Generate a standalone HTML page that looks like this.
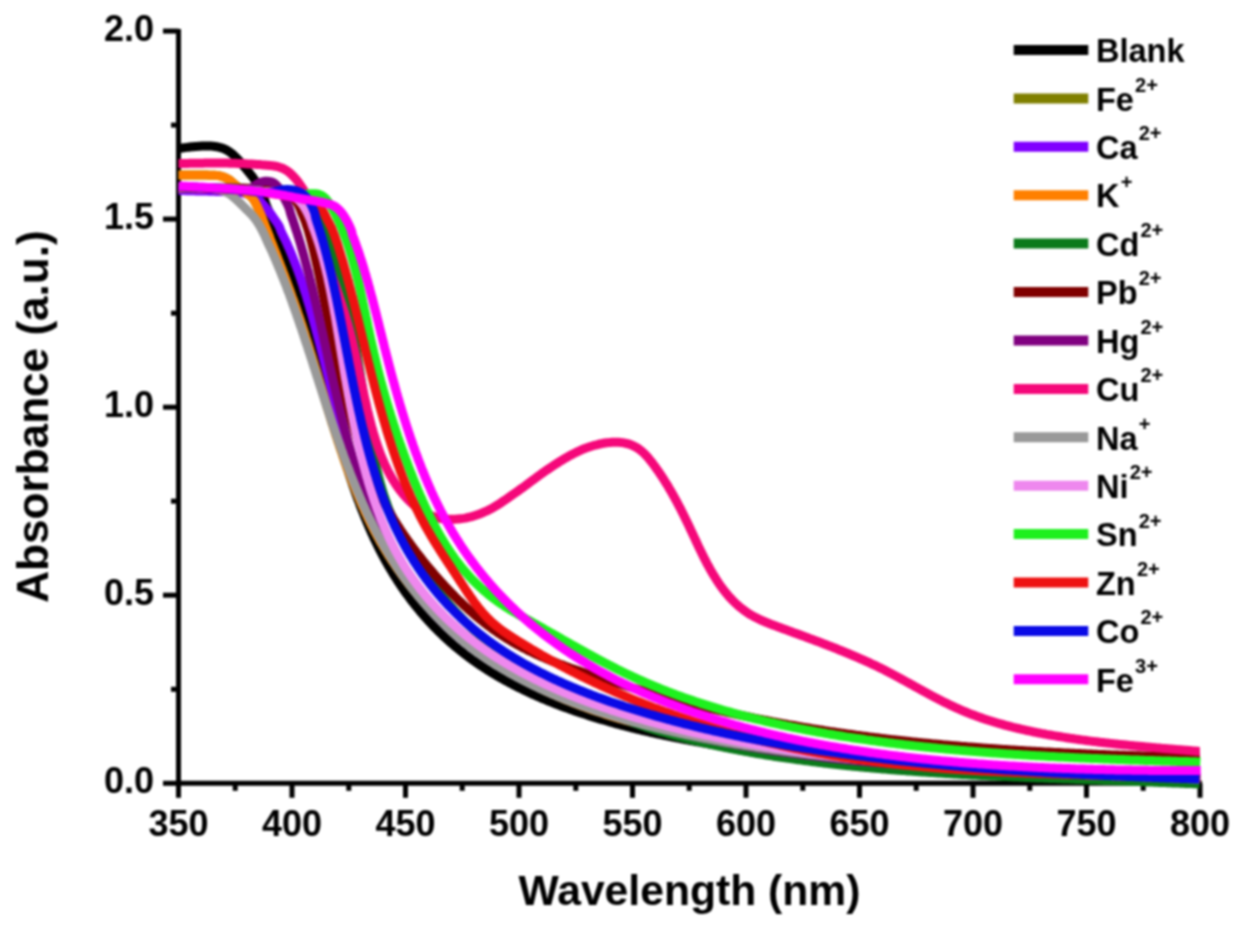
<!DOCTYPE html>
<html><head><meta charset="utf-8"><style>
html,body{margin:0;padding:0;background:#fff;}
svg{display:block;}
#w{filter:blur(1px);width:1243px;height:931px;}
text{font-family:"Liberation Sans",sans-serif;font-weight:bold;fill:#000;}
</style></head><body>
<div id="w"><svg width="1243" height="931" viewBox="0 0 1243 931">
<rect width="1243" height="931" fill="#fff"/>
<g stroke="#000" stroke-width="5" stroke-linecap="butt">
<line x1="178.5" y1="29.09999999999991" x2="178.5" y2="785.3" />
<line x1="176.5" y1="783.3" x2="1202.0" y2="783.3" />
<line x1="163.0" y1="783.3" x2="178.5" y2="783.3" />
<line x1="171.0" y1="689.3" x2="178.5" y2="689.3" />
<line x1="163.0" y1="595.2" x2="178.5" y2="595.2" />
<line x1="171.0" y1="501.2" x2="178.5" y2="501.2" />
<line x1="163.0" y1="407.2" x2="178.5" y2="407.2" />
<line x1="171.0" y1="313.2" x2="178.5" y2="313.2" />
<line x1="163.0" y1="219.1" x2="178.5" y2="219.1" />
<line x1="171.0" y1="125.1" x2="178.5" y2="125.1" />
<line x1="163.0" y1="31.1" x2="178.5" y2="31.1" />
<line x1="178.5" y1="783.3" x2="178.5" y2="797.8" />
<line x1="235.2" y1="783.3" x2="235.2" y2="790.8" />
<line x1="292.0" y1="783.3" x2="292.0" y2="797.8" />
<line x1="348.8" y1="783.3" x2="348.8" y2="790.8" />
<line x1="405.5" y1="783.3" x2="405.5" y2="797.8" />
<line x1="462.2" y1="783.3" x2="462.2" y2="790.8" />
<line x1="519.0" y1="783.3" x2="519.0" y2="797.8" />
<line x1="575.8" y1="783.3" x2="575.8" y2="790.8" />
<line x1="632.5" y1="783.3" x2="632.5" y2="797.8" />
<line x1="689.2" y1="783.3" x2="689.2" y2="790.8" />
<line x1="746.0" y1="783.3" x2="746.0" y2="797.8" />
<line x1="802.8" y1="783.3" x2="802.8" y2="790.8" />
<line x1="859.5" y1="783.3" x2="859.5" y2="797.8" />
<line x1="916.2" y1="783.3" x2="916.2" y2="790.8" />
<line x1="973.0" y1="783.3" x2="973.0" y2="797.8" />
<line x1="1029.8" y1="783.3" x2="1029.8" y2="790.8" />
<line x1="1086.5" y1="783.3" x2="1086.5" y2="797.8" />
<line x1="1143.2" y1="783.3" x2="1143.2" y2="790.8" />
<line x1="1200.0" y1="783.3" x2="1200.0" y2="797.8" />
</g>
<g fill="none" stroke-width="9.0" stroke-linejoin="round" stroke-linecap="butt">
<path d="M178.5 148.5 L180.1 148.3 L181.8 148.1 L183.5 147.8 L185.1 147.6 L186.8 147.4 L188.4 147.2 L190.0 147.0 L191.7 146.8 L193.4 146.7 L195.0 146.5 L196.7 146.4 L198.3 146.3 L200.0 146.2 L201.7 146.1 L203.4 146.0 L205.1 146.0 L206.8 145.9 L208.4 145.9 L210.0 146.0 L211.7 146.1 L213.3 146.3 L214.9 146.5 L216.5 146.7 L218.0 147.0 L219.6 147.4 L221.1 147.8 L222.6 148.3 L224.0 148.8 L225.7 149.6 L227.4 150.5 L229.0 151.5 L230.3 152.4 L231.5 153.4 L232.8 154.4 L234.0 155.5 L235.3 156.7 L236.5 157.9 L237.8 159.2 L239.0 160.5 L240.0 161.7 L241.0 162.8 L242.0 164.1 L243.0 165.3 L244.0 166.5 L245.0 167.7 L246.0 168.9 L247.0 170.1 L248.0 171.3 L249.0 172.5 L250.0 173.8 L251.0 175.0 L252.0 176.3 L253.0 177.6 L254.0 179.0 L254.9 180.3 L255.7 181.6 L256.6 182.9 L257.4 184.2 L258.2 185.6 L259.0 187.0 L259.7 188.4 L260.4 189.9 L261.1 191.4 L261.7 192.9 L262.4 194.4 L263.0 196.0 L263.6 197.5 L264.2 199.2 L264.8 200.8 L265.4 202.5 L265.9 204.1 L266.5 205.6 L267.0 207.0 L267.7 208.6 L268.3 210.1 L268.9 211.5 L269.5 213.0 L270.1 214.5 L270.7 216.0 L271.3 217.5 L271.9 219.1 L272.5 220.6 L273.1 222.1 L273.6 223.7 L274.2 225.2 L274.8 226.8 L275.4 228.3 L276.0 229.9 L276.5 231.4 L277.1 233.0 L277.7 234.5 L278.2 236.1 L278.8 237.6 L279.3 239.2 L279.9 240.8 L280.5 242.3 L281.0 243.9 L281.6 245.5 L282.1 247.0 L282.7 248.6 L283.2 250.2 L283.8 251.8 L284.3 253.3 L284.8 254.9 L285.4 256.5 L285.9 258.1 L286.5 259.7 L287.0 261.3 L287.5 262.8 L288.1 264.4 L288.6 266.0 L289.1 267.6 L289.6 269.2 L290.2 270.8 L290.7 272.4 L291.2 274.0 L291.7 275.6 L292.2 277.2 L292.8 278.8 L293.3 280.4 L293.8 282.0 L294.3 283.6 L294.8 285.3 L295.3 286.9 L295.8 288.5 L296.3 290.1 L296.8 291.7 L297.3 293.3 L297.8 295.0 L298.3 296.6 L298.8 298.2 L299.3 299.8 L299.8 301.5 L300.3 303.1 L300.8 304.7 L301.3 306.3 L301.8 308.0 L302.3 309.6 L302.8 311.2 L303.3 312.9 L303.7 314.5 L304.2 316.2 L304.7 317.8 L305.2 319.4 L305.7 321.1 L306.1 322.7 L306.6 324.4 L307.1 326.0 L307.6 327.7 L308.0 329.3 L308.5 330.9 L309.0 332.6 L309.5 334.2 L309.9 335.9 L310.4 337.6 L310.9 339.2 L311.3 340.9 L311.8 342.5 L312.3 344.2 L312.7 345.8 L313.2 347.5 L313.6 349.2 L314.1 350.8 L314.6 352.5 L315.0 354.1 L315.5 355.8 L315.9 357.5 L316.4 359.1 L316.8 360.8 L317.3 362.5 L317.8 364.1 L318.2 365.8 L318.7 367.5 L319.1 369.1 L319.6 370.8 L320.0 372.5 L320.5 374.1 L320.9 375.8 L321.4 377.5 L321.8 379.2 L322.3 380.8 L322.7 382.5 L323.2 384.2 L323.6 385.8 L324.1 387.5 L324.5 389.2 L325.0 390.9 L325.4 392.5 L325.9 394.2 L326.3 395.9 L326.8 397.5 L327.2 399.2 L327.7 400.9 L328.1 402.5 L328.6 404.2 L329.1 405.9 L329.5 407.5 L330.0 409.2 L330.4 410.9 L330.9 412.5 L331.3 414.2 L331.8 415.9 L332.3 417.5 L332.7 419.2 L333.2 420.8 L333.6 422.5 L334.1 424.1 L334.6 425.8 L335.0 427.5 L335.5 429.1 L336.0 430.8 L336.4 432.4 L336.9 434.1 L337.4 435.7 L337.9 437.4 L338.3 439.0 L338.8 440.6 L339.3 442.3 L339.8 443.9 L340.3 445.6 L340.8 447.2 L341.2 448.8 L341.7 450.5 L342.2 452.1 L342.7 453.7 L343.2 455.4 L343.7 457.0 L344.2 458.6 L344.7 460.2 L345.2 461.8 L345.7 463.4 L346.2 465.1 L346.7 466.7 L347.3 468.3 L347.8 469.9 L348.3 471.5 L348.8 473.1 L349.3 474.7 L349.9 476.3 L350.4 477.9 L350.9 479.5 L351.5 481.1 L352.0 482.6 L352.5 484.2 L353.1 485.8 L353.6 487.4 L354.2 488.9 L354.7 490.5 L355.3 492.1 L355.8 493.6 L356.4 495.2 L357.0 496.8 L357.5 498.3 L358.1 499.9 L358.7 501.4 L359.3 502.9 L359.8 504.5 L360.4 506.0 L361.0 507.5 L361.6 509.1 L362.2 510.6 L362.8 512.1 L363.4 513.6 L364.0 515.1 L364.6 516.7 L365.2 518.2 L365.9 519.7 L366.5 521.2 L367.1 522.7 L367.8 524.1 L368.4 525.6 L369.0 527.1 L369.7 528.6 L370.3 530.1 L371.0 531.5 L371.6 533.0 L372.3 534.4 L373.0 535.9 L373.6 537.3 L374.3 538.8 L375.0 540.2 L375.7 541.7 L376.4 543.1 L377.1 544.5 L377.8 545.9 L378.5 547.3 L379.2 548.8 L379.9 550.2 L380.6 551.6 L381.4 553.0 L382.1 554.3 L382.8 555.7 L383.6 557.1 L384.3 558.5 L385.1 559.9 L385.8 561.2 L386.6 562.6 L387.4 563.9 L388.1 565.3 L388.9 566.6 L389.7 568.0 L390.5 569.3 L391.3 570.6 L392.1 572.0 L392.9 573.3 L393.7 574.6 L394.5 575.9 L395.3 577.2 L396.1 578.5 L397.0 579.8 L397.8 581.1 L398.6 582.4 L399.5 583.6 L400.3 584.9 L401.2 586.2 L402.0 587.4 L402.9 588.7 L403.8 590.0 L404.6 591.2 L405.5 592.4 L406.4 593.7 L407.3 594.9 L408.2 596.1 L409.1 597.3 L410.0 598.6 L410.9 599.8 L411.8 601.0 L412.8 602.2 L413.7 603.4 L414.6 604.6 L415.6 605.7 L416.5 606.9 L417.5 608.1 L418.4 609.2 L419.4 610.4 L420.3 611.6 L421.3 612.7 L422.3 613.9 L423.3 615.0 L424.3 616.1 L425.3 617.3 L426.3 618.4 L427.3 619.5 L428.3 620.6 L429.3 621.7 L430.3 622.8 L431.3 623.9 L432.4 625.0 L433.4 626.1 L434.4 627.2 L435.5 628.2 L436.6 629.3 L437.6 630.4 L438.7 631.4 L439.7 632.5 L440.8 633.5 L441.9 634.5 L443.0 635.6 L444.1 636.6 L445.2 637.6 L446.3 638.6 L447.4 639.7 L448.5 640.7 L449.6 641.7 L450.8 642.7 L451.9 643.6 L453.0 644.6 L454.2 645.6 L455.3 646.6 L456.5 647.5 L457.7 648.5 L458.8 649.5 L460.0 650.4 L461.2 651.3 L462.4 652.3 L463.5 653.2 L464.7 654.1 L465.9 655.1 L467.2 656.0 L468.4 656.9 L469.6 657.8 L470.8 658.7 L472.0 659.6 L473.3 660.5 L474.5 661.3 L475.8 662.2 L477.0 663.1 L478.3 663.9 L479.5 664.8 L480.8 665.7 L482.1 666.5 L483.4 667.3 L484.6 668.2 L485.9 669.0 L487.2 669.8 L488.5 670.7 L489.8 671.5 L491.1 672.3 L492.5 673.1 L493.8 673.9 L495.1 674.7 L496.4 675.5 L497.8 676.3 L499.1 677.0 L500.5 677.8 L501.8 678.6 L503.2 679.3 L504.5 680.1 L505.9 680.9 L507.3 681.6 L508.7 682.3 L510.0 683.1 L511.4 683.8 L512.8 684.5 L514.2 685.3 L515.6 686.0 L517.0 686.7 L518.4 687.4 L519.9 688.1 L521.3 688.8 L522.7 689.5 L524.1 690.2 L525.6 690.9 L527.0 691.6 L528.4 692.3 L529.9 692.9 L531.3 693.6 L532.8 694.3 L534.3 694.9 L535.7 695.6 L537.2 696.2 L538.7 696.9 L540.2 697.5 L541.6 698.2 L543.1 698.8 L544.6 699.4 L546.1 700.0 L547.6 700.7 L549.1 701.3 L550.6 701.9 L552.2 702.5 L553.7 703.1 L555.2 703.7 L556.7 704.3 L558.2 704.9 L559.8 705.5 L561.3 706.1 L562.9 706.6 L564.4 707.2 L566.0 707.8 L567.5 708.3 L569.1 708.9 L570.6 709.5 L572.2 710.0 L573.8 710.6 L575.4 711.1 L576.9 711.7 L578.5 712.2 L580.1 712.7 L581.7 713.3 L583.3 713.8 L584.9 714.3 L586.5 714.8 L588.1 715.4 L589.7 715.9 L591.3 716.4 L592.9 716.9 L594.5 717.4 L596.2 717.9 L597.8 718.4 L599.4 718.9 L601.0 719.4 L602.7 719.8 L604.3 720.3 L606.0 720.8 L607.6 721.3 L609.3 721.8 L610.9 722.2 L612.6 722.7 L614.2 723.1 L615.9 723.6 L617.6 724.1 L619.2 724.5 L620.9 725.0 L622.6 725.4 L624.3 725.8 L625.9 726.3 L627.6 726.7 L629.3 727.2 L631.0 727.6 L632.7 728.0 L634.4 728.4 L636.1 728.9 L637.8 729.3 L639.5 729.7 L641.2 730.1 L642.9 730.5 L644.7 730.9 L646.4 731.3 L648.1 731.7 L649.8 732.1 L651.5 732.5 L653.3 732.9 L655.0 733.3 L656.7 733.7 L658.5 734.0 L660.2 734.4 L662.0 734.8 L663.7 735.2 L665.5 735.5 L667.2 735.9 L669.0 736.3 L670.7 736.6 L672.5 737.0 L674.3 737.4 L676.0 737.7 L677.8 738.1 L679.6 738.4 L681.3 738.8 L683.1 739.1 L684.9 739.5 L686.7 739.8 L688.5 740.1 L690.2 740.5 L692.0 740.8 L693.8 741.1 L695.6 741.5 L697.4 741.8 L699.2 742.1 L701.0 742.4 L702.8 742.8 L704.6 743.1 L706.4 743.4 L708.2 743.7 L710.0 744.0 L711.9 744.3 L713.7 744.6 L715.5 744.9 L717.3 745.2 L719.1 745.5 L721.0 745.8 L722.8 746.1 L724.6 746.4 L726.4 746.7 L728.3 747.0 L730.1 747.3 L731.9 747.6 L733.8 747.8 L735.6 748.1 L737.5 748.4 L739.3 748.7 L741.1 749.0 L743.0 749.2 L744.8 749.5 L746.7 749.8 L748.6 750.0 L750.4 750.3 L751.9 750.5 L753.4 750.7 L754.9 750.9 L756.4 751.2 L757.8 751.4 L759.3 751.6 L760.8 751.8 L762.3 752.0 L763.8 752.2 L765.3 752.4 L766.8 752.6 L768.3 752.8 L769.8 753.0 L771.3 753.2 L772.8 753.4 L774.3 753.6 L775.8 753.8 L777.3 754.0 L778.8 754.2 L780.3 754.4 L781.8 754.6 L783.3 754.7 L784.8 754.9 L786.3 755.1 L787.8 755.3 L789.3 755.5 L790.9 755.7 L792.4 755.9 L793.9 756.1 L795.4 756.2 L796.9 756.4 L798.4 756.6 L799.9 756.8 L801.5 757.0 L803.0 757.1 L804.5 757.3 L806.0 757.5 L807.5 757.7 L809.0 757.9 L810.6 758.0 L812.1 758.2 L813.6 758.4 L815.1 758.6 L816.7 758.7 L818.2 758.9 L819.7 759.1 L821.2 759.3 L822.8 759.4 L824.3 759.6 L825.8 759.8 L827.3 759.9 L828.9 760.1 L830.4 760.3 L831.9 760.4 L833.4 760.6 L835.0 760.8 L836.5 760.9 L838.0 761.1 L839.6 761.3 L841.1 761.4 L842.6 761.6 L844.2 761.8 L845.7 761.9 L847.3 762.1 L848.8 762.2 L850.3 762.4 L851.9 762.6 L853.4 762.7 L854.9 762.9 L856.5 763.0 L858.0 763.2 L859.6 763.3 L861.1 763.5 L862.6 763.7 L864.2 763.8 L865.7 764.0 L867.3 764.1 L868.8 764.3 L870.4 764.4 L871.9 764.6 L873.5 764.7 L875.0 764.9 L876.6 765.0 L878.1 765.2 L879.7 765.3 L881.2 765.5 L882.8 765.6 L884.3 765.7 L885.9 765.9 L887.4 766.0 L889.0 766.2 L890.5 766.3 L892.1 766.5 L893.6 766.6 L895.2 766.7 L896.7 766.9 L898.3 767.0 L899.9 767.2 L901.4 767.3 L903.0 767.4 L904.5 767.6 L906.1 767.7 L907.7 767.9 L909.2 768.0 L910.8 768.1 L912.4 768.3 L913.9 768.4 L915.5 768.5 L917.0 768.6 L918.6 768.8 L920.2 768.9 L921.8 769.0 L923.3 769.2 L924.9 769.3 L926.5 769.4 L928.0 769.6 L929.6 769.7 L931.2 769.8 L932.7 769.9 L934.3 770.1 L935.9 770.2 L937.5 770.3 L939.0 770.4 L940.6 770.5 L942.2 770.7 L943.8 770.8 L945.3 770.9 L946.9 771.0 L948.5 771.1 L950.1 771.3 L951.7 771.4 L953.2 771.5 L954.8 771.6 L956.4 771.7 L958.0 771.8 L959.6 771.9 L961.2 772.1 L962.7 772.2 L964.3 772.3 L965.9 772.4 L967.5 772.5 L969.1 772.6 L970.7 772.7 L972.3 772.8 L973.9 772.9 L975.4 773.0 L977.0 773.1 L978.6 773.3 L980.2 773.4 L981.8 773.5 L983.4 773.6 L985.0 773.7 L986.6 773.8 L988.2 773.9 L989.8 774.0 L991.4 774.1 L993.0 774.2 L994.6 774.3 L996.2 774.4 L997.8 774.5 L999.4 774.6 L1001.0 774.7 L1002.6 774.8 L1004.2 774.8 L1005.8 774.9 L1007.4 775.0 L1009.0 775.1 L1010.6 775.2 L1012.2 775.3 L1013.8 775.4 L1015.4 775.5 L1017.0 775.6 L1018.6 775.7 L1020.3 775.8 L1021.9 775.8 L1023.5 775.9 L1025.1 776.0 L1026.7 776.1 L1028.3 776.2 L1029.9 776.3 L1031.5 776.3 L1033.2 776.4 L1034.8 776.5 L1036.4 776.6 L1038.0 776.7 L1039.6 776.7 L1041.2 776.8 L1042.9 776.9 L1044.5 777.0 L1046.1 777.1 L1047.7 777.1 L1049.3 777.2 L1051.0 777.3 L1052.6 777.4 L1054.2 777.4 L1055.8 777.5 L1057.5 777.6 L1059.1 777.6 L1060.7 777.7 L1062.3 777.8 L1064.0 777.9 L1065.6 777.9 L1067.2 778.0 L1068.9 778.1 L1070.5 778.1 L1072.1 778.2 L1073.8 778.2 L1075.4 778.3 L1077.0 778.4 L1078.7 778.4 L1080.3 778.5 L1081.9 778.6 L1083.6 778.6 L1085.2 778.7 L1086.8 778.7 L1088.5 778.8 L1090.1 778.9 L1091.8 778.9 L1093.4 779.0 L1095.0 779.0 L1096.7 779.1 L1098.3 779.1 L1100.0 779.2 L1101.6 779.2 L1103.3 779.3 L1104.9 779.3 L1106.6 779.4 L1108.2 779.4 L1109.9 779.5 L1111.5 779.5 L1113.2 779.6 L1114.8 779.6 L1116.5 779.7 L1118.1 779.7 L1119.8 779.8 L1121.4 779.8 L1123.1 779.9 L1124.7 779.9 L1126.4 779.9 L1128.0 780.0 L1129.7 780.0 L1131.3 780.1 L1133.0 780.1 L1134.7 780.1 L1136.3 780.2 L1138.0 780.2 L1139.6 780.2 L1141.3 780.3 L1143.0 780.3 L1144.6 780.4 L1146.3 780.4 L1148.0 780.4 L1149.6 780.4 L1151.3 780.5 L1153.0 780.5 L1154.6 780.5 L1156.3 780.6 L1158.0 780.6 L1159.6 780.6 L1161.3 780.6 L1163.0 780.7 L1164.6 780.7 L1166.3 780.7 L1168.0 780.7 L1169.7 780.8 L1171.3 780.8 L1173.0 780.8 L1174.7 780.8 L1176.4 780.9 L1178.0 780.9 L1179.7 780.9 L1181.4 780.9 L1183.1 780.9 L1184.8 780.9 L1186.4 781.0 L1188.2 781.0 L1189.9 781.0 L1191.7 781.0 L1193.3 781.0 L1194.9 781.0 L1196.7 781.0 L1198.3 781.1 L1199.9 781.1" stroke="#000000"/>
<path d="M178.5 175.0 L180.0 175.0 L181.5 175.0 L183.0 175.0 L184.5 175.0 L186.0 175.0 L187.6 175.0 L189.1 175.0 L190.6 175.0 L192.0 175.0 L193.5 175.0 L195.0 175.0 L196.6 175.0 L198.1 175.0 L199.7 175.0 L201.3 175.0 L202.8 175.1 L204.4 175.1 L205.9 175.1 L207.3 175.1 L208.7 175.2 L210.0 175.2 L211.8 175.2 L213.5 175.3 L215.1 175.3 L216.6 175.4 L218.0 175.6 L219.8 175.9 L221.4 176.3 L223.0 176.8 L224.7 177.4 L226.4 178.2 L228.0 179.0 L229.4 179.9 L230.7 180.9 L232.0 182.0 L233.3 183.1 L234.6 184.3 L236.0 185.5 L237.2 186.5 L238.4 187.5 L239.7 188.5 L241.0 189.5 L242.5 190.5 L244.0 191.5 L245.5 192.5 L247.0 193.5 L248.3 194.5 L249.7 195.4 L250.9 196.4 L252.0 197.5 L253.1 198.9 L254.1 200.4 L255.0 202.0 L255.8 203.4 L256.5 204.9 L257.3 206.4 L258.0 208.0 L258.6 209.4 L259.2 210.7 L259.8 212.1 L260.4 213.6 L261.0 215.0 L261.6 216.6 L262.2 218.2 L262.8 219.8 L263.4 221.5 L264.0 223.0 L264.6 224.6 L265.2 226.1 L265.8 227.6 L266.4 229.1 L267.0 230.7 L267.6 232.2 L268.2 233.7 L268.8 235.2 L269.4 236.7 L269.9 238.3 L270.5 239.8 L271.1 241.3 L271.7 242.8 L272.3 244.4 L272.9 245.9 L273.5 247.4 L274.1 249.0 L274.7 250.5 L275.3 252.0 L275.9 253.5 L276.5 255.1 L277.1 256.6 L277.7 258.1 L278.2 259.7 L278.8 261.2 L279.4 262.7 L280.0 264.3 L280.6 265.8 L281.2 267.3 L281.8 268.9 L282.3 270.4 L282.9 272.0 L283.5 273.5 L284.1 275.0 L284.7 276.6 L285.2 278.1 L285.8 279.7 L286.4 281.2 L287.0 282.8 L287.5 284.3 L288.1 285.9 L288.7 287.4 L289.2 289.0 L289.8 290.5 L290.4 292.1 L290.9 293.7 L291.5 295.2 L292.0 296.8 L292.6 298.3 L293.2 299.9 L293.7 301.5 L294.3 303.0 L294.8 304.6 L295.4 306.2 L295.9 307.7 L296.5 309.3 L297.0 310.9 L297.6 312.5 L298.1 314.1 L298.6 315.6 L299.2 317.2 L299.7 318.8 L300.3 320.4 L300.8 322.0 L301.3 323.6 L301.9 325.2 L302.4 326.7 L302.9 328.3 L303.4 329.9 L304.0 331.5 L304.5 333.1 L305.0 334.7 L305.5 336.4 L306.0 338.0 L306.5 339.6 L307.0 341.2 L307.6 342.8 L308.1 344.4 L308.6 346.0 L309.1 347.6 L309.6 349.2 L310.1 350.9 L310.6 352.5 L311.1 354.1 L311.6 355.7 L312.1 357.3 L312.6 359.0 L313.1 360.6 L313.6 362.2 L314.1 363.8 L314.6 365.5 L315.1 367.1 L315.6 368.7 L316.1 370.3 L316.6 372.0 L317.1 373.6 L317.5 375.2 L318.0 376.8 L318.5 378.5 L319.0 380.1 L319.5 381.7 L320.0 383.4 L320.5 385.0 L321.0 386.6 L321.5 388.3 L322.0 389.9 L322.5 391.5 L323.0 393.1 L323.5 394.8 L324.0 396.4 L324.4 398.0 L324.9 399.6 L325.4 401.3 L325.9 402.9 L326.4 404.5 L326.9 406.2 L327.4 407.8 L327.9 409.4 L328.4 411.0 L328.9 412.6 L329.4 414.3 L329.9 415.9 L330.4 417.5 L330.9 419.1 L331.4 420.7 L331.9 422.3 L332.4 424.0 L333.0 425.6 L333.5 427.2 L334.0 428.8 L334.5 430.4 L335.0 432.0 L335.5 433.6 L336.0 435.2 L336.6 436.8 L337.1 438.4 L337.6 440.0 L338.1 441.6 L338.7 443.2 L339.2 444.8 L339.7 446.4 L340.2 448.0 L340.8 449.6 L341.3 451.2 L341.9 452.7 L342.4 454.3 L342.9 455.9 L343.5 457.5 L344.0 459.0 L344.6 460.6 L345.1 462.2 L345.7 463.7 L346.3 465.3 L346.8 466.9 L347.4 468.4 L348.0 470.0 L348.5 471.5 L349.1 473.1 L349.7 474.6 L350.3 476.2 L350.8 477.7 L351.4 479.2 L352.0 480.8 L352.6 482.3 L353.2 483.8 L353.8 485.3 L354.4 486.9 L355.0 488.4 L355.6 489.9 L356.2 491.4 L356.8 492.9 L357.5 494.4 L358.1 495.9 L358.7 497.4 L359.3 498.9 L360.0 500.4 L360.6 501.8 L361.3 503.3 L361.9 504.8 L362.6 506.3 L363.2 507.7 L363.9 509.2 L364.5 510.7 L365.2 512.1 L365.9 513.6 L366.6 515.0 L367.3 516.4 L367.9 517.9 L368.6 519.3 L369.3 520.7 L370.0 522.1 L370.7 523.6 L371.4 525.0 L372.2 526.4 L372.9 527.8 L373.6 529.2 L374.3 530.6 L375.1 531.9 L375.8 533.3 L376.6 534.7 L377.3 536.1 L378.1 537.4 L378.8 538.8 L379.6 540.2 L380.3 541.5 L381.1 542.9 L381.9 544.2 L382.7 545.5 L383.5 546.9 L384.3 548.2 L385.1 549.5 L385.9 550.9 L386.7 552.2 L387.5 553.5 L388.3 554.8 L389.1 556.1 L390.0 557.4 L390.8 558.7 L391.6 560.0 L392.5 561.2 L393.3 562.5 L394.2 563.8 L395.0 565.0 L395.9 566.3 L396.7 567.6 L397.6 568.8 L398.5 570.1 L399.4 571.3 L400.2 572.5 L401.1 573.8 L402.0 575.0 L402.9 576.2 L403.8 577.4 L404.7 578.7 L405.6 579.9 L406.6 581.1 L407.5 582.3 L408.4 583.5 L409.3 584.7 L410.3 585.8 L411.2 587.0 L412.2 588.2 L413.1 589.4 L414.1 590.5 L415.0 591.7 L416.0 592.9 L417.0 594.0 L417.9 595.2 L418.9 596.3 L419.9 597.4 L420.9 598.6 L421.9 599.7 L422.9 600.8 L423.9 602.0 L424.9 603.1 L425.9 604.2 L426.9 605.3 L427.9 606.4 L428.9 607.5 L430.0 608.6 L431.0 609.7 L432.0 610.8 L433.1 611.8 L434.1 612.9 L435.2 614.0 L436.2 615.0 L437.3 616.1 L438.4 617.2 L439.4 618.2 L440.5 619.3 L441.6 620.3 L442.7 621.3 L443.7 622.4 L444.8 623.4 L445.9 624.4 L447.0 625.4 L448.1 626.5 L449.3 627.5 L450.4 628.5 L451.5 629.5 L452.6 630.5 L453.7 631.5 L454.9 632.5 L456.0 633.4 L457.2 634.4 L458.3 635.4 L459.5 636.4 L460.6 637.3 L461.8 638.3 L462.9 639.2 L464.1 640.2 L465.3 641.1 L466.5 642.1 L467.6 643.0 L468.8 644.0 L470.0 644.9 L471.2 645.8 L472.4 646.7 L473.6 647.6 L474.8 648.6 L476.1 649.5 L477.3 650.4 L478.5 651.3 L479.7 652.2 L481.0 653.0 L482.2 653.9 L483.4 654.8 L484.7 655.7 L485.9 656.6 L487.2 657.4 L488.4 658.3 L489.7 659.1 L491.0 660.0 L492.2 660.8 L493.5 661.7 L494.8 662.5 L496.1 663.4 L497.4 664.2 L498.7 665.0 L500.0 665.9 L501.3 666.7 L502.6 667.5 L503.9 668.3 L505.2 669.1 L506.5 669.9 L507.9 670.7 L509.2 671.5 L510.5 672.3 L511.9 673.1 L513.2 673.8 L514.5 674.6 L515.9 675.4 L517.2 676.2 L518.6 676.9 L520.0 677.7 L521.3 678.4 L522.7 679.2 L524.1 679.9 L525.5 680.7 L526.8 681.4 L528.2 682.1 L529.6 682.9 L531.0 683.6 L532.4 684.3 L533.8 685.0 L535.2 685.7 L536.7 686.4 L538.1 687.1 L539.5 687.8 L540.9 688.5 L542.4 689.2 L543.8 689.9 L545.2 690.6 L546.7 691.3 L548.1 691.9 L549.6 692.6 L551.0 693.3 L552.5 693.9 L554.0 694.6 L555.4 695.2 L556.9 695.9 L558.4 696.5 L559.9 697.2 L561.4 697.8 L562.9 698.4 L564.4 699.1 L565.9 699.7 L567.4 700.3 L568.9 700.9 L570.4 701.5 L571.9 702.1 L573.4 702.7 L574.9 703.3 L576.5 703.9 L578.0 704.5 L579.5 705.1 L581.1 705.7 L582.6 706.2 L584.2 706.8 L585.7 707.4 L587.3 707.9 L588.8 708.5 L590.4 709.1 L592.0 709.6 L593.6 710.2 L595.1 710.7 L596.7 711.2 L598.3 711.8 L599.9 712.3 L601.5 712.8 L603.1 713.3 L604.7 713.9 L606.3 714.4 L607.9 714.9 L609.5 715.4 L611.1 715.9 L612.8 716.4 L614.4 716.9 L616.0 717.4 L617.7 717.9 L619.3 718.4 L620.9 718.8 L622.6 719.3 L624.2 719.8 L625.9 720.2 L627.6 720.7 L629.2 721.2 L630.9 721.6 L632.5 722.1 L634.2 722.5 L635.9 723.0 L637.6 723.4 L639.3 723.9 L640.9 724.3 L642.6 724.7 L644.3 725.2 L646.0 725.6 L647.7 726.0 L649.4 726.4 L651.1 726.8 L652.8 727.2 L654.5 727.7 L656.3 728.1 L658.0 728.5 L659.7 728.9 L661.4 729.3 L663.2 729.6 L664.9 730.0 L666.6 730.4 L668.4 730.8 L670.1 731.2 L671.9 731.6 L673.6 731.9 L675.4 732.3 L677.1 732.7 L678.9 733.0 L680.6 733.4 L682.4 733.8 L684.1 734.1 L685.9 734.5 L687.7 734.8 L689.5 735.2 L691.2 735.5 L693.0 735.9 L694.8 736.2 L696.6 736.5 L698.4 736.9 L700.2 737.2 L701.9 737.5 L703.7 737.9 L705.5 738.2 L707.3 738.5 L709.1 738.8 L710.9 739.1 L712.7 739.5 L714.6 739.8 L716.4 740.1 L718.2 740.4 L720.0 740.7 L721.8 741.0 L723.6 741.3 L725.5 741.6 L727.3 741.9 L729.1 742.2 L730.9 742.5 L732.8 742.8 L734.6 743.0 L736.4 743.3 L738.3 743.6 L740.1 743.9 L742.0 744.2 L743.8 744.5 L745.7 744.7 L747.5 745.0 L749.4 745.3 L751.2 745.5 L752.7 745.8 L754.2 746.0 L755.7 746.2 L757.1 746.4 L758.6 746.6 L760.1 746.8 L761.6 747.0 L763.1 747.2 L764.6 747.4 L766.1 747.6 L767.6 747.8 L769.1 748.0 L770.6 748.2 L772.1 748.4 L773.6 748.6 L775.1 748.8 L776.6 749.0 L778.1 749.2 L779.6 749.4 L781.1 749.6 L782.6 749.8 L784.1 750.0 L785.6 750.2 L787.1 750.4 L788.6 750.6 L790.1 750.8 L791.6 750.9 L793.1 751.1 L794.6 751.3 L796.2 751.5 L797.7 751.7 L799.2 751.9 L800.7 752.1 L802.2 752.2 L803.7 752.4 L805.2 752.6 L806.8 752.8 L808.3 753.0 L809.8 753.1 L811.3 753.3 L812.8 753.5 L814.4 753.7 L815.9 753.8 L817.4 754.0 L818.9 754.2 L820.4 754.4 L822.0 754.5 L823.5 754.7 L825.0 754.9 L826.5 755.1 L828.1 755.2 L829.6 755.4 L831.1 755.6 L832.6 755.7 L834.2 755.9 L835.7 756.1 L837.2 756.2 L838.8 756.4 L840.3 756.6 L841.8 756.7 L843.4 756.9 L844.9 757.1 L846.4 757.2 L848.0 757.4 L849.5 757.6 L851.0 757.7 L852.6 757.9 L854.1 758.1 L855.6 758.2 L857.2 758.4 L858.7 758.5 L860.2 758.7 L861.8 758.8 L863.3 759.0 L864.9 759.2 L866.4 759.3 L867.9 759.5 L869.5 759.6 L871.0 759.8 L872.6 759.9 L874.1 760.1 L875.7 760.2 L877.2 760.4 L878.7 760.6 L880.3 760.7 L881.8 760.9 L883.4 761.0 L884.9 761.2 L886.5 761.3 L888.0 761.5 L889.6 761.6 L891.1 761.7 L892.7 761.9 L894.2 762.0 L895.8 762.2 L897.3 762.3 L898.9 762.5 L900.4 762.6 L902.0 762.8 L903.6 762.9 L905.1 763.0 L906.7 763.2 L908.2 763.3 L909.8 763.5 L911.3 763.6 L912.9 763.7 L914.5 763.9 L916.0 764.0 L917.6 764.2 L919.1 764.3 L920.7 764.4 L922.3 764.6 L923.8 764.7 L925.4 764.8 L926.9 765.0 L928.5 765.1 L930.1 765.2 L931.6 765.4 L933.2 765.5 L934.8 765.6 L936.3 765.7 L937.9 765.9 L939.5 766.0 L941.1 766.1 L942.6 766.3 L944.2 766.4 L945.8 766.5 L947.3 766.6 L948.9 766.8 L950.5 766.9 L952.1 767.0 L953.6 767.1 L955.2 767.3 L956.8 767.4 L958.4 767.5 L959.9 767.6 L961.5 767.7 L963.1 767.9 L964.7 768.0 L966.2 768.1 L967.8 768.2 L969.4 768.3 L971.0 768.4 L972.6 768.6 L974.2 768.7 L975.7 768.8 L977.3 768.9 L978.9 769.0 L980.5 769.1 L982.1 769.2 L983.7 769.3 L985.3 769.5 L986.8 769.6 L988.4 769.7 L990.0 769.8 L991.6 769.9 L993.2 770.0 L994.8 770.1 L996.4 770.2 L998.0 770.3 L999.6 770.4 L1001.2 770.5 L1002.7 770.6 L1004.3 770.7 L1005.9 770.8 L1007.5 770.9 L1009.1 771.0 L1010.7 771.1 L1012.3 771.2 L1013.9 771.3 L1015.5 771.4 L1017.1 771.5 L1018.7 771.6 L1020.3 771.7 L1021.9 771.8 L1023.5 771.9 L1025.1 772.0 L1026.7 772.1 L1028.3 772.2 L1029.9 772.3 L1031.5 772.4 L1033.2 772.5 L1034.8 772.5 L1036.4 772.6 L1038.0 772.7 L1039.6 772.8 L1041.2 772.9 L1042.8 773.0 L1044.4 773.1 L1046.0 773.2 L1047.6 773.2 L1049.3 773.3 L1050.9 773.4 L1052.5 773.5 L1054.1 773.6 L1055.7 773.7 L1057.3 773.7 L1058.9 773.8 L1060.6 773.9 L1062.2 774.0 L1063.8 774.1 L1065.4 774.1 L1067.0 774.2 L1068.7 774.3 L1070.3 774.4 L1071.9 774.4 L1073.5 774.5 L1075.1 774.6 L1076.8 774.7 L1078.4 774.7 L1080.0 774.8 L1081.6 774.9 L1083.3 775.0 L1084.9 775.0 L1086.5 775.1 L1088.2 775.2 L1089.8 775.2 L1091.4 775.3 L1093.0 775.4 L1094.7 775.4 L1096.3 775.5 L1097.9 775.6 L1099.6 775.6 L1101.2 775.7 L1102.8 775.8 L1104.5 775.8 L1106.1 775.9 L1107.7 775.9 L1109.4 776.0 L1111.0 776.1 L1112.7 776.1 L1114.3 776.2 L1115.9 776.2 L1117.6 776.3 L1119.2 776.3 L1120.9 776.4 L1122.5 776.5 L1124.1 776.5 L1125.8 776.6 L1127.4 776.6 L1129.1 776.7 L1130.7 776.7 L1132.4 776.8 L1134.0 776.8 L1135.7 776.9 L1137.3 776.9 L1139.0 777.0 L1140.6 777.0 L1142.3 777.1 L1143.9 777.1 L1145.6 777.1 L1147.2 777.2 L1148.9 777.2 L1150.5 777.3 L1152.2 777.3 L1153.8 777.4 L1155.5 777.4 L1157.1 777.4 L1158.8 777.5 L1160.5 777.5 L1162.1 777.6 L1163.8 777.6 L1165.4 777.6 L1167.1 777.7 L1168.8 777.7 L1170.4 777.7 L1172.1 777.8 L1173.8 777.8 L1175.4 777.8 L1177.1 777.9 L1178.7 777.9 L1180.4 777.9 L1182.1 778.0 L1183.8 778.0 L1185.4 778.0 L1187.1 778.0 L1188.8 778.1 L1190.5 778.1 L1192.2 778.1 L1193.8 778.2 L1195.4 778.2 L1197.1 778.2 L1198.7 778.2 L1200.3 778.2" stroke="#808000"/>
<path d="M178.5 190.5 L180.0 190.5 L181.6 190.6 L183.2 190.6 L184.8 190.6 L186.4 190.7 L188.0 190.7 L189.6 190.7 L191.3 190.8 L192.9 190.8 L194.5 190.8 L196.1 190.9 L197.8 190.9 L199.4 191.0 L201.0 191.0 L202.6 191.0 L204.2 191.1 L205.7 191.1 L207.3 191.1 L208.8 191.2 L210.3 191.2 L211.8 191.2 L213.2 191.3 L214.7 191.3 L216.0 191.4 L217.4 191.4 L218.7 191.5 L220.0 191.5 L221.8 191.6 L223.6 191.6 L225.3 191.7 L227.0 191.7 L228.6 191.8 L230.2 191.9 L231.8 191.9 L233.3 192.0 L234.8 192.1 L236.2 192.2 L237.5 192.3 L238.8 192.4 L240.0 192.5 L241.9 192.7 L243.5 193.0 L245.1 193.3 L246.5 193.6 L248.0 194.0 L249.6 194.5 L251.1 195.1 L252.6 195.8 L254.0 196.5 L255.3 197.3 L256.6 198.1 L257.8 199.0 L259.0 200.0 L260.3 201.2 L261.5 202.6 L262.8 204.1 L264.0 205.5 L265.0 206.7 L266.0 207.8 L267.0 209.0 L268.0 210.3 L269.0 211.5 L270.0 212.8 L271.0 214.2 L272.0 215.6 L273.0 217.1 L274.0 218.5 L274.9 219.7 L275.8 221.0 L276.7 222.3 L277.5 223.5 L278.3 224.8 L279.0 226.0 L279.7 227.5 L280.3 229.1 L280.8 230.6 L281.4 232.1 L282.1 233.5 L282.8 234.9 L283.5 236.3 L284.2 237.8 L284.9 239.2 L285.6 240.6 L286.3 242.1 L286.9 243.5 L287.6 245.0 L288.2 246.5 L288.9 247.9 L289.5 249.4 L290.1 250.9 L290.8 252.4 L291.4 253.9 L292.0 255.4 L292.6 256.9 L293.2 258.4 L293.8 260.0 L294.4 261.5 L295.0 263.0 L295.6 264.6 L296.2 266.1 L296.8 267.6 L297.3 269.2 L297.9 270.7 L298.5 272.3 L299.0 273.9 L299.6 275.4 L300.1 277.0 L300.7 278.6 L301.2 280.2 L301.7 281.8 L302.3 283.4 L302.8 285.0 L303.3 286.6 L303.8 288.2 L304.3 289.8 L304.8 291.4 L305.4 293.0 L305.9 294.6 L306.4 296.2 L306.9 297.9 L307.3 299.5 L307.8 301.1 L308.3 302.7 L308.8 304.4 L309.3 306.0 L309.8 307.7 L310.2 309.3 L310.7 311.0 L311.2 312.6 L311.7 314.3 L312.1 315.9 L312.6 317.6 L313.1 319.2 L313.5 320.9 L314.0 322.5 L314.4 324.2 L314.9 325.9 L315.3 327.5 L315.8 329.2 L316.2 330.9 L316.7 332.6 L317.1 334.2 L317.6 335.9 L318.0 337.6 L318.5 339.3 L318.9 340.9 L319.3 342.6 L319.8 344.3 L320.2 346.0 L320.7 347.7 L321.1 349.4 L321.5 351.0 L322.0 352.7 L322.4 354.4 L322.9 356.1 L323.3 357.8 L323.7 359.5 L324.2 361.1 L324.6 362.8 L325.0 364.5 L325.5 366.2 L325.9 367.9 L326.3 369.6 L326.8 371.3 L327.2 373.0 L327.6 374.6 L328.1 376.3 L328.5 378.0 L329.0 379.7 L329.4 381.4 L329.8 383.1 L330.3 384.7 L330.7 386.4 L331.1 388.1 L331.6 389.8 L332.0 391.5 L332.5 393.2 L332.9 394.8 L333.3 396.5 L333.8 398.2 L334.2 399.9 L334.7 401.5 L335.1 403.2 L335.6 404.9 L336.0 406.6 L336.5 408.2 L336.9 409.9 L337.4 411.6 L337.8 413.3 L338.3 414.9 L338.7 416.6 L339.2 418.3 L339.6 419.9 L340.1 421.6 L340.6 423.2 L341.0 424.9 L341.5 426.6 L342.0 428.2 L342.4 429.9 L342.9 431.5 L343.4 433.2 L343.8 434.8 L344.3 436.5 L344.8 438.1 L345.3 439.8 L345.7 441.4 L346.2 443.0 L346.7 444.7 L347.2 446.3 L347.7 447.9 L348.2 449.6 L348.7 451.2 L349.2 452.8 L349.7 454.4 L350.2 456.1 L350.7 457.7 L351.2 459.3 L351.7 460.9 L352.2 462.5 L352.7 464.1 L353.2 465.7 L353.8 467.3 L354.3 468.9 L354.8 470.5 L355.3 472.1 L355.9 473.7 L356.4 475.3 L356.9 476.9 L357.5 478.5 L358.0 480.0 L358.6 481.6 L359.1 483.2 L359.7 484.7 L360.2 486.3 L360.8 487.9 L361.4 489.4 L361.9 491.0 L362.5 492.5 L363.1 494.1 L363.6 495.6 L364.2 497.2 L364.8 498.7 L365.4 500.2 L366.0 501.7 L366.6 503.3 L367.2 504.8 L367.8 506.3 L368.4 507.8 L369.0 509.3 L369.6 510.8 L370.3 512.3 L370.9 513.8 L371.5 515.3 L372.2 516.8 L372.8 518.3 L373.4 519.8 L374.1 521.2 L374.7 522.7 L375.4 524.2 L376.1 525.6 L376.7 527.1 L377.4 528.5 L378.1 530.0 L378.7 531.4 L379.4 532.9 L380.1 534.3 L380.8 535.7 L381.5 537.1 L382.2 538.6 L382.9 540.0 L383.7 541.4 L384.4 542.8 L385.1 544.2 L385.8 545.6 L386.6 546.9 L387.3 548.3 L388.1 549.7 L388.8 551.1 L389.6 552.4 L390.3 553.8 L391.1 555.1 L391.9 556.5 L392.7 557.8 L393.4 559.2 L394.2 560.5 L395.0 561.8 L395.8 563.1 L396.6 564.5 L397.4 565.8 L398.3 567.1 L399.1 568.4 L399.9 569.7 L400.7 570.9 L401.6 572.2 L402.4 573.5 L403.3 574.8 L404.1 576.0 L405.0 577.3 L405.9 578.6 L406.7 579.8 L407.6 581.1 L408.5 582.3 L409.4 583.5 L410.3 584.8 L411.2 586.0 L412.1 587.2 L413.0 588.4 L413.9 589.6 L414.8 590.8 L415.7 592.0 L416.7 593.2 L417.6 594.4 L418.5 595.6 L419.5 596.7 L420.4 597.9 L421.4 599.1 L422.4 600.2 L423.3 601.4 L424.3 602.5 L425.3 603.7 L426.3 604.8 L427.3 605.9 L428.3 607.1 L429.3 608.2 L430.3 609.3 L431.3 610.4 L432.3 611.5 L433.3 612.6 L434.3 613.7 L435.4 614.8 L436.4 615.9 L437.4 617.0 L438.5 618.0 L439.6 619.1 L440.6 620.2 L441.7 621.2 L442.7 622.3 L443.8 623.3 L444.9 624.4 L446.0 625.4 L447.1 626.4 L448.2 627.5 L449.3 628.5 L450.4 629.5 L451.5 630.5 L452.6 631.5 L453.7 632.5 L454.9 633.5 L456.0 634.5 L457.1 635.5 L458.3 636.5 L459.4 637.4 L460.6 638.4 L461.7 639.4 L462.9 640.3 L464.1 641.3 L465.2 642.2 L466.4 643.1 L467.6 644.1 L468.8 645.0 L470.0 645.9 L471.2 646.9 L472.4 647.8 L473.6 648.7 L474.8 649.6 L476.1 650.5 L477.3 651.4 L478.5 652.3 L479.8 653.1 L481.0 654.0 L482.3 654.9 L483.5 655.8 L484.8 656.6 L486.0 657.5 L487.3 658.3 L488.6 659.2 L489.9 660.0 L491.2 660.8 L492.4 661.7 L493.7 662.5 L495.0 663.3 L496.4 664.1 L497.7 664.9 L499.0 665.7 L500.3 666.5 L501.6 667.3 L503.0 668.1 L504.3 668.9 L505.6 669.7 L507.0 670.5 L508.3 671.2 L509.7 672.0 L511.1 672.8 L512.4 673.5 L513.8 674.3 L515.2 675.0 L516.6 675.7 L518.0 676.5 L519.3 677.2 L520.7 677.9 L522.1 678.7 L523.5 679.4 L525.0 680.1 L526.4 680.8 L527.8 681.5 L529.2 682.2 L530.6 682.9 L532.1 683.6 L533.5 684.2 L535.0 684.9 L536.4 685.6 L537.9 686.3 L539.3 686.9 L540.8 687.6 L542.2 688.2 L543.7 688.9 L545.2 689.5 L546.7 690.2 L548.2 690.8 L549.6 691.5 L551.1 692.1 L552.6 692.7 L554.1 693.3 L555.6 693.9 L557.1 694.6 L558.7 695.2 L560.2 695.8 L561.7 696.4 L563.2 697.0 L564.8 697.6 L566.3 698.1 L567.8 698.7 L569.4 699.3 L570.9 699.9 L572.5 700.4 L574.0 701.0 L575.6 701.6 L577.1 702.1 L578.7 702.7 L580.3 703.2 L581.9 703.8 L583.4 704.3 L585.0 704.9 L586.6 705.4 L588.2 705.9 L589.8 706.5 L591.4 707.0 L593.0 707.5 L594.6 708.0 L596.2 708.5 L597.8 709.1 L599.4 709.6 L601.0 710.1 L602.7 710.6 L604.3 711.1 L605.9 711.6 L607.5 712.1 L609.2 712.5 L610.8 713.0 L612.4 713.5 L614.1 714.0 L615.7 714.5 L617.4 714.9 L619.0 715.4 L620.7 715.9 L622.3 716.3 L624.0 716.8 L625.7 717.3 L627.3 717.7 L629.0 718.2 L630.7 718.6 L632.3 719.1 L634.0 719.5 L635.7 720.0 L637.4 720.4 L639.1 720.8 L640.8 721.3 L642.4 721.7 L644.1 722.1 L645.8 722.6 L647.5 723.0 L649.2 723.4 L650.9 723.8 L652.6 724.2 L654.3 724.7 L656.0 725.1 L657.8 725.5 L659.5 725.9 L661.2 726.3 L662.9 726.7 L664.6 727.1 L666.3 727.5 L668.1 727.9 L669.8 728.3 L671.5 728.7 L673.3 729.1 L675.0 729.5 L676.7 729.8 L678.5 730.2 L680.2 730.6 L681.9 731.0 L683.7 731.4 L685.4 731.7 L687.2 732.1 L688.9 732.5 L690.7 732.8 L692.4 733.2 L694.2 733.6 L696.0 733.9 L697.7 734.3 L699.5 734.6 L701.3 735.0 L703.0 735.4 L704.8 735.7 L706.6 736.0 L708.4 736.4 L710.1 736.7 L711.9 737.1 L713.7 737.4 L715.5 737.8 L717.3 738.1 L719.1 738.4 L720.8 738.8 L722.6 739.1 L724.4 739.4 L726.2 739.7 L728.0 740.1 L729.8 740.4 L731.6 740.7 L733.4 741.0 L735.2 741.3 L737.0 741.6 L738.9 742.0 L740.7 742.3 L742.5 742.6 L744.3 742.9 L746.1 743.2 L747.9 743.5 L749.8 743.8 L751.6 744.1 L753.4 744.4 L755.2 744.7 L757.1 745.0 L758.9 745.2 L760.7 745.5 L762.6 745.8 L764.4 746.1 L766.2 746.4 L768.1 746.7 L769.9 746.9 L771.8 747.2 L773.6 747.5 L775.5 747.8 L777.3 748.0 L779.2 748.3 L781.0 748.6 L782.9 748.8 L784.4 749.1 L785.8 749.3 L787.3 749.5 L788.8 749.7 L790.3 749.9 L791.8 750.1 L793.3 750.3 L794.8 750.5 L796.3 750.7 L797.8 750.9 L799.3 751.1 L800.8 751.3 L802.3 751.5 L803.8 751.7 L805.3 751.9 L806.8 752.1 L808.3 752.3 L809.8 752.5 L811.3 752.7 L812.8 752.9 L814.3 753.1 L815.8 753.2 L817.3 753.4 L818.8 753.6 L820.3 753.8 L821.9 754.0 L823.4 754.2 L824.9 754.4 L826.4 754.5 L827.9 754.7 L829.4 754.9 L830.9 755.1 L832.5 755.3 L834.0 755.4 L835.5 755.6 L837.0 755.8 L838.6 756.0 L840.1 756.1 L841.6 756.3 L843.1 756.5 L844.7 756.6 L846.2 756.8 L847.7 757.0 L849.2 757.2 L850.8 757.3 L852.3 757.5 L853.8 757.6 L855.4 757.8 L856.9 758.0 L858.4 758.1 L860.0 758.3 L861.5 758.5 L863.0 758.6 L864.6 758.8 L866.1 758.9 L867.7 759.1 L869.2 759.2 L870.8 759.4 L872.3 759.6 L873.8 759.7 L875.4 759.9 L876.9 760.0 L878.5 760.2 L880.0 760.3 L881.6 760.5 L883.1 760.6 L884.7 760.7 L886.2 760.9 L887.8 761.0 L889.3 761.2 L890.9 761.3 L892.4 761.5 L894.0 761.6 L895.5 761.8 L897.1 761.9 L898.7 762.0 L900.2 762.2 L901.8 762.3 L903.3 762.4 L904.9 762.6 L906.5 762.7 L908.0 762.9 L909.6 763.0 L911.1 763.1 L912.7 763.3 L914.3 763.4 L915.8 763.5 L917.4 763.6 L919.0 763.8 L920.5 763.9 L922.1 764.0 L923.7 764.2 L925.3 764.3 L926.8 764.4 L928.4 764.5 L930.0 764.7 L931.5 764.8 L933.1 764.9 L934.7 765.0 L936.3 765.2 L937.8 765.3 L939.4 765.4 L941.0 765.5 L942.6 765.6 L944.2 765.8 L945.7 765.9 L947.3 766.0 L948.9 766.1 L950.5 766.2 L952.1 766.3 L953.6 766.5 L955.2 766.6 L956.8 766.7 L958.4 766.8 L960.0 766.9 L961.6 767.0 L963.1 767.1 L964.7 767.2 L966.3 767.3 L967.9 767.5 L969.5 767.6 L971.1 767.7 L972.7 767.8 L974.3 767.9 L975.9 768.0 L977.5 768.1 L979.0 768.2 L980.6 768.3 L982.2 768.4 L983.8 768.5 L985.4 768.6 L987.0 768.7 L988.6 768.8 L990.2 768.9 L991.8 769.0 L993.4 769.1 L995.0 769.2 L996.6 769.3 L998.2 769.4 L999.8 769.5 L1001.4 769.6 L1003.0 769.7 L1004.6 769.8 L1006.2 769.9 L1007.8 770.0 L1009.4 770.1 L1011.0 770.2 L1012.6 770.3 L1014.2 770.4 L1015.8 770.5 L1017.4 770.6 L1019.0 770.6 L1020.6 770.7 L1022.2 770.8 L1023.8 770.9 L1025.4 771.0 L1027.1 771.1 L1028.7 771.2 L1030.3 771.3 L1031.9 771.4 L1033.5 771.5 L1035.1 771.5 L1036.7 771.6 L1038.3 771.7 L1039.9 771.8 L1041.5 771.9 L1043.2 772.0 L1044.8 772.1 L1046.4 772.1 L1048.0 772.2 L1049.6 772.3 L1051.2 772.4 L1052.8 772.5 L1054.4 772.6 L1056.1 772.6 L1057.7 772.7 L1059.3 772.8 L1060.9 772.9 L1062.5 773.0 L1064.1 773.1 L1065.8 773.1 L1067.4 773.2 L1069.0 773.3 L1070.6 773.4 L1072.2 773.5 L1073.8 773.5 L1075.5 773.6 L1077.1 773.7 L1078.7 773.8 L1080.3 773.8 L1081.9 773.9 L1083.6 774.0 L1085.2 774.1 L1086.8 774.1 L1088.4 774.2 L1090.0 774.3 L1091.7 774.4 L1093.3 774.5 L1094.9 774.5 L1096.5 774.6 L1098.2 774.7 L1099.8 774.8 L1101.4 774.8 L1103.0 774.9 L1104.6 775.0 L1106.3 775.0 L1107.9 775.1 L1109.5 775.2 L1111.1 775.3 L1112.8 775.3 L1114.4 775.4 L1116.0 775.5 L1117.6 775.6 L1119.3 775.6 L1120.9 775.7 L1122.5 775.8 L1124.1 775.8 L1125.8 775.9 L1127.4 776.0 L1129.0 776.1 L1130.6 776.1 L1132.3 776.2 L1133.9 776.3 L1135.5 776.3 L1137.2 776.4 L1138.8 776.5 L1140.4 776.5 L1142.0 776.6 L1143.7 776.7 L1145.3 776.8 L1146.9 776.8 L1148.5 776.9 L1150.2 777.0 L1151.8 777.0 L1153.4 777.1 L1155.1 777.2 L1156.7 777.2 L1158.3 777.3 L1159.9 777.4 L1161.6 777.4 L1163.2 777.5 L1164.8 777.6 L1166.5 777.6 L1168.1 777.7 L1169.7 777.8 L1171.3 777.9 L1173.0 777.9 L1174.6 778.0 L1176.2 778.1 L1177.9 778.1 L1179.5 778.2 L1181.1 778.3 L1182.7 778.3 L1184.4 778.4 L1186.0 778.5 L1187.7 778.5 L1189.3 778.6 L1191.0 778.7 L1192.6 778.7 L1194.1 778.8 L1196.0 778.9 L1197.7 779.0 L1199.5 779.0" stroke="#8000FF"/>
<path d="M178.5 175.0 L180.0 175.0 L181.5 175.0 L183.0 175.0 L184.5 175.0 L186.0 175.0 L187.6 175.0 L189.1 175.0 L190.6 175.0 L192.0 175.0 L193.5 175.0 L195.0 175.0 L196.6 175.0 L198.1 175.0 L199.7 175.0 L201.3 175.0 L202.8 175.1 L204.4 175.1 L205.9 175.1 L207.3 175.1 L208.7 175.2 L210.0 175.2 L211.8 175.2 L213.5 175.3 L215.1 175.3 L216.6 175.4 L218.0 175.6 L219.8 175.9 L221.4 176.3 L223.0 176.8 L224.7 177.4 L226.4 178.2 L228.0 179.0 L229.4 179.9 L230.7 180.9 L232.0 182.0 L233.3 183.1 L234.6 184.3 L236.0 185.5 L237.2 186.5 L238.4 187.5 L239.7 188.5 L241.0 189.5 L242.5 190.5 L244.0 191.5 L245.5 192.5 L247.0 193.5 L248.3 194.5 L249.7 195.4 L250.9 196.4 L252.0 197.5 L253.1 198.9 L254.1 200.4 L255.0 202.0 L255.8 203.4 L256.5 204.9 L257.3 206.4 L258.0 208.0 L258.6 209.4 L259.2 210.7 L259.8 212.1 L260.4 213.6 L261.0 215.0 L261.6 216.6 L262.2 218.2 L262.8 219.8 L263.4 221.5 L264.0 223.0 L264.6 224.6 L265.2 226.1 L265.8 227.6 L266.4 229.1 L267.0 230.7 L267.6 232.2 L268.2 233.7 L268.8 235.2 L269.4 236.7 L269.9 238.3 L270.5 239.8 L271.1 241.3 L271.7 242.8 L272.3 244.4 L272.9 245.9 L273.5 247.4 L274.1 249.0 L274.7 250.5 L275.3 252.0 L275.9 253.5 L276.5 255.1 L277.1 256.6 L277.7 258.1 L278.2 259.7 L278.8 261.2 L279.4 262.7 L280.0 264.3 L280.6 265.8 L281.2 267.3 L281.8 268.9 L282.3 270.4 L282.9 272.0 L283.5 273.5 L284.1 275.0 L284.7 276.6 L285.2 278.1 L285.8 279.7 L286.4 281.2 L287.0 282.8 L287.5 284.3 L288.1 285.9 L288.7 287.4 L289.2 289.0 L289.8 290.5 L290.4 292.1 L290.9 293.7 L291.5 295.2 L292.0 296.8 L292.6 298.3 L293.2 299.9 L293.7 301.5 L294.3 303.0 L294.8 304.6 L295.4 306.2 L295.9 307.7 L296.5 309.3 L297.0 310.9 L297.6 312.5 L298.1 314.1 L298.6 315.6 L299.2 317.2 L299.7 318.8 L300.3 320.4 L300.8 322.0 L301.3 323.6 L301.9 325.2 L302.4 326.7 L302.9 328.3 L303.4 329.9 L304.0 331.5 L304.5 333.1 L305.0 334.7 L305.5 336.4 L306.0 338.0 L306.5 339.6 L307.0 341.2 L307.6 342.8 L308.1 344.4 L308.6 346.0 L309.1 347.6 L309.6 349.2 L310.1 350.9 L310.6 352.5 L311.1 354.1 L311.6 355.7 L312.1 357.3 L312.6 359.0 L313.1 360.6 L313.6 362.2 L314.1 363.8 L314.6 365.5 L315.1 367.1 L315.6 368.7 L316.1 370.3 L316.6 372.0 L317.1 373.6 L317.5 375.2 L318.0 376.8 L318.5 378.5 L319.0 380.1 L319.5 381.7 L320.0 383.4 L320.5 385.0 L321.0 386.6 L321.5 388.3 L322.0 389.9 L322.5 391.5 L323.0 393.1 L323.5 394.8 L324.0 396.4 L324.4 398.0 L324.9 399.6 L325.4 401.3 L325.9 402.9 L326.4 404.5 L326.9 406.2 L327.4 407.8 L327.9 409.4 L328.4 411.0 L328.9 412.6 L329.4 414.3 L329.9 415.9 L330.4 417.5 L330.9 419.1 L331.4 420.7 L331.9 422.3 L332.4 424.0 L333.0 425.6 L333.5 427.2 L334.0 428.8 L334.5 430.4 L335.0 432.0 L335.5 433.6 L336.0 435.2 L336.6 436.8 L337.1 438.4 L337.6 440.0 L338.1 441.6 L338.7 443.2 L339.2 444.8 L339.7 446.4 L340.2 448.0 L340.8 449.6 L341.3 451.2 L341.9 452.7 L342.4 454.3 L342.9 455.9 L343.5 457.5 L344.0 459.0 L344.6 460.6 L345.1 462.2 L345.7 463.7 L346.3 465.3 L346.8 466.9 L347.4 468.4 L348.0 470.0 L348.5 471.5 L349.1 473.1 L349.7 474.6 L350.3 476.2 L350.8 477.7 L351.4 479.2 L352.0 480.8 L352.6 482.3 L353.2 483.8 L353.8 485.3 L354.4 486.9 L355.0 488.4 L355.6 489.9 L356.2 491.4 L356.8 492.9 L357.5 494.4 L358.1 495.9 L358.7 497.4 L359.3 498.9 L360.0 500.4 L360.6 501.8 L361.3 503.3 L361.9 504.8 L362.6 506.3 L363.2 507.7 L363.9 509.2 L364.5 510.7 L365.2 512.1 L365.9 513.6 L366.6 515.0 L367.3 516.4 L367.9 517.9 L368.6 519.3 L369.3 520.7 L370.0 522.1 L370.7 523.6 L371.4 525.0 L372.2 526.4 L372.9 527.8 L373.6 529.2 L374.3 530.6 L375.1 531.9 L375.8 533.3 L376.6 534.7 L377.3 536.1 L378.1 537.4 L378.8 538.8 L379.6 540.2 L380.3 541.5 L381.1 542.9 L381.9 544.2 L382.7 545.5 L383.5 546.9 L384.3 548.2 L385.1 549.5 L385.9 550.9 L386.7 552.2 L387.5 553.5 L388.3 554.8 L389.1 556.1 L390.0 557.4 L390.8 558.7 L391.6 560.0 L392.5 561.2 L393.3 562.5 L394.2 563.8 L395.0 565.0 L395.9 566.3 L396.7 567.6 L397.6 568.8 L398.5 570.1 L399.4 571.3 L400.2 572.5 L401.1 573.8 L402.0 575.0 L402.9 576.2 L403.8 577.4 L404.7 578.7 L405.6 579.9 L406.6 581.1 L407.5 582.3 L408.4 583.5 L409.3 584.7 L410.3 585.8 L411.2 587.0 L412.2 588.2 L413.1 589.4 L414.1 590.5 L415.0 591.7 L416.0 592.9 L417.0 594.0 L417.9 595.2 L418.9 596.3 L419.9 597.4 L420.9 598.6 L421.9 599.7 L422.9 600.8 L423.9 602.0 L424.9 603.1 L425.9 604.2 L426.9 605.3 L427.9 606.4 L428.9 607.5 L430.0 608.6 L431.0 609.7 L432.0 610.8 L433.1 611.8 L434.1 612.9 L435.2 614.0 L436.2 615.0 L437.3 616.1 L438.4 617.2 L439.4 618.2 L440.5 619.3 L441.6 620.3 L442.7 621.3 L443.7 622.4 L444.8 623.4 L445.9 624.4 L447.0 625.4 L448.1 626.5 L449.3 627.5 L450.4 628.5 L451.5 629.5 L452.6 630.5 L453.7 631.5 L454.9 632.5 L456.0 633.4 L457.2 634.4 L458.3 635.4 L459.5 636.4 L460.6 637.3 L461.8 638.3 L462.9 639.2 L464.1 640.2 L465.3 641.1 L466.5 642.1 L467.6 643.0 L468.8 644.0 L470.0 644.9 L471.2 645.8 L472.4 646.7 L473.6 647.6 L474.8 648.6 L476.1 649.5 L477.3 650.4 L478.5 651.3 L479.7 652.2 L481.0 653.0 L482.2 653.9 L483.4 654.8 L484.7 655.7 L485.9 656.6 L487.2 657.4 L488.4 658.3 L489.7 659.1 L491.0 660.0 L492.2 660.8 L493.5 661.7 L494.8 662.5 L496.1 663.4 L497.4 664.2 L498.7 665.0 L500.0 665.9 L501.3 666.7 L502.6 667.5 L503.9 668.3 L505.2 669.1 L506.5 669.9 L507.9 670.7 L509.2 671.5 L510.5 672.3 L511.9 673.1 L513.2 673.8 L514.5 674.6 L515.9 675.4 L517.2 676.2 L518.6 676.9 L520.0 677.7 L521.3 678.4 L522.7 679.2 L524.1 679.9 L525.5 680.7 L526.8 681.4 L528.2 682.1 L529.6 682.9 L531.0 683.6 L532.4 684.3 L533.8 685.0 L535.2 685.7 L536.7 686.4 L538.1 687.1 L539.5 687.8 L540.9 688.5 L542.4 689.2 L543.8 689.9 L545.2 690.6 L546.7 691.3 L548.1 691.9 L549.6 692.6 L551.0 693.3 L552.5 693.9 L554.0 694.6 L555.4 695.2 L556.9 695.9 L558.4 696.5 L559.9 697.2 L561.4 697.8 L562.9 698.4 L564.4 699.1 L565.9 699.7 L567.4 700.3 L568.9 700.9 L570.4 701.5 L571.9 702.1 L573.4 702.7 L574.9 703.3 L576.5 703.9 L578.0 704.5 L579.5 705.1 L581.1 705.7 L582.6 706.2 L584.2 706.8 L585.7 707.4 L587.3 707.9 L588.8 708.5 L590.4 709.1 L592.0 709.6 L593.6 710.2 L595.1 710.7 L596.7 711.2 L598.3 711.8 L599.9 712.3 L601.5 712.8 L603.1 713.3 L604.7 713.9 L606.3 714.4 L607.9 714.9 L609.5 715.4 L611.1 715.9 L612.8 716.4 L614.4 716.9 L616.0 717.4 L617.7 717.9 L619.3 718.4 L620.9 718.8 L622.6 719.3 L624.2 719.8 L625.9 720.2 L627.6 720.7 L629.2 721.2 L630.9 721.6 L632.5 722.1 L634.2 722.5 L635.9 723.0 L637.6 723.4 L639.3 723.9 L640.9 724.3 L642.6 724.7 L644.3 725.2 L646.0 725.6 L647.7 726.0 L649.4 726.4 L651.1 726.8 L652.8 727.2 L654.5 727.7 L656.3 728.1 L658.0 728.5 L659.7 728.9 L661.4 729.3 L663.2 729.6 L664.9 730.0 L666.6 730.4 L668.4 730.8 L670.1 731.2 L671.9 731.6 L673.6 731.9 L675.4 732.3 L677.1 732.7 L678.9 733.0 L680.6 733.4 L682.4 733.8 L684.1 734.1 L685.9 734.5 L687.7 734.8 L689.5 735.2 L691.2 735.5 L693.0 735.9 L694.8 736.2 L696.6 736.5 L698.4 736.9 L700.2 737.2 L701.9 737.5 L703.7 737.9 L705.5 738.2 L707.3 738.5 L709.1 738.8 L710.9 739.1 L712.7 739.5 L714.6 739.8 L716.4 740.1 L718.2 740.4 L720.0 740.7 L721.8 741.0 L723.6 741.3 L725.5 741.6 L727.3 741.9 L729.1 742.2 L730.9 742.5 L732.8 742.8 L734.6 743.0 L736.4 743.3 L738.3 743.6 L740.1 743.9 L742.0 744.2 L743.8 744.5 L745.7 744.7 L747.5 745.0 L749.4 745.3 L751.2 745.5 L752.7 745.8 L754.2 746.0 L755.7 746.2 L757.1 746.4 L758.6 746.6 L760.1 746.8 L761.6 747.0 L763.1 747.2 L764.6 747.4 L766.1 747.6 L767.6 747.8 L769.1 748.0 L770.6 748.2 L772.1 748.4 L773.6 748.6 L775.1 748.8 L776.6 749.0 L778.1 749.2 L779.6 749.4 L781.1 749.6 L782.6 749.8 L784.1 750.0 L785.6 750.2 L787.1 750.4 L788.6 750.6 L790.1 750.8 L791.6 750.9 L793.1 751.1 L794.6 751.3 L796.2 751.5 L797.7 751.7 L799.2 751.9 L800.7 752.1 L802.2 752.2 L803.7 752.4 L805.2 752.6 L806.8 752.8 L808.3 753.0 L809.8 753.1 L811.3 753.3 L812.8 753.5 L814.4 753.7 L815.9 753.8 L817.4 754.0 L818.9 754.2 L820.4 754.4 L822.0 754.5 L823.5 754.7 L825.0 754.9 L826.5 755.1 L828.1 755.2 L829.6 755.4 L831.1 755.6 L832.6 755.7 L834.2 755.9 L835.7 756.1 L837.2 756.2 L838.8 756.4 L840.3 756.6 L841.8 756.7 L843.4 756.9 L844.9 757.1 L846.4 757.2 L848.0 757.4 L849.5 757.6 L851.0 757.7 L852.6 757.9 L854.1 758.1 L855.6 758.2 L857.2 758.4 L858.7 758.5 L860.2 758.7 L861.8 758.8 L863.3 759.0 L864.9 759.2 L866.4 759.3 L867.9 759.5 L869.5 759.6 L871.0 759.8 L872.6 759.9 L874.1 760.1 L875.7 760.2 L877.2 760.4 L878.7 760.6 L880.3 760.7 L881.8 760.9 L883.4 761.0 L884.9 761.2 L886.5 761.3 L888.0 761.5 L889.6 761.6 L891.1 761.7 L892.7 761.9 L894.2 762.0 L895.8 762.2 L897.3 762.3 L898.9 762.5 L900.4 762.6 L902.0 762.8 L903.6 762.9 L905.1 763.0 L906.7 763.2 L908.2 763.3 L909.8 763.5 L911.3 763.6 L912.9 763.7 L914.5 763.9 L916.0 764.0 L917.6 764.2 L919.1 764.3 L920.7 764.4 L922.3 764.6 L923.8 764.7 L925.4 764.8 L926.9 765.0 L928.5 765.1 L930.1 765.2 L931.6 765.4 L933.2 765.5 L934.8 765.6 L936.3 765.7 L937.9 765.9 L939.5 766.0 L941.1 766.1 L942.6 766.3 L944.2 766.4 L945.8 766.5 L947.3 766.6 L948.9 766.8 L950.5 766.9 L952.1 767.0 L953.6 767.1 L955.2 767.3 L956.8 767.4 L958.4 767.5 L959.9 767.6 L961.5 767.7 L963.1 767.9 L964.7 768.0 L966.2 768.1 L967.8 768.2 L969.4 768.3 L971.0 768.4 L972.6 768.6 L974.2 768.7 L975.7 768.8 L977.3 768.9 L978.9 769.0 L980.5 769.1 L982.1 769.2 L983.7 769.3 L985.3 769.5 L986.8 769.6 L988.4 769.7 L990.0 769.8 L991.6 769.9 L993.2 770.0 L994.8 770.1 L996.4 770.2 L998.0 770.3 L999.6 770.4 L1001.2 770.5 L1002.7 770.6 L1004.3 770.7 L1005.9 770.8 L1007.5 770.9 L1009.1 771.0 L1010.7 771.1 L1012.3 771.2 L1013.9 771.3 L1015.5 771.4 L1017.1 771.5 L1018.7 771.6 L1020.3 771.7 L1021.9 771.8 L1023.5 771.9 L1025.1 772.0 L1026.7 772.1 L1028.3 772.2 L1029.9 772.3 L1031.5 772.4 L1033.2 772.5 L1034.8 772.5 L1036.4 772.6 L1038.0 772.7 L1039.6 772.8 L1041.2 772.9 L1042.8 773.0 L1044.4 773.1 L1046.0 773.2 L1047.6 773.2 L1049.3 773.3 L1050.9 773.4 L1052.5 773.5 L1054.1 773.6 L1055.7 773.7 L1057.3 773.7 L1058.9 773.8 L1060.6 773.9 L1062.2 774.0 L1063.8 774.1 L1065.4 774.1 L1067.0 774.2 L1068.7 774.3 L1070.3 774.4 L1071.9 774.4 L1073.5 774.5 L1075.1 774.6 L1076.8 774.7 L1078.4 774.7 L1080.0 774.8 L1081.6 774.9 L1083.3 775.0 L1084.9 775.0 L1086.5 775.1 L1088.2 775.2 L1089.8 775.2 L1091.4 775.3 L1093.0 775.4 L1094.7 775.4 L1096.3 775.5 L1097.9 775.6 L1099.6 775.6 L1101.2 775.7 L1102.8 775.8 L1104.5 775.8 L1106.1 775.9 L1107.7 775.9 L1109.4 776.0 L1111.0 776.1 L1112.7 776.1 L1114.3 776.2 L1115.9 776.2 L1117.6 776.3 L1119.2 776.3 L1120.9 776.4 L1122.5 776.5 L1124.1 776.5 L1125.8 776.6 L1127.4 776.6 L1129.1 776.7 L1130.7 776.7 L1132.4 776.8 L1134.0 776.8 L1135.7 776.9 L1137.3 776.9 L1139.0 777.0 L1140.6 777.0 L1142.3 777.1 L1143.9 777.1 L1145.6 777.1 L1147.2 777.2 L1148.9 777.2 L1150.5 777.3 L1152.2 777.3 L1153.8 777.4 L1155.5 777.4 L1157.1 777.4 L1158.8 777.5 L1160.5 777.5 L1162.1 777.6 L1163.8 777.6 L1165.4 777.6 L1167.1 777.7 L1168.8 777.7 L1170.4 777.7 L1172.1 777.8 L1173.8 777.8 L1175.4 777.8 L1177.1 777.9 L1178.7 777.9 L1180.4 777.9 L1182.1 778.0 L1183.8 778.0 L1185.4 778.0 L1187.1 778.0 L1188.8 778.1 L1190.5 778.1 L1192.2 778.1 L1193.8 778.2 L1195.4 778.2 L1197.1 778.2 L1198.7 778.2 L1200.3 778.2" stroke="#FF8000"/>
<path d="M178.5 187.0 L180.0 187.0 L181.6 187.1 L183.1 187.1 L184.7 187.1 L186.3 187.2 L187.8 187.2 L189.4 187.2 L191.0 187.3 L192.6 187.3 L194.3 187.3 L195.9 187.3 L197.5 187.4 L199.1 187.4 L200.8 187.4 L202.4 187.5 L204.0 187.5 L205.6 187.5 L207.3 187.6 L208.9 187.6 L210.5 187.6 L212.1 187.7 L213.7 187.7 L215.4 187.7 L217.0 187.8 L218.6 187.8 L220.1 187.8 L221.7 187.9 L223.3 187.9 L224.8 187.9 L226.4 188.0 L227.9 188.0 L229.4 188.0 L230.9 188.0 L232.4 188.1 L233.9 188.1 L235.4 188.1 L236.8 188.2 L238.2 188.2 L239.6 188.2 L241.0 188.3 L242.4 188.3 L243.7 188.3 L245.0 188.4 L246.3 188.4 L247.6 188.4 L248.8 188.5 L250.0 188.5 L251.8 188.5 L253.6 188.6 L255.3 188.6 L257.0 188.7 L258.7 188.7 L260.4 188.7 L262.0 188.7 L263.6 188.8 L265.1 188.8 L266.7 188.8 L268.1 188.9 L269.6 188.9 L271.0 189.0 L272.4 189.0 L273.8 189.1 L275.1 189.1 L276.4 189.2 L277.6 189.3 L278.8 189.4 L280.0 189.5 L281.8 189.7 L283.5 189.9 L285.0 190.1 L286.5 190.3 L287.9 190.5 L289.3 190.8 L290.7 191.1 L292.0 191.5 L293.7 192.1 L295.4 192.7 L297.0 193.4 L298.5 194.1 L300.0 195.0 L301.3 195.8 L302.5 196.8 L303.7 197.7 L304.8 198.8 L305.9 199.9 L307.0 201.0 L308.1 202.2 L309.1 203.5 L310.1 204.8 L311.1 206.2 L312.1 207.6 L313.0 209.0 L313.9 210.4 L314.8 211.9 L315.6 213.4 L316.4 214.9 L317.2 216.5 L318.0 218.0 L318.7 219.4 L319.4 220.8 L320.2 222.2 L320.9 223.6 L321.6 225.1 L322.3 226.5 L323.0 228.0 L323.6 229.4 L324.3 230.8 L325.0 232.2 L325.6 233.7 L326.3 235.1 L326.9 236.5 L327.5 237.8 L328.0 239.0 L328.7 240.6 L329.3 242.1 L329.8 243.6 L330.4 245.1 L331.0 246.6 L331.6 248.2 L332.1 249.7 L332.7 251.3 L333.3 252.8 L333.8 254.4 L334.4 256.0 L334.9 257.6 L335.4 259.1 L336.0 260.7 L336.5 262.3 L337.0 263.9 L337.5 265.6 L338.0 267.2 L338.5 268.8 L339.0 270.4 L339.5 272.1 L339.9 273.7 L340.4 275.4 L340.9 277.0 L341.3 278.7 L341.8 280.4 L342.2 282.0 L342.7 283.7 L343.1 285.4 L343.6 287.1 L344.0 288.8 L344.4 290.5 L344.8 292.2 L345.2 293.9 L345.6 295.6 L346.0 297.3 L346.4 299.0 L346.8 300.8 L347.2 302.5 L347.6 304.2 L348.0 306.0 L348.4 307.7 L348.7 309.5 L349.1 311.2 L349.5 313.0 L349.8 314.7 L350.2 316.5 L350.6 318.3 L350.9 320.0 L351.3 321.8 L351.6 323.6 L351.9 325.4 L352.3 327.1 L352.6 328.9 L352.9 330.7 L353.3 332.5 L353.6 334.3 L353.9 336.1 L354.2 337.9 L354.6 339.7 L354.9 341.5 L355.2 343.3 L355.5 345.1 L355.8 346.9 L356.1 348.8 L356.4 350.6 L356.7 352.4 L357.0 354.2 L357.3 356.0 L357.6 357.9 L357.9 359.7 L358.2 361.5 L358.5 363.3 L358.8 365.2 L359.1 367.0 L359.4 368.8 L359.7 370.7 L360.0 372.5 L360.2 374.3 L360.5 376.2 L360.8 378.0 L361.1 379.9 L361.4 381.7 L361.7 383.5 L361.9 385.4 L362.2 387.2 L362.5 389.1 L362.8 390.9 L363.1 392.7 L363.3 394.6 L363.6 396.4 L363.9 398.2 L364.2 400.1 L364.5 401.9 L364.8 403.8 L365.0 405.6 L365.3 407.4 L365.6 409.3 L365.9 411.1 L366.2 412.9 L366.5 414.8 L366.8 416.6 L367.1 418.4 L367.4 420.3 L367.7 422.1 L368.0 423.9 L368.3 425.7 L368.6 427.5 L368.9 429.4 L369.2 431.2 L369.5 433.0 L369.8 434.8 L370.1 436.6 L370.4 438.4 L370.8 440.2 L371.1 442.0 L371.4 443.8 L371.8 445.6 L372.1 447.3 L372.4 449.1 L372.8 450.9 L373.1 452.7 L373.5 454.4 L373.9 456.2 L374.2 457.9 L374.6 459.7 L375.0 461.4 L375.4 463.2 L375.7 464.9 L376.1 466.6 L376.5 468.3 L376.9 470.1 L377.4 471.8 L377.8 473.5 L378.2 475.2 L378.6 476.9 L379.1 478.6 L379.5 480.2 L380.0 481.9 L380.4 483.6 L380.9 485.2 L381.4 486.9 L381.8 488.5 L382.3 490.1 L382.8 491.8 L383.3 493.4 L383.8 495.0 L384.3 496.6 L384.9 498.2 L385.4 499.8 L386.0 501.4 L386.5 502.9 L387.1 504.5 L387.6 506.0 L388.2 507.6 L388.8 509.1 L389.4 510.6 L390.0 512.2 L390.6 513.7 L391.2 515.2 L391.9 516.7 L392.5 518.2 L393.1 519.6 L393.8 521.1 L394.4 522.6 L395.1 524.0 L395.8 525.5 L396.5 526.9 L397.1 528.4 L397.8 529.8 L398.5 531.2 L399.3 532.6 L400.0 534.0 L400.7 535.4 L401.4 536.8 L402.2 538.2 L402.9 539.6 L403.6 540.9 L404.4 542.3 L405.2 543.7 L405.9 545.0 L406.7 546.4 L407.5 547.7 L408.3 549.1 L409.1 550.4 L409.9 551.7 L410.7 553.0 L411.5 554.3 L412.3 555.6 L413.1 556.9 L413.9 558.2 L414.8 559.5 L415.6 560.8 L416.5 562.1 L417.3 563.3 L418.2 564.6 L419.0 565.9 L419.9 567.1 L420.8 568.4 L421.6 569.6 L422.5 570.9 L423.4 572.1 L424.3 573.3 L425.2 574.6 L426.1 575.8 L427.0 577.0 L427.9 578.2 L428.8 579.4 L429.7 580.6 L430.6 581.8 L431.6 583.0 L432.5 584.2 L433.4 585.4 L434.4 586.6 L435.3 587.8 L436.2 589.0 L437.2 590.1 L438.1 591.3 L439.1 592.5 L440.1 593.6 L441.0 594.8 L442.0 595.9 L443.0 597.1 L443.9 598.2 L444.9 599.4 L445.9 600.5 L446.9 601.7 L447.8 602.8 L448.8 604.0 L449.8 605.1 L450.8 606.2 L451.8 607.3 L452.8 608.5 L453.8 609.6 L454.8 610.7 L455.8 611.8 L456.8 612.9 L457.9 614.0 L458.9 615.1 L459.9 616.2 L461.0 617.3 L462.0 618.4 L463.0 619.4 L464.1 620.5 L465.2 621.6 L466.2 622.6 L467.3 623.7 L468.4 624.7 L469.5 625.8 L470.5 626.8 L471.6 627.8 L472.7 628.8 L473.8 629.8 L475.0 630.8 L476.1 631.8 L477.2 632.8 L478.4 633.8 L479.5 634.8 L480.7 635.8 L481.8 636.7 L483.0 637.7 L484.2 638.6 L485.4 639.5 L486.6 640.5 L487.8 641.4 L489.0 642.3 L490.2 643.2 L491.5 644.1 L492.7 644.9 L494.0 645.8 L495.2 646.7 L496.5 647.5 L497.8 648.4 L499.0 649.2 L500.3 650.0 L501.6 650.9 L502.9 651.7 L504.2 652.5 L505.5 653.3 L506.8 654.1 L508.2 654.9 L509.5 655.7 L510.8 656.5 L512.1 657.3 L513.5 658.1 L514.8 658.9 L516.2 659.7 L517.5 660.4 L518.8 661.2 L520.2 662.0 L521.5 662.8 L522.9 663.5 L524.2 664.3 L525.6 665.1 L527.0 665.8 L528.3 666.6 L529.7 667.4 L531.0 668.1 L532.4 668.9 L533.8 669.6 L535.1 670.4 L536.5 671.2 L537.9 671.9 L539.2 672.7 L540.6 673.4 L542.0 674.2 L543.3 674.9 L544.7 675.7 L546.1 676.4 L547.4 677.2 L548.8 677.9 L550.2 678.7 L551.6 679.4 L552.9 680.2 L554.3 680.9 L555.7 681.7 L557.1 682.4 L558.4 683.2 L559.8 683.9 L561.2 684.6 L562.5 685.4 L563.9 686.1 L565.3 686.9 L566.7 687.6 L568.0 688.4 L569.4 689.1 L570.8 689.9 L572.1 690.6 L573.5 691.4 L574.9 692.1 L576.3 692.9 L577.6 693.7 L579.0 694.4 L580.3 695.2 L581.7 695.9 L583.1 696.7 L584.4 697.5 L585.8 698.2 L587.1 699.0 L588.5 699.7 L589.9 700.5 L591.2 701.3 L592.6 702.1 L593.9 702.8 L595.3 703.6 L596.6 704.4 L598.0 705.1 L599.3 705.9 L600.7 706.7 L602.0 707.4 L603.4 708.2 L604.8 708.9 L606.1 709.7 L607.5 710.4 L608.9 711.2 L610.3 711.9 L611.7 712.6 L613.1 713.4 L614.5 714.1 L615.9 714.8 L617.3 715.5 L618.7 716.2 L620.2 716.9 L621.6 717.6 L623.1 718.2 L624.5 718.9 L626.0 719.5 L627.5 720.2 L629.0 720.8 L630.5 721.4 L632.0 722.0 L633.5 722.6 L635.1 723.2 L636.6 723.8 L638.2 724.3 L639.7 724.9 L641.3 725.4 L642.9 726.0 L644.5 726.5 L646.0 727.1 L647.6 727.6 L649.3 728.1 L650.9 728.6 L652.5 729.1 L654.1 729.6 L655.7 730.1 L657.4 730.6 L659.0 731.1 L660.6 731.6 L662.3 732.1 L663.9 732.5 L665.6 733.0 L667.2 733.5 L668.9 733.9 L670.5 734.4 L672.2 734.9 L673.9 735.3 L675.5 735.8 L677.2 736.2 L678.9 736.7 L680.6 737.1 L682.2 737.5 L683.9 738.0 L685.6 738.4 L687.3 738.8 L689.0 739.3 L690.7 739.7 L692.4 740.1 L694.1 740.5 L695.8 740.9 L697.5 741.3 L699.2 741.7 L701.0 742.1 L702.7 742.5 L704.4 742.9 L706.1 743.3 L707.9 743.7 L709.6 744.1 L711.3 744.5 L713.1 744.9 L714.8 745.3 L716.6 745.6 L718.3 746.0 L720.1 746.4 L721.8 746.7 L723.6 747.1 L725.3 747.5 L727.1 747.8 L728.9 748.2 L730.6 748.5 L732.4 748.9 L734.2 749.2 L736.0 749.6 L737.7 749.9 L739.5 750.3 L741.3 750.6 L743.1 750.9 L744.9 751.3 L746.7 751.6 L748.5 751.9 L750.3 752.2 L752.1 752.5 L753.9 752.9 L755.7 753.2 L757.5 753.5 L759.3 753.8 L761.1 754.1 L762.9 754.4 L764.8 754.7 L766.6 755.0 L768.4 755.3 L770.2 755.6 L772.1 755.9 L773.9 756.2 L775.7 756.5 L777.6 756.7 L779.4 757.0 L781.3 757.3 L783.1 757.6 L785.0 757.8 L786.8 758.1 L788.7 758.4 L790.5 758.6 L792.4 758.9 L793.9 759.1 L795.4 759.3 L796.9 759.5 L798.3 759.7 L799.8 759.9 L801.3 760.1 L802.8 760.3 L804.3 760.5 L805.8 760.7 L807.3 760.9 L808.8 761.1 L810.3 761.3 L811.9 761.5 L813.4 761.7 L814.9 761.9 L816.4 762.1 L817.9 762.3 L819.4 762.4 L820.9 762.6 L822.4 762.8 L823.9 763.0 L825.5 763.2 L827.0 763.3 L828.5 763.5 L830.0 763.7 L831.6 763.9 L833.1 764.0 L834.6 764.2 L836.1 764.4 L837.7 764.5 L839.2 764.7 L840.7 764.9 L842.3 765.0 L843.8 765.2 L845.3 765.4 L846.9 765.5 L848.4 765.7 L849.9 765.8 L851.5 766.0 L853.0 766.2 L854.6 766.3 L856.1 766.5 L857.7 766.6 L859.2 766.8 L860.7 766.9 L862.3 767.1 L863.8 767.2 L865.4 767.4 L867.0 767.5 L868.5 767.6 L870.1 767.8 L871.6 767.9 L873.2 768.1 L874.7 768.2 L876.3 768.3 L877.8 768.5 L879.4 768.6 L881.0 768.8 L882.5 768.9 L884.1 769.0 L885.7 769.1 L887.2 769.3 L888.8 769.4 L890.4 769.5 L891.9 769.7 L893.5 769.8 L895.1 769.9 L896.7 770.0 L898.2 770.2 L899.8 770.3 L901.4 770.4 L903.0 770.5 L904.5 770.6 L906.1 770.8 L907.7 770.9 L909.3 771.0 L910.8 771.1 L912.4 771.2 L914.0 771.3 L915.6 771.5 L917.2 771.6 L918.8 771.7 L920.4 771.8 L921.9 771.9 L923.5 772.0 L925.1 772.1 L926.7 772.2 L928.3 772.3 L929.9 772.4 L931.5 772.5 L933.1 772.6 L934.7 772.7 L936.3 772.8 L937.9 772.9 L939.5 773.0 L941.1 773.1 L942.7 773.2 L944.3 773.3 L945.9 773.4 L947.5 773.5 L949.1 773.6 L950.7 773.7 L952.3 773.8 L953.9 773.9 L955.5 774.0 L957.1 774.1 L958.7 774.2 L960.3 774.3 L961.9 774.4 L963.5 774.5 L965.1 774.5 L966.7 774.6 L968.3 774.7 L970.0 774.8 L971.6 774.9 L973.2 775.0 L974.8 775.1 L976.4 775.1 L978.0 775.2 L979.6 775.3 L981.2 775.4 L982.9 775.5 L984.5 775.6 L986.1 775.6 L987.7 775.7 L989.3 775.8 L990.9 775.9 L992.6 775.9 L994.2 776.0 L995.8 776.1 L997.4 776.2 L999.1 776.3 L1000.7 776.3 L1002.3 776.4 L1003.9 776.5 L1005.5 776.6 L1007.2 776.6 L1008.8 776.7 L1010.4 776.8 L1012.0 776.8 L1013.7 776.9 L1015.3 777.0 L1016.9 777.1 L1018.5 777.1 L1020.2 777.2 L1021.8 777.3 L1023.4 777.3 L1025.1 777.4 L1026.7 777.5 L1028.3 777.5 L1029.9 777.6 L1031.6 777.7 L1033.2 777.7 L1034.8 777.8 L1036.5 777.9 L1038.1 777.9 L1039.7 778.0 L1041.4 778.1 L1043.0 778.1 L1044.6 778.2 L1046.3 778.3 L1047.9 778.3 L1049.5 778.4 L1051.2 778.4 L1052.8 778.5 L1054.4 778.6 L1056.1 778.6 L1057.7 778.7 L1059.3 778.8 L1061.0 778.8 L1062.6 778.9 L1064.2 778.9 L1065.9 779.0 L1067.5 779.1 L1069.2 779.1 L1070.8 779.2 L1072.4 779.2 L1074.1 779.3 L1075.7 779.4 L1077.3 779.4 L1079.0 779.5 L1080.6 779.5 L1082.3 779.6 L1083.9 779.7 L1085.5 779.7 L1087.2 779.8 L1088.8 779.8 L1090.5 779.9 L1092.1 779.9 L1093.7 780.0 L1095.4 780.1 L1097.0 780.1 L1098.6 780.2 L1100.3 780.2 L1101.9 780.3 L1103.6 780.4 L1105.2 780.4 L1106.8 780.5 L1108.5 780.5 L1110.1 780.6 L1111.8 780.6 L1113.4 780.7 L1115.0 780.8 L1116.7 780.8 L1118.3 780.9 L1120.0 780.9 L1121.6 781.0 L1123.2 781.0 L1124.9 781.1 L1126.5 781.2 L1128.1 781.2 L1129.8 781.3 L1131.4 781.3 L1133.1 781.4 L1134.7 781.5 L1136.3 781.5 L1138.0 781.6 L1139.6 781.6 L1141.3 781.7 L1142.9 781.8 L1144.5 781.8 L1146.2 781.9 L1147.8 781.9 L1149.4 782.0 L1151.1 782.0 L1152.7 782.1 L1154.4 782.2 L1156.0 782.2 L1157.6 782.3 L1159.3 782.4 L1160.9 782.4 L1162.5 782.5 L1164.2 782.5 L1165.8 782.6 L1167.4 782.7 L1169.1 782.7 L1170.7 782.8 L1172.3 782.9 L1174.0 782.9 L1175.6 783.0 L1177.2 783.0 L1178.9 783.1 L1180.5 783.2 L1182.1 783.2 L1183.8 783.3 L1185.4 783.4 L1187.0 783.4 L1188.7 783.5 L1190.3 783.6 L1191.9 783.6 L1193.5 783.7 L1195.0 783.8 L1196.5 783.8 L1198.0 783.9 L1199.5 784.0" stroke="#0B7A1B"/>
<path d="M178.5 188.0 L180.0 188.0 L181.6 188.0 L183.1 188.0 L184.7 188.0 L186.3 188.0 L188.0 188.0 L189.6 188.1 L191.3 188.1 L192.9 188.1 L194.6 188.1 L196.3 188.1 L198.0 188.1 L199.7 188.1 L201.4 188.1 L203.2 188.1 L204.9 188.1 L206.6 188.1 L208.4 188.1 L210.1 188.1 L211.8 188.1 L213.5 188.1 L215.3 188.1 L217.0 188.2 L218.7 188.2 L220.4 188.2 L222.1 188.2 L223.8 188.2 L225.5 188.2 L227.1 188.2 L228.8 188.2 L230.4 188.2 L232.0 188.2 L233.6 188.2 L235.1 188.2 L236.7 188.2 L238.2 188.2 L239.7 188.3 L241.2 188.3 L242.6 188.3 L244.0 188.3 L245.4 188.3 L246.8 188.3 L248.1 188.3 L249.4 188.3 L250.6 188.3 L251.8 188.4 L253.0 188.4 L254.1 188.4 L255.2 188.4 L256.3 188.4 L257.3 188.4 L258.2 188.5 L259.1 188.5 L260.0 188.5 L262.0 188.5 L263.8 188.6 L265.4 188.6 L266.8 188.7 L268.1 188.7 L269.4 188.8 L270.7 188.9 L272.0 189.0 L273.6 189.2 L275.2 189.4 L276.7 189.6 L278.2 189.8 L279.6 190.1 L281.0 190.5 L282.5 191.0 L283.9 191.5 L285.3 192.1 L286.7 192.8 L288.0 193.5 L289.3 194.3 L290.5 195.3 L291.7 196.3 L292.9 197.3 L294.0 198.5 L294.9 199.6 L295.9 200.8 L296.7 202.1 L297.6 203.4 L298.3 204.7 L299.0 206.0 L299.7 207.6 L300.3 209.1 L300.8 210.6 L301.4 212.1 L302.0 213.6 L302.7 215.1 L303.3 216.6 L303.9 218.1 L304.5 219.6 L305.1 221.1 L305.7 222.7 L306.2 224.3 L306.7 225.8 L307.3 227.4 L307.8 229.1 L308.3 230.7 L308.8 232.3 L309.2 234.0 L309.7 235.6 L310.2 237.3 L310.6 239.0 L311.0 240.6 L311.5 242.3 L311.9 244.0 L312.3 245.7 L312.8 247.4 L313.2 249.1 L313.6 250.8 L314.0 252.5 L314.4 254.2 L314.8 256.0 L315.2 257.7 L315.6 259.4 L316.0 261.1 L316.4 262.9 L316.8 264.6 L317.2 266.3 L317.6 268.1 L317.9 269.8 L318.3 271.5 L318.7 273.3 L319.1 275.0 L319.5 276.8 L319.8 278.5 L320.2 280.3 L320.6 282.0 L320.9 283.8 L321.3 285.5 L321.7 287.3 L322.0 289.0 L322.4 290.8 L322.8 292.5 L323.1 294.3 L323.5 296.1 L323.9 297.8 L324.2 299.6 L324.6 301.3 L324.9 303.1 L325.3 304.9 L325.6 306.6 L326.0 308.4 L326.4 310.2 L326.7 311.9 L327.1 313.7 L327.4 315.5 L327.8 317.2 L328.1 319.0 L328.5 320.8 L328.8 322.5 L329.2 324.3 L329.5 326.1 L329.9 327.8 L330.3 329.6 L330.6 331.4 L331.0 333.1 L331.3 334.9 L331.7 336.7 L332.0 338.4 L332.4 340.2 L332.8 341.9 L333.1 343.7 L333.5 345.5 L333.9 347.2 L334.2 349.0 L334.6 350.7 L335.0 352.5 L335.3 354.2 L335.7 356.0 L336.1 357.7 L336.5 359.5 L336.8 361.2 L337.2 363.0 L337.6 364.7 L338.0 366.4 L338.4 368.2 L338.7 369.9 L339.1 371.6 L339.5 373.4 L339.9 375.1 L340.3 376.8 L340.7 378.5 L341.1 380.2 L341.5 382.0 L341.9 383.7 L342.3 385.4 L342.8 387.1 L343.2 388.8 L343.6 390.5 L344.0 392.2 L344.4 393.9 L344.9 395.6 L345.3 397.3 L345.7 399.0 L346.1 400.7 L346.6 402.4 L347.0 404.0 L347.5 405.7 L347.9 407.4 L348.4 409.1 L348.8 410.7 L349.3 412.4 L349.7 414.1 L350.2 415.7 L350.7 417.4 L351.1 419.0 L351.6 420.7 L352.1 422.3 L352.6 423.9 L353.1 425.6 L353.6 427.2 L354.1 428.8 L354.6 430.5 L355.1 432.1 L355.6 433.7 L356.1 435.3 L356.6 436.9 L357.1 438.5 L357.6 440.1 L358.2 441.7 L358.7 443.3 L359.2 444.9 L359.8 446.4 L360.3 448.0 L360.9 449.6 L361.4 451.1 L362.0 452.7 L362.6 454.3 L363.1 455.8 L363.7 457.4 L364.3 458.9 L364.9 460.4 L365.5 462.0 L366.1 463.5 L366.7 465.0 L367.3 466.5 L367.9 468.0 L368.5 469.5 L369.1 471.0 L369.8 472.5 L370.4 474.0 L371.0 475.5 L371.7 477.0 L372.3 478.4 L373.0 479.9 L373.7 481.4 L374.3 482.8 L375.0 484.3 L375.7 485.7 L376.4 487.1 L377.0 488.6 L377.7 490.0 L378.4 491.4 L379.1 492.8 L379.9 494.2 L380.6 495.7 L381.3 497.1 L382.0 498.4 L382.8 499.8 L383.5 501.2 L384.2 502.6 L385.0 504.0 L385.7 505.3 L386.5 506.7 L387.3 508.1 L388.0 509.4 L388.8 510.8 L389.6 512.1 L390.4 513.5 L391.1 514.8 L391.9 516.1 L392.7 517.4 L393.5 518.8 L394.3 520.1 L395.1 521.4 L396.0 522.7 L396.8 524.0 L397.6 525.3 L398.4 526.6 L399.3 527.9 L400.1 529.2 L400.9 530.4 L401.8 531.7 L402.6 533.0 L403.5 534.3 L404.3 535.5 L405.2 536.8 L406.1 538.0 L407.0 539.3 L407.8 540.5 L408.7 541.8 L409.6 543.0 L410.5 544.2 L411.4 545.5 L412.3 546.7 L413.2 547.9 L414.1 549.1 L415.0 550.3 L415.9 551.6 L416.8 552.8 L417.7 554.0 L418.7 555.2 L419.6 556.3 L420.5 557.5 L421.5 558.7 L422.4 559.9 L423.3 561.1 L424.3 562.3 L425.2 563.4 L426.2 564.6 L427.1 565.8 L428.1 566.9 L429.1 568.1 L430.0 569.2 L431.0 570.4 L432.0 571.5 L433.0 572.7 L433.9 573.8 L434.9 575.0 L435.9 576.1 L436.9 577.2 L437.9 578.4 L438.9 579.5 L439.9 580.6 L440.9 581.7 L441.9 582.8 L442.9 583.9 L443.9 585.0 L444.9 586.1 L446.0 587.2 L447.0 588.3 L448.0 589.4 L449.1 590.5 L450.1 591.6 L451.1 592.7 L452.2 593.8 L453.2 594.8 L454.3 595.9 L455.3 597.0 L456.4 598.0 L457.5 599.1 L458.5 600.1 L459.6 601.2 L460.7 602.2 L461.8 603.2 L462.9 604.3 L464.0 605.3 L465.1 606.3 L466.2 607.3 L467.3 608.4 L468.4 609.4 L469.5 610.4 L470.6 611.4 L471.8 612.4 L472.9 613.3 L474.0 614.3 L475.2 615.3 L476.3 616.3 L477.5 617.2 L478.7 618.2 L479.8 619.2 L481.0 620.1 L482.2 621.0 L483.4 622.0 L484.5 622.9 L485.7 623.8 L486.9 624.8 L488.1 625.7 L489.4 626.6 L490.6 627.5 L491.8 628.4 L493.0 629.3 L494.3 630.2 L495.5 631.0 L496.8 631.9 L498.0 632.8 L499.3 633.6 L500.6 634.5 L501.8 635.3 L503.1 636.2 L504.4 637.0 L505.7 637.8 L507.0 638.6 L508.3 639.4 L509.6 640.2 L511.0 641.0 L512.3 641.8 L513.6 642.6 L515.0 643.4 L516.3 644.2 L517.7 644.9 L519.1 645.7 L520.4 646.4 L521.8 647.2 L523.2 647.9 L524.6 648.6 L526.0 649.3 L527.4 650.0 L528.8 650.8 L530.3 651.4 L531.7 652.1 L533.1 652.8 L534.6 653.5 L536.0 654.2 L537.5 654.8 L538.9 655.5 L540.4 656.2 L541.9 656.8 L543.4 657.4 L544.8 658.1 L546.3 658.7 L547.8 659.3 L549.3 660.0 L550.8 660.6 L552.3 661.2 L553.9 661.8 L555.4 662.4 L556.9 663.0 L558.4 663.6 L560.0 664.2 L561.5 664.7 L563.0 665.3 L564.6 665.9 L566.1 666.5 L567.7 667.0 L569.3 667.6 L570.8 668.2 L572.4 668.7 L574.0 669.3 L575.5 669.8 L577.1 670.4 L578.7 670.9 L580.3 671.4 L581.8 672.0 L583.4 672.5 L585.0 673.0 L586.6 673.6 L588.2 674.1 L589.8 674.6 L591.4 675.1 L593.0 675.7 L594.6 676.2 L596.2 676.7 L597.8 677.2 L599.4 677.7 L601.0 678.2 L602.7 678.8 L604.3 679.3 L605.9 679.8 L607.5 680.3 L609.1 680.8 L610.7 681.3 L612.3 681.8 L614.0 682.3 L615.6 682.8 L617.2 683.3 L618.8 683.8 L620.5 684.3 L622.1 684.8 L623.7 685.2 L625.4 685.7 L627.0 686.2 L628.6 686.7 L630.3 687.2 L631.9 687.7 L633.5 688.2 L635.2 688.6 L636.8 689.1 L638.5 689.6 L640.1 690.1 L641.8 690.5 L643.4 691.0 L645.1 691.5 L646.7 692.0 L648.4 692.4 L650.0 692.9 L651.7 693.4 L653.4 693.8 L655.0 694.3 L656.7 694.7 L658.3 695.2 L660.0 695.6 L661.7 696.1 L663.3 696.6 L665.0 697.0 L666.7 697.5 L668.4 697.9 L670.0 698.3 L671.7 698.8 L673.4 699.2 L675.1 699.7 L676.8 700.1 L678.4 700.6 L680.1 701.0 L681.8 701.4 L683.5 701.9 L685.2 702.3 L686.9 702.7 L688.6 703.1 L690.3 703.6 L692.0 704.0 L693.7 704.4 L695.4 704.8 L697.1 705.3 L698.8 705.7 L700.5 706.1 L702.2 706.5 L703.9 706.9 L705.6 707.3 L707.3 707.7 L709.0 708.1 L710.7 708.5 L712.5 708.9 L714.2 709.3 L715.9 709.7 L717.6 710.1 L719.4 710.5 L721.1 710.9 L722.8 711.3 L724.5 711.7 L726.3 712.1 L728.0 712.5 L729.7 712.9 L731.5 713.3 L733.2 713.6 L735.0 714.0 L736.7 714.4 L738.5 714.8 L740.2 715.2 L741.9 715.5 L743.7 715.9 L745.5 716.3 L747.2 716.6 L749.0 717.0 L750.7 717.4 L752.5 717.7 L754.2 718.1 L756.0 718.4 L757.8 718.8 L759.5 719.2 L761.3 719.5 L763.1 719.9 L764.9 720.2 L766.6 720.5 L768.4 720.9 L770.2 721.2 L772.0 721.6 L773.7 721.9 L775.5 722.3 L777.3 722.6 L779.1 722.9 L780.9 723.3 L782.7 723.6 L784.5 723.9 L786.3 724.2 L788.1 724.6 L789.9 724.9 L791.7 725.2 L793.5 725.5 L795.3 725.8 L797.1 726.1 L798.9 726.5 L800.7 726.8 L802.5 727.1 L804.3 727.4 L806.2 727.7 L808.0 728.0 L809.8 728.3 L811.6 728.6 L813.4 728.9 L815.3 729.2 L817.1 729.5 L818.9 729.8 L820.8 730.0 L822.6 730.3 L824.4 730.6 L826.3 730.9 L828.1 731.2 L830.0 731.5 L831.8 731.7 L833.6 732.0 L835.5 732.3 L837.4 732.6 L839.2 732.8 L841.1 733.1 L842.5 733.3 L844.0 733.5 L845.5 733.7 L847.0 733.9 L848.5 734.1 L850.0 734.3 L851.5 734.5 L853.0 734.7 L854.5 734.9 L856.0 735.2 L857.5 735.4 L859.0 735.5 L860.5 735.7 L862.0 735.9 L863.5 736.1 L865.0 736.3 L866.5 736.5 L868.0 736.7 L869.5 736.9 L871.0 737.1 L872.5 737.3 L874.0 737.5 L875.5 737.7 L877.0 737.8 L878.6 738.0 L880.1 738.2 L881.6 738.4 L883.1 738.6 L884.6 738.7 L886.1 738.9 L887.7 739.1 L889.2 739.3 L890.7 739.4 L892.2 739.6 L893.7 739.8 L895.3 740.0 L896.8 740.1 L898.3 740.3 L899.9 740.5 L901.4 740.6 L902.9 740.8 L904.5 741.0 L906.0 741.1 L907.5 741.3 L909.1 741.5 L910.6 741.6 L912.1 741.8 L913.7 741.9 L915.2 742.1 L916.7 742.2 L918.3 742.4 L919.8 742.6 L921.4 742.7 L922.9 742.9 L924.5 743.0 L926.0 743.2 L927.6 743.3 L929.1 743.5 L930.7 743.6 L932.2 743.8 L933.8 743.9 L935.3 744.0 L936.9 744.2 L938.4 744.3 L940.0 744.5 L941.5 744.6 L943.1 744.8 L944.7 744.9 L946.2 745.0 L947.8 745.2 L949.3 745.3 L950.9 745.4 L952.5 745.6 L954.0 745.7 L955.6 745.8 L957.2 746.0 L958.7 746.1 L960.3 746.2 L961.9 746.4 L963.4 746.5 L965.0 746.6 L966.6 746.7 L968.1 746.9 L969.7 747.0 L971.3 747.1 L972.9 747.2 L974.4 747.3 L976.0 747.5 L977.6 747.6 L979.2 747.7 L980.8 747.8 L982.3 747.9 L983.9 748.1 L985.5 748.2 L987.1 748.3 L988.7 748.4 L990.3 748.5 L991.8 748.6 L993.4 748.7 L995.0 748.8 L996.6 749.0 L998.2 749.1 L999.8 749.2 L1001.4 749.3 L1003.0 749.4 L1004.5 749.5 L1006.1 749.6 L1007.7 749.7 L1009.3 749.8 L1010.9 749.9 L1012.5 750.0 L1014.1 750.1 L1015.7 750.2 L1017.3 750.3 L1018.9 750.4 L1020.5 750.5 L1022.1 750.6 L1023.7 750.7 L1025.3 750.8 L1026.9 750.9 L1028.5 751.0 L1030.1 751.1 L1031.7 751.2 L1033.3 751.2 L1034.9 751.3 L1036.5 751.4 L1038.2 751.5 L1039.8 751.6 L1041.4 751.7 L1043.0 751.8 L1044.6 751.9 L1046.2 752.0 L1047.8 752.0 L1049.4 752.1 L1051.0 752.2 L1052.7 752.3 L1054.3 752.4 L1055.9 752.5 L1057.5 752.5 L1059.1 752.6 L1060.7 752.7 L1062.4 752.8 L1064.0 752.9 L1065.6 752.9 L1067.2 753.0 L1068.8 753.1 L1070.5 753.2 L1072.1 753.2 L1073.7 753.3 L1075.3 753.4 L1076.9 753.5 L1078.6 753.5 L1080.2 753.6 L1081.8 753.7 L1083.4 753.7 L1085.1 753.8 L1086.7 753.9 L1088.3 754.0 L1090.0 754.0 L1091.6 754.1 L1093.2 754.2 L1094.8 754.2 L1096.5 754.3 L1098.1 754.4 L1099.7 754.4 L1101.4 754.5 L1103.0 754.6 L1104.6 754.6 L1106.3 754.7 L1107.9 754.7 L1109.5 754.8 L1111.2 754.9 L1112.8 754.9 L1114.4 755.0 L1116.1 755.0 L1117.7 755.1 L1119.4 755.2 L1121.0 755.2 L1122.6 755.3 L1124.3 755.3 L1125.9 755.4 L1127.6 755.4 L1129.2 755.5 L1130.8 755.6 L1132.5 755.6 L1134.1 755.7 L1135.8 755.7 L1137.4 755.8 L1139.1 755.8 L1140.7 755.9 L1142.3 755.9 L1144.0 756.0 L1145.6 756.0 L1147.3 756.1 L1148.9 756.1 L1150.6 756.2 L1152.2 756.2 L1153.9 756.3 L1155.5 756.3 L1157.2 756.4 L1158.8 756.4 L1160.5 756.5 L1162.1 756.5 L1163.8 756.6 L1165.4 756.6 L1167.1 756.7 L1168.7 756.7 L1170.4 756.8 L1172.0 756.8 L1173.7 756.8 L1175.3 756.9 L1177.0 756.9 L1178.6 757.0 L1180.3 757.0 L1181.9 757.1 L1183.6 757.1 L1185.3 757.1 L1186.9 757.2 L1188.6 757.2 L1190.2 757.3 L1192.0 757.3 L1193.9 757.4 L1195.7 757.4 L1197.3 757.4 L1198.5 757.5 L1199.3 757.5 L1200.0 757.5" stroke="#800000"/>
<path d="M178.5 188.0 L180.0 188.0 L181.6 188.1 L183.2 188.1 L184.7 188.1 L186.4 188.1 L188.0 188.2 L189.6 188.2 L191.3 188.2 L192.9 188.2 L194.6 188.3 L196.3 188.3 L197.9 188.3 L199.6 188.3 L201.2 188.4 L202.9 188.4 L204.5 188.4 L206.2 188.4 L207.8 188.5 L209.4 188.5 L211.0 188.5 L212.6 188.5 L214.1 188.6 L215.6 188.6 L217.1 188.6 L218.6 188.7 L220.0 188.7 L221.4 188.7 L222.8 188.8 L224.1 188.8 L225.4 188.8 L226.6 188.9 L227.8 188.9 L228.9 189.0 L230.0 189.0 L231.9 189.1 L233.7 189.2 L235.4 189.4 L237.0 189.6 L238.5 189.7 L239.9 189.9 L241.3 190.0 L242.6 190.1 L243.8 190.1 L245.0 190.0 L246.7 189.8 L248.3 189.5 L249.7 189.1 L251.0 188.5 L252.4 187.6 L253.7 186.5 L255.0 185.5 L256.3 184.6 L257.6 183.7 L259.0 183.0 L261.0 182.2 L263.0 181.6 L265.0 181.3 L267.0 181.2 L269.0 181.4 L271.0 181.8 L272.8 182.5 L274.5 183.5 L275.7 184.5 L276.9 185.7 L278.0 187.0 L278.9 188.2 L279.8 189.6 L280.7 191.0 L281.5 192.5 L282.2 193.8 L282.9 195.2 L283.6 196.6 L284.3 198.0 L285.0 199.5 L285.7 200.9 L286.4 202.3 L287.1 203.7 L287.8 205.2 L288.4 206.6 L289.0 208.0 L289.6 209.7 L290.0 211.4 L290.4 213.0 L290.9 214.6 L291.4 216.2 L292.0 217.8 L292.5 219.3 L293.1 220.9 L293.6 222.5 L294.1 224.1 L294.7 225.7 L295.2 227.3 L295.7 228.9 L296.2 230.5 L296.8 232.1 L297.3 233.7 L297.8 235.3 L298.3 236.9 L298.8 238.5 L299.3 240.1 L299.8 241.8 L300.3 243.4 L300.8 245.0 L301.2 246.7 L301.7 248.3 L302.2 250.0 L302.7 251.6 L303.1 253.3 L303.6 254.9 L304.1 256.6 L304.5 258.2 L305.0 259.9 L305.4 261.6 L305.9 263.2 L306.3 264.9 L306.8 266.6 L307.2 268.3 L307.7 269.9 L308.1 271.6 L308.6 273.3 L309.0 275.0 L309.4 276.7 L309.8 278.4 L310.3 280.1 L310.7 281.8 L311.1 283.5 L311.5 285.2 L312.0 286.9 L312.4 288.6 L312.8 290.3 L313.2 292.0 L313.6 293.7 L314.0 295.4 L314.4 297.1 L314.8 298.8 L315.2 300.5 L315.7 302.3 L316.1 304.0 L316.5 305.7 L316.9 307.4 L317.2 309.2 L317.6 310.9 L318.0 312.6 L318.4 314.3 L318.8 316.1 L319.2 317.8 L319.6 319.5 L320.0 321.3 L320.4 323.0 L320.8 324.7 L321.2 326.5 L321.5 328.2 L321.9 329.9 L322.3 331.7 L322.7 333.4 L323.1 335.1 L323.5 336.9 L323.8 338.6 L324.2 340.4 L324.6 342.1 L325.0 343.8 L325.4 345.6 L325.8 347.3 L326.1 349.1 L326.5 350.8 L326.9 352.5 L327.3 354.3 L327.7 356.0 L328.0 357.8 L328.4 359.5 L328.8 361.2 L329.2 363.0 L329.6 364.7 L329.9 366.5 L330.3 368.2 L330.7 369.9 L331.1 371.7 L331.5 373.4 L331.9 375.1 L332.3 376.9 L332.6 378.6 L333.0 380.3 L333.4 382.1 L333.8 383.8 L334.2 385.5 L334.6 387.3 L335.0 389.0 L335.4 390.7 L335.8 392.4 L336.2 394.2 L336.6 395.9 L337.0 397.6 L337.4 399.3 L337.8 401.1 L338.2 402.8 L338.6 404.5 L339.0 406.2 L339.4 407.9 L339.8 409.6 L340.2 411.3 L340.6 413.0 L341.1 414.7 L341.5 416.5 L341.9 418.2 L342.3 419.9 L342.7 421.5 L343.2 423.2 L343.6 424.9 L344.0 426.6 L344.5 428.3 L344.9 430.0 L345.3 431.7 L345.8 433.4 L346.2 435.0 L346.7 436.7 L347.1 438.4 L347.6 440.1 L348.0 441.7 L348.5 443.4 L348.9 445.0 L349.4 446.7 L349.9 448.4 L350.3 450.0 L350.8 451.7 L351.3 453.3 L351.8 454.9 L352.2 456.6 L352.7 458.2 L353.2 459.9 L353.7 461.5 L354.2 463.1 L354.7 464.7 L355.2 466.3 L355.7 468.0 L356.2 469.6 L356.7 471.2 L357.3 472.8 L357.8 474.4 L358.3 476.0 L358.8 477.6 L359.4 479.2 L359.9 480.7 L360.5 482.3 L361.0 483.9 L361.5 485.5 L362.1 487.0 L362.7 488.6 L363.2 490.2 L363.8 491.7 L364.4 493.3 L364.9 494.8 L365.5 496.3 L366.1 497.9 L366.7 499.4 L367.3 500.9 L367.9 502.5 L368.5 504.0 L369.1 505.5 L369.7 507.0 L370.4 508.5 L371.0 510.0 L371.6 511.5 L372.2 513.0 L372.9 514.4 L373.5 515.9 L374.2 517.4 L374.8 518.8 L375.5 520.3 L376.2 521.8 L376.8 523.2 L377.5 524.6 L378.2 526.1 L378.9 527.5 L379.6 528.9 L380.3 530.3 L381.0 531.8 L381.7 533.2 L382.4 534.6 L383.2 536.0 L383.9 537.4 L384.6 538.7 L385.4 540.1 L386.1 541.5 L386.9 542.9 L387.6 544.2 L388.4 545.6 L389.2 546.9 L390.0 548.3 L390.7 549.6 L391.5 551.0 L392.3 552.3 L393.1 553.6 L393.9 554.9 L394.7 556.2 L395.5 557.5 L396.4 558.9 L397.2 560.1 L398.0 561.4 L398.8 562.7 L399.7 564.0 L400.5 565.3 L401.4 566.5 L402.2 567.8 L403.1 569.1 L404.0 570.3 L404.8 571.6 L405.7 572.8 L406.6 574.1 L407.5 575.3 L408.4 576.5 L409.3 577.7 L410.2 579.0 L411.1 580.2 L412.0 581.4 L412.9 582.6 L413.9 583.8 L414.8 585.0 L415.7 586.1 L416.7 587.3 L417.6 588.5 L418.6 589.7 L419.5 590.8 L420.5 592.0 L421.5 593.1 L422.4 594.3 L423.4 595.4 L424.4 596.6 L425.4 597.7 L426.4 598.8 L427.4 600.0 L428.4 601.1 L429.4 602.2 L430.4 603.3 L431.4 604.4 L432.4 605.5 L433.5 606.6 L434.5 607.7 L435.5 608.8 L436.6 609.9 L437.6 610.9 L438.7 612.0 L439.7 613.1 L440.8 614.1 L441.9 615.2 L442.9 616.2 L444.0 617.3 L445.1 618.3 L446.2 619.3 L447.3 620.4 L448.4 621.4 L449.5 622.4 L450.6 623.4 L451.7 624.5 L452.8 625.5 L453.9 626.5 L455.0 627.5 L456.2 628.5 L457.3 629.4 L458.4 630.4 L459.6 631.4 L460.7 632.4 L461.9 633.3 L463.0 634.3 L464.2 635.3 L465.4 636.2 L466.5 637.2 L467.7 638.1 L468.9 639.1 L470.1 640.0 L471.3 640.9 L472.4 641.9 L473.6 642.8 L474.8 643.7 L476.1 644.6 L477.3 645.5 L478.5 646.4 L479.7 647.3 L480.9 648.2 L482.2 649.1 L483.4 650.0 L484.6 650.9 L485.9 651.8 L487.1 652.6 L488.4 653.5 L489.6 654.4 L490.9 655.2 L492.1 656.1 L493.4 657.0 L494.7 657.8 L496.0 658.6 L497.2 659.5 L498.5 660.3 L499.8 661.2 L501.1 662.0 L502.4 662.8 L503.7 663.6 L505.0 664.4 L506.3 665.2 L507.7 666.0 L509.0 666.8 L510.3 667.6 L511.6 668.4 L513.0 669.2 L514.3 670.0 L515.6 670.8 L517.0 671.6 L518.3 672.3 L519.7 673.1 L521.0 673.9 L522.4 674.6 L523.8 675.4 L525.1 676.1 L526.5 676.9 L527.9 677.6 L529.3 678.4 L530.7 679.1 L532.0 679.8 L533.4 680.6 L534.8 681.3 L536.2 682.0 L537.6 682.7 L539.1 683.4 L540.5 684.2 L541.9 684.9 L543.3 685.6 L544.7 686.3 L546.2 686.9 L547.6 687.6 L549.0 688.3 L550.5 689.0 L551.9 689.7 L553.4 690.4 L554.8 691.0 L556.3 691.7 L557.7 692.3 L559.2 693.0 L560.7 693.7 L562.1 694.3 L563.6 695.0 L565.1 695.6 L566.6 696.2 L568.0 696.9 L569.5 697.5 L571.0 698.1 L572.5 698.8 L574.0 699.4 L575.5 700.0 L577.0 700.6 L578.5 701.2 L580.1 701.8 L581.6 702.4 L583.1 703.0 L584.6 703.6 L586.1 704.2 L587.7 704.8 L589.2 705.4 L590.8 706.0 L592.3 706.6 L593.8 707.1 L595.4 707.7 L596.9 708.3 L598.5 708.8 L600.1 709.4 L601.6 710.0 L603.2 710.5 L604.8 711.1 L606.3 711.6 L607.9 712.2 L609.5 712.7 L611.1 713.2 L612.7 713.8 L614.3 714.3 L615.9 714.8 L617.4 715.4 L619.0 715.9 L620.7 716.4 L622.3 716.9 L623.9 717.4 L625.5 717.9 L627.1 718.4 L628.7 718.9 L630.3 719.4 L632.0 719.9 L633.6 720.4 L635.2 720.9 L636.9 721.4 L638.5 721.9 L640.1 722.4 L641.8 722.8 L643.4 723.3 L645.1 723.8 L646.7 724.2 L648.4 724.7 L650.1 725.2 L651.7 725.6 L653.4 726.1 L655.1 726.5 L656.7 727.0 L658.4 727.4 L660.1 727.9 L661.8 728.3 L663.5 728.7 L665.2 729.2 L666.8 729.6 L668.5 730.0 L670.2 730.5 L671.9 730.9 L673.6 731.3 L675.3 731.7 L677.0 732.1 L678.8 732.5 L680.5 732.9 L682.2 733.3 L683.9 733.7 L685.6 734.1 L687.4 734.5 L689.1 734.9 L690.8 735.3 L692.5 735.7 L694.3 736.1 L696.0 736.5 L697.8 736.9 L699.5 737.2 L701.3 737.6 L703.0 738.0 L704.8 738.3 L706.5 738.7 L708.3 739.1 L710.0 739.4 L711.8 739.8 L713.6 740.2 L715.3 740.5 L717.1 740.9 L718.9 741.2 L720.7 741.5 L722.4 741.9 L724.2 742.2 L726.0 742.6 L727.8 742.9 L729.6 743.2 L731.4 743.6 L733.2 743.9 L735.0 744.2 L736.8 744.5 L738.6 744.9 L740.4 745.2 L742.2 745.5 L744.0 745.8 L745.8 746.1 L747.6 746.4 L749.4 746.7 L751.2 747.0 L753.1 747.3 L754.9 747.6 L756.7 747.9 L758.5 748.2 L760.4 748.5 L762.2 748.8 L764.0 749.1 L765.9 749.4 L767.7 749.7 L769.5 749.9 L771.4 750.2 L773.2 750.5 L775.1 750.8 L776.9 751.0 L778.8 751.3 L780.6 751.6 L782.1 751.8 L783.6 752.0 L785.1 752.2 L786.6 752.4 L788.1 752.6 L789.6 752.8 L791.1 753.0 L792.6 753.2 L794.1 753.4 L795.6 753.6 L797.1 753.8 L798.6 754.0 L800.1 754.2 L801.6 754.4 L803.1 754.6 L804.6 754.8 L806.1 755.0 L807.6 755.2 L809.1 755.4 L810.6 755.5 L812.1 755.7 L813.6 755.9 L815.1 756.1 L816.7 756.3 L818.2 756.5 L819.7 756.6 L821.2 756.8 L822.7 757.0 L824.3 757.2 L825.8 757.3 L827.3 757.5 L828.8 757.7 L830.4 757.9 L831.9 758.0 L833.4 758.2 L834.9 758.4 L836.5 758.5 L838.0 758.7 L839.5 758.9 L841.1 759.0 L842.6 759.2 L844.1 759.3 L845.7 759.5 L847.2 759.7 L848.8 759.8 L850.3 760.0 L851.8 760.1 L853.4 760.3 L854.9 760.4 L856.5 760.6 L858.0 760.7 L859.6 760.9 L861.1 761.0 L862.7 761.2 L864.2 761.3 L865.8 761.5 L867.3 761.6 L868.9 761.8 L870.4 761.9 L872.0 762.0 L873.6 762.2 L875.1 762.3 L876.7 762.4 L878.2 762.6 L879.8 762.7 L881.4 762.9 L882.9 763.0 L884.5 763.1 L886.0 763.3 L887.6 763.4 L889.2 763.5 L890.8 763.6 L892.3 763.8 L893.9 763.9 L895.5 764.0 L897.0 764.1 L898.6 764.3 L900.2 764.4 L901.8 764.5 L903.3 764.6 L904.9 764.8 L906.5 764.9 L908.1 765.0 L909.6 765.1 L911.2 765.2 L912.8 765.3 L914.4 765.5 L916.0 765.6 L917.6 765.7 L919.1 765.8 L920.7 765.9 L922.3 766.0 L923.9 766.1 L925.5 766.2 L927.1 766.4 L928.7 766.5 L930.2 766.6 L931.8 766.7 L933.4 766.8 L935.0 766.9 L936.6 767.0 L938.2 767.1 L939.8 767.2 L941.4 767.3 L943.0 767.4 L944.6 767.5 L946.2 767.6 L947.8 767.7 L949.4 767.8 L951.0 767.9 L952.6 768.0 L954.2 768.1 L955.8 768.2 L957.4 768.3 L959.0 768.4 L960.6 768.5 L962.2 768.6 L963.8 768.6 L965.4 768.7 L967.0 768.8 L968.6 768.9 L970.2 769.0 L971.9 769.1 L973.5 769.2 L975.1 769.3 L976.7 769.4 L978.3 769.4 L979.9 769.5 L981.5 769.6 L983.1 769.7 L984.7 769.8 L986.4 769.9 L988.0 769.9 L989.6 770.0 L991.2 770.1 L992.8 770.2 L994.4 770.3 L996.1 770.3 L997.7 770.4 L999.3 770.5 L1000.9 770.6 L1002.5 770.7 L1004.2 770.7 L1005.8 770.8 L1007.4 770.9 L1009.0 771.0 L1010.6 771.0 L1012.3 771.1 L1013.9 771.2 L1015.5 771.3 L1017.1 771.3 L1018.8 771.4 L1020.4 771.5 L1022.0 771.5 L1023.6 771.6 L1025.3 771.7 L1026.9 771.8 L1028.5 771.8 L1030.1 771.9 L1031.8 772.0 L1033.4 772.0 L1035.0 772.1 L1036.7 772.2 L1038.3 772.2 L1039.9 772.3 L1041.5 772.4 L1043.2 772.4 L1044.8 772.5 L1046.4 772.6 L1048.1 772.6 L1049.7 772.7 L1051.3 772.8 L1053.0 772.8 L1054.6 772.9 L1056.2 773.0 L1057.9 773.0 L1059.5 773.1 L1061.1 773.1 L1062.8 773.2 L1064.4 773.3 L1066.0 773.3 L1067.7 773.4 L1069.3 773.4 L1071.0 773.5 L1072.6 773.6 L1074.2 773.6 L1075.9 773.7 L1077.5 773.7 L1079.1 773.8 L1080.8 773.9 L1082.4 773.9 L1084.1 774.0 L1085.7 774.0 L1087.3 774.1 L1089.0 774.2 L1090.6 774.2 L1092.2 774.3 L1093.9 774.3 L1095.5 774.4 L1097.2 774.4 L1098.8 774.5 L1100.4 774.6 L1102.1 774.6 L1103.7 774.7 L1105.4 774.7 L1107.0 774.8 L1108.6 774.8 L1110.3 774.9 L1111.9 775.0 L1113.6 775.0 L1115.2 775.1 L1116.9 775.1 L1118.5 775.2 L1120.1 775.2 L1121.8 775.3 L1123.4 775.3 L1125.1 775.4 L1126.7 775.5 L1128.3 775.5 L1130.0 775.6 L1131.6 775.6 L1133.3 775.7 L1134.9 775.7 L1136.6 775.8 L1138.2 775.8 L1139.8 775.9 L1141.5 776.0 L1143.1 776.0 L1144.8 776.1 L1146.4 776.1 L1148.0 776.2 L1149.7 776.2 L1151.3 776.3 L1153.0 776.3 L1154.6 776.4 L1156.3 776.5 L1157.9 776.5 L1159.5 776.6 L1161.2 776.6 L1162.8 776.7 L1164.5 776.7 L1166.1 776.8 L1167.7 776.8 L1169.4 776.9 L1171.0 777.0 L1172.7 777.0 L1174.3 777.1 L1175.9 777.1 L1177.6 777.2 L1179.2 777.2 L1180.9 777.3 L1182.5 777.4 L1184.1 777.4 L1185.8 777.5 L1187.4 777.5 L1189.1 777.6 L1190.8 777.6 L1192.5 777.7 L1194.1 777.8 L1195.6 777.8 L1197.3 777.9 L1198.9 777.9 L1200.5 778.0" stroke="#800080"/>
<path d="M178.5 163.5 L180.0 163.5 L181.6 163.5 L183.1 163.4 L184.7 163.4 L186.2 163.4 L187.8 163.4 L189.3 163.3 L190.8 163.3 L192.4 163.3 L193.9 163.3 L195.4 163.3 L197.0 163.2 L198.5 163.2 L200.0 163.2 L201.6 163.2 L203.1 163.2 L204.7 163.1 L206.2 163.1 L207.7 163.1 L209.3 163.1 L210.8 163.0 L212.3 163.0 L213.9 163.0 L215.4 163.0 L216.9 163.0 L218.5 163.0 L220.0 163.0 L221.5 163.0 L223.1 163.0 L224.7 163.1 L226.2 163.1 L227.8 163.1 L229.4 163.2 L231.0 163.2 L232.5 163.2 L234.1 163.3 L235.6 163.3 L237.1 163.4 L238.6 163.4 L240.0 163.5 L241.6 163.6 L243.2 163.6 L244.7 163.7 L246.2 163.8 L247.7 163.9 L249.2 163.9 L250.6 164.0 L252.1 164.1 L253.6 164.2 L255.0 164.3 L256.7 164.4 L258.4 164.5 L260.1 164.6 L261.7 164.8 L263.3 164.9 L264.9 165.0 L266.5 165.2 L268.0 165.3 L269.6 165.5 L271.2 165.6 L272.7 165.8 L274.2 166.0 L275.6 166.2 L277.0 166.5 L278.6 166.9 L280.1 167.4 L281.6 167.9 L283.0 168.5 L284.7 169.4 L286.4 170.4 L288.0 171.5 L289.2 172.4 L290.3 173.4 L291.4 174.4 L292.5 175.5 L293.7 176.7 L294.8 177.9 L295.9 179.2 L297.0 180.5 L298.0 181.8 L299.0 183.2 L300.0 184.6 L301.0 186.0 L301.8 187.2 L302.6 188.5 L303.5 189.8 L304.2 191.2 L305.0 192.5 L305.7 193.9 L306.5 195.3 L307.2 196.7 L307.9 198.1 L308.5 199.5 L309.2 201.0 L309.8 202.5 L310.4 204.0 L311.0 205.5 L311.5 207.1 L312.0 208.7 L312.5 210.3 L313.0 211.9 L313.5 213.6 L314.0 215.2 L314.5 216.9 L314.9 218.5 L315.4 220.2 L315.8 221.9 L316.3 223.6 L316.7 225.2 L317.1 226.9 L317.6 228.6 L318.0 230.3 L318.4 232.0 L318.9 233.7 L319.3 235.4 L319.7 237.1 L320.2 238.7 L320.6 240.4 L321.1 242.0 L321.6 243.7 L322.0 245.4 L322.5 247.0 L323.0 248.6 L323.5 250.3 L324.0 251.9 L324.5 253.5 L325.0 255.1 L325.5 256.7 L326.0 258.3 L326.6 259.9 L327.1 261.5 L327.6 263.1 L328.2 264.7 L328.7 266.3 L329.2 267.9 L329.8 269.4 L330.3 271.0 L330.9 272.6 L331.4 274.2 L331.9 275.8 L332.5 277.3 L333.0 278.9 L333.6 280.5 L334.2 282.0 L334.7 283.6 L335.3 285.2 L335.8 286.7 L336.4 288.3 L336.9 289.9 L337.5 291.5 L338.0 293.0 L338.5 294.6 L339.1 296.2 L339.6 297.8 L340.2 299.3 L340.7 300.9 L341.2 302.5 L341.8 304.1 L342.3 305.7 L342.8 307.3 L343.3 308.9 L343.9 310.5 L344.4 312.1 L344.9 313.7 L345.4 315.4 L345.9 317.0 L346.4 318.6 L346.9 320.2 L347.3 321.9 L347.8 323.5 L348.3 325.2 L348.7 326.9 L349.2 328.5 L349.6 330.2 L350.1 331.9 L350.5 333.6 L350.9 335.2 L351.4 336.9 L351.8 338.6 L352.2 340.3 L352.6 342.1 L353.0 343.8 L353.4 345.5 L353.8 347.2 L354.2 348.9 L354.6 350.7 L355.0 352.4 L355.4 354.1 L355.8 355.9 L356.2 357.6 L356.5 359.3 L356.9 361.1 L357.3 362.8 L357.7 364.6 L358.0 366.3 L358.4 368.1 L358.8 369.8 L359.1 371.6 L359.5 373.3 L359.9 375.1 L360.2 376.9 L360.6 378.6 L361.0 380.4 L361.3 382.1 L361.7 383.9 L362.1 385.6 L362.5 387.4 L362.8 389.1 L363.2 390.9 L363.6 392.6 L363.9 394.4 L364.3 396.1 L364.7 397.9 L365.1 399.6 L365.5 401.3 L365.9 403.1 L366.3 404.8 L366.6 406.5 L367.0 408.2 L367.4 410.0 L367.9 411.7 L368.3 413.4 L368.7 415.1 L369.1 416.8 L369.5 418.5 L370.0 420.2 L370.4 421.9 L370.8 423.5 L371.3 425.2 L371.7 426.9 L372.2 428.6 L372.7 430.2 L373.1 431.9 L373.6 433.5 L374.1 435.1 L374.6 436.8 L375.1 438.4 L375.6 440.0 L376.1 441.6 L376.6 443.2 L377.2 444.8 L377.7 446.4 L378.2 447.9 L378.8 449.5 L379.4 451.1 L379.9 452.6 L380.5 454.1 L381.1 455.7 L381.7 457.2 L382.3 458.7 L383.0 460.2 L383.6 461.7 L384.3 463.2 L384.9 464.6 L385.6 466.1 L386.3 467.5 L387.0 468.9 L387.7 470.4 L388.4 471.8 L389.1 473.1 L389.9 474.5 L390.6 475.9 L391.4 477.2 L392.2 478.6 L392.9 479.9 L393.8 481.2 L394.6 482.5 L395.4 483.8 L396.3 485.1 L397.1 486.3 L398.0 487.6 L398.9 488.8 L399.8 490.0 L400.7 491.2 L401.7 492.4 L402.6 493.6 L403.6 494.7 L404.6 495.9 L405.6 497.0 L406.6 498.1 L407.7 499.2 L408.7 500.2 L409.8 501.3 L410.9 502.3 L412.0 503.3 L413.1 504.3 L414.2 505.3 L415.4 506.3 L416.6 507.2 L417.8 508.1 L419.0 509.0 L420.3 509.9 L421.5 510.7 L422.8 511.6 L424.2 512.4 L425.5 513.1 L426.9 513.8 L428.4 514.5 L429.8 515.2 L431.3 515.8 L432.9 516.4 L434.5 516.9 L436.1 517.4 L437.8 517.8 L439.5 518.2 L441.0 518.5 L442.5 518.7 L444.0 518.9 L445.5 519.1 L447.0 519.2 L448.7 519.3 L450.3 519.3 L452.0 519.3 L453.7 519.3 L455.5 519.2 L457.0 519.1 L458.6 519.0 L460.2 518.8 L461.8 518.6 L463.4 518.4 L465.1 518.1 L466.5 517.8 L467.9 517.5 L469.3 517.1 L470.8 516.8 L472.2 516.4 L473.7 515.9 L475.2 515.4 L476.7 514.9 L478.2 514.4 L479.6 513.9 L481.0 513.4 L482.5 512.8 L483.9 512.2 L485.4 511.5 L487.0 510.8 L488.5 510.1 L490.1 509.3 L491.7 508.4 L492.9 507.8 L494.0 507.1 L495.2 506.4 L496.4 505.7 L497.6 505.0 L498.8 504.2 L500.0 503.4 L501.3 502.6 L502.5 501.7 L503.8 500.9 L505.1 500.0 L506.4 499.1 L507.7 498.2 L509.0 497.3 L510.3 496.4 L511.6 495.4 L512.9 494.5 L514.2 493.6 L515.5 492.7 L516.9 491.8 L518.0 491.0 L519.2 490.1 L520.4 489.2 L521.7 488.4 L522.9 487.5 L524.2 486.6 L525.4 485.6 L526.7 484.7 L527.9 483.8 L529.2 482.8 L530.5 481.9 L531.7 480.9 L533.0 480.0 L534.3 479.1 L535.5 478.1 L536.8 477.2 L538.0 476.3 L539.3 475.4 L540.5 474.5 L541.7 473.6 L542.9 472.7 L544.1 471.9 L545.3 471.0 L546.5 470.2 L547.7 469.5 L549.1 468.5 L550.5 467.6 L551.8 466.7 L553.2 465.8 L554.6 464.9 L555.9 464.0 L557.3 463.1 L558.6 462.3 L559.9 461.4 L561.3 460.6 L562.6 459.8 L563.9 459.1 L565.1 458.3 L566.4 457.6 L567.7 456.8 L568.9 456.1 L570.1 455.5 L571.7 454.6 L573.2 453.9 L574.7 453.1 L576.1 452.4 L577.6 451.7 L579.0 451.0 L580.5 450.3 L581.9 449.7 L583.3 449.1 L584.7 448.6 L586.0 448.0 L587.6 447.5 L589.2 446.9 L590.7 446.4 L592.2 446.0 L593.7 445.5 L595.2 445.1 L596.7 444.8 L598.2 444.4 L599.9 444.0 L601.7 443.6 L603.4 443.3 L605.1 443.0 L606.8 442.8 L608.5 442.6 L610.3 442.4 L612.1 442.3 L613.9 442.2 L615.6 442.2 L617.3 442.2 L618.9 442.3 L620.5 442.4 L622.0 442.6 L623.5 442.8 L624.9 443.1 L626.6 443.5 L628.3 443.9 L629.9 444.4 L631.5 445.0 L632.9 445.7 L634.4 446.4 L635.8 447.1 L637.1 447.9 L638.4 448.7 L639.6 449.6 L640.8 450.5 L642.0 451.5 L643.1 452.5 L644.2 453.5 L645.3 454.6 L646.3 455.7 L647.3 456.8 L648.3 457.9 L649.2 459.1 L650.2 460.3 L651.1 461.4 L652.1 462.6 L653.0 463.9 L653.9 465.1 L654.8 466.3 L655.7 467.5 L656.5 468.8 L657.4 470.0 L658.3 471.3 L659.2 472.5 L660.0 473.8 L660.9 475.0 L661.7 476.3 L662.6 477.6 L663.4 478.9 L664.2 480.2 L665.0 481.5 L665.8 482.8 L666.7 484.1 L667.5 485.4 L668.3 486.7 L669.0 488.1 L669.8 489.4 L670.6 490.7 L671.4 492.1 L672.2 493.4 L672.9 494.8 L673.7 496.2 L674.5 497.5 L675.2 498.9 L676.0 500.3 L676.7 501.6 L677.4 503.0 L678.2 504.4 L678.9 505.8 L679.6 507.2 L680.4 508.6 L681.1 510.0 L681.8 511.4 L682.5 512.8 L683.2 514.2 L683.9 515.6 L684.6 517.1 L685.3 518.5 L686.0 519.9 L686.7 521.3 L687.4 522.8 L688.1 524.2 L688.8 525.6 L689.4 527.1 L690.1 528.5 L690.8 530.0 L691.5 531.4 L692.2 532.9 L692.8 534.3 L693.5 535.7 L694.2 537.2 L694.9 538.6 L695.5 540.1 L696.2 541.5 L696.9 543.0 L697.6 544.4 L698.2 545.9 L698.9 547.3 L699.6 548.7 L700.3 550.2 L701.0 551.6 L701.7 553.0 L702.4 554.4 L703.1 555.8 L703.8 557.3 L704.5 558.7 L705.2 560.1 L706.0 561.5 L706.7 562.9 L707.4 564.3 L708.2 565.6 L708.9 567.0 L709.7 568.4 L710.4 569.7 L711.2 571.1 L712.0 572.4 L712.8 573.8 L713.6 575.1 L714.4 576.4 L715.2 577.7 L716.0 579.0 L716.8 580.3 L717.7 581.6 L718.5 582.9 L719.4 584.1 L720.2 585.4 L721.1 586.6 L722.0 587.8 L722.9 589.0 L723.8 590.3 L724.8 591.4 L725.7 592.6 L726.7 593.8 L727.7 594.9 L728.6 596.1 L729.6 597.2 L730.7 598.3 L731.7 599.4 L732.7 600.5 L733.8 601.5 L734.9 602.6 L735.9 603.6 L737.1 604.6 L738.2 605.6 L739.3 606.6 L740.5 607.6 L741.7 608.5 L742.9 609.4 L744.1 610.3 L745.3 611.2 L746.6 612.1 L747.8 613.0 L749.1 613.8 L750.4 614.6 L751.8 615.4 L753.1 616.1 L754.5 616.9 L755.9 617.6 L757.3 618.3 L758.7 619.0 L760.2 619.7 L761.6 620.4 L763.1 621.0 L764.6 621.6 L766.1 622.3 L767.6 622.9 L769.1 623.5 L770.6 624.1 L772.2 624.7 L773.7 625.3 L775.2 625.8 L776.8 626.4 L778.3 627.0 L779.9 627.5 L781.4 628.1 L783.0 628.7 L784.6 629.3 L786.1 629.8 L787.7 630.4 L789.2 631.0 L790.8 631.5 L792.3 632.1 L793.9 632.7 L795.4 633.2 L797.0 633.8 L798.5 634.4 L800.1 634.9 L801.6 635.5 L803.2 636.1 L804.7 636.6 L806.3 637.2 L807.8 637.8 L809.4 638.4 L810.9 638.9 L812.5 639.5 L814.0 640.1 L815.6 640.7 L817.1 641.3 L818.6 641.8 L820.2 642.4 L821.7 643.0 L823.2 643.6 L824.8 644.2 L826.3 644.8 L827.8 645.4 L829.4 646.0 L830.9 646.5 L832.4 647.1 L833.9 647.7 L835.5 648.3 L837.0 648.9 L838.5 649.6 L840.0 650.2 L841.5 650.8 L843.0 651.4 L844.5 652.0 L846.0 652.6 L847.5 653.2 L849.0 653.9 L850.5 654.5 L852.0 655.1 L853.5 655.8 L855.0 656.4 L856.5 657.0 L858.0 657.7 L859.4 658.3 L860.9 659.0 L862.4 659.6 L863.8 660.3 L865.3 660.9 L866.8 661.6 L868.2 662.2 L869.7 662.9 L871.1 663.6 L872.6 664.3 L874.0 664.9 L875.5 665.6 L876.9 666.3 L878.3 667.0 L879.7 667.7 L881.2 668.4 L882.6 669.1 L884.0 669.8 L885.4 670.5 L886.8 671.3 L888.2 672.0 L889.6 672.7 L891.0 673.4 L892.4 674.2 L893.8 674.9 L895.1 675.6 L896.5 676.4 L897.9 677.1 L899.3 677.9 L900.7 678.6 L902.0 679.4 L903.4 680.1 L904.8 680.9 L906.1 681.6 L907.5 682.4 L908.9 683.1 L910.2 683.9 L911.6 684.6 L913.0 685.4 L914.3 686.2 L915.7 686.9 L917.1 687.7 L918.4 688.4 L919.8 689.2 L921.2 689.9 L922.5 690.7 L923.9 691.4 L925.3 692.2 L926.6 692.9 L928.0 693.7 L929.4 694.4 L930.8 695.2 L932.1 695.9 L933.5 696.6 L934.9 697.4 L936.3 698.1 L937.7 698.8 L939.1 699.6 L940.5 700.3 L941.9 701.0 L943.3 701.7 L944.7 702.4 L946.2 703.1 L947.6 703.8 L949.0 704.5 L950.4 705.2 L951.9 705.9 L953.3 706.5 L954.8 707.2 L956.2 707.9 L957.7 708.5 L959.2 709.2 L960.6 709.8 L962.1 710.5 L963.6 711.1 L965.1 711.7 L966.6 712.3 L968.1 713.0 L969.7 713.6 L971.2 714.2 L972.7 714.7 L974.3 715.3 L975.8 715.9 L977.4 716.5 L978.9 717.0 L980.5 717.6 L982.1 718.1 L983.7 718.7 L985.2 719.2 L986.8 719.7 L988.4 720.2 L990.1 720.7 L991.7 721.2 L993.3 721.7 L994.9 722.2 L996.6 722.7 L998.2 723.2 L999.8 723.7 L1001.5 724.1 L1003.2 724.6 L1004.8 725.1 L1006.5 725.5 L1008.2 726.0 L1009.9 726.4 L1011.5 726.8 L1013.2 727.3 L1014.9 727.7 L1016.6 728.1 L1018.4 728.5 L1020.1 728.9 L1021.8 729.3 L1023.5 729.7 L1025.3 730.1 L1027.0 730.5 L1028.7 730.8 L1030.5 731.2 L1032.2 731.6 L1034.0 732.0 L1035.8 732.3 L1037.5 732.7 L1039.3 733.0 L1041.1 733.4 L1042.9 733.7 L1044.6 734.0 L1046.4 734.4 L1048.2 734.7 L1050.0 735.0 L1051.8 735.3 L1053.6 735.6 L1055.5 735.9 L1057.3 736.2 L1059.1 736.5 L1060.9 736.8 L1062.8 737.1 L1064.6 737.4 L1066.4 737.7 L1068.3 738.0 L1070.1 738.3 L1072.0 738.5 L1073.8 738.8 L1075.7 739.1 L1077.2 739.3 L1078.6 739.5 L1080.1 739.7 L1081.6 739.9 L1083.1 740.1 L1084.6 740.3 L1086.1 740.5 L1087.6 740.7 L1089.1 740.9 L1090.6 741.1 L1092.1 741.3 L1093.7 741.4 L1095.2 741.6 L1096.7 741.8 L1098.2 742.0 L1099.7 742.2 L1101.2 742.4 L1102.8 742.5 L1104.3 742.7 L1105.8 742.9 L1107.3 743.0 L1108.9 743.2 L1110.4 743.4 L1111.9 743.6 L1113.4 743.7 L1115.0 743.9 L1116.5 744.0 L1118.0 744.2 L1119.6 744.4 L1121.1 744.5 L1122.7 744.7 L1124.2 744.8 L1125.8 745.0 L1127.3 745.1 L1128.8 745.3 L1130.4 745.4 L1131.9 745.6 L1133.5 745.7 L1135.0 745.9 L1136.6 746.0 L1138.1 746.2 L1139.7 746.3 L1141.2 746.5 L1142.8 746.6 L1144.4 746.7 L1145.9 746.9 L1147.5 747.0 L1149.0 747.2 L1150.6 747.3 L1152.1 747.4 L1153.7 747.6 L1155.3 747.7 L1156.8 747.9 L1158.4 748.0 L1160.0 748.1 L1161.5 748.3 L1163.1 748.4 L1164.6 748.5 L1166.2 748.7 L1167.8 748.8 L1169.3 748.9 L1170.9 749.0 L1172.5 749.2 L1174.0 749.3 L1175.6 749.4 L1177.2 749.6 L1178.7 749.7 L1180.3 749.8 L1181.9 750.0 L1183.4 750.1 L1185.0 750.2 L1186.6 750.3 L1188.1 750.5 L1189.7 750.6 L1191.3 750.7 L1193.0 750.9 L1194.8 751.0 L1196.6 751.2 L1198.1 751.3 L1199.1 751.4 L1199.5 751.4 L1199.9 751.4" stroke="#F5087A"/>
<path d="M178.5 188.0 L180.0 188.0 L181.6 188.0 L183.2 188.0 L184.8 188.0 L186.3 188.0 L187.9 188.0 L189.5 188.0 L191.1 188.1 L192.6 188.1 L194.1 188.1 L195.6 188.1 L197.1 188.1 L198.6 188.2 L200.0 188.2 L201.6 188.2 L203.3 188.3 L204.9 188.3 L206.5 188.4 L208.0 188.5 L209.5 188.5 L211.0 188.6 L212.4 188.7 L213.7 188.9 L215.0 189.0 L217.0 189.3 L218.7 189.6 L220.4 190.0 L222.0 190.5 L223.6 191.0 L225.1 191.6 L226.5 192.2 L228.0 193.0 L229.2 193.8 L230.4 194.6 L231.6 195.6 L232.8 196.5 L234.0 197.5 L235.2 198.5 L236.4 199.6 L237.6 200.7 L238.8 201.9 L240.0 203.0 L241.2 204.2 L242.4 205.4 L243.6 206.6 L244.8 207.8 L246.0 209.0 L247.2 210.2 L248.4 211.3 L249.6 212.5 L250.8 213.7 L252.0 215.0 L253.0 216.2 L254.1 217.5 L255.1 218.8 L256.1 220.2 L257.1 221.6 L258.0 223.0 L258.9 224.4 L259.8 225.9 L260.6 227.4 L261.4 228.9 L262.2 230.4 L263.0 232.0 L263.7 233.3 L264.3 234.7 L265.0 236.2 L265.6 237.6 L266.2 239.1 L266.9 240.5 L267.4 241.8 L268.0 243.0 L268.7 244.6 L269.4 246.0 L270.1 247.4 L270.7 248.8 L271.4 250.2 L272.1 251.7 L272.7 253.1 L273.3 254.6 L274.0 256.1 L274.6 257.6 L275.3 259.1 L275.9 260.5 L276.5 262.0 L277.2 263.5 L277.8 265.0 L278.4 266.5 L279.0 268.0 L279.7 269.5 L280.3 271.0 L280.9 272.5 L281.5 274.0 L282.1 275.6 L282.7 277.1 L283.3 278.6 L283.9 280.1 L284.5 281.6 L285.1 283.2 L285.7 284.7 L286.3 286.2 L286.9 287.8 L287.4 289.3 L288.0 290.9 L288.6 292.4 L289.2 293.9 L289.8 295.5 L290.3 297.0 L290.9 298.6 L291.5 300.2 L292.0 301.7 L292.6 303.3 L293.1 304.8 L293.7 306.4 L294.3 308.0 L294.8 309.5 L295.4 311.1 L295.9 312.7 L296.5 314.2 L297.0 315.8 L297.6 317.4 L298.1 319.0 L298.7 320.5 L299.2 322.1 L299.7 323.7 L300.3 325.3 L300.8 326.9 L301.4 328.4 L301.9 330.0 L302.4 331.6 L303.0 333.2 L303.5 334.8 L304.0 336.4 L304.5 338.0 L305.1 339.6 L305.6 341.2 L306.1 342.8 L306.7 344.4 L307.2 345.9 L307.7 347.5 L308.2 349.1 L308.7 350.7 L309.3 352.3 L309.8 353.9 L310.3 355.5 L310.8 357.1 L311.4 358.7 L311.9 360.4 L312.4 362.0 L312.9 363.6 L313.4 365.2 L313.9 366.8 L314.5 368.4 L315.0 370.0 L315.5 371.6 L316.0 373.2 L316.5 374.8 L317.0 376.4 L317.6 378.0 L318.1 379.6 L318.6 381.2 L319.1 382.8 L319.6 384.4 L320.1 386.0 L320.7 387.6 L321.2 389.2 L321.7 390.8 L322.2 392.4 L322.7 394.0 L323.2 395.6 L323.8 397.2 L324.3 398.8 L324.8 400.4 L325.3 402.0 L325.8 403.6 L326.4 405.2 L326.9 406.8 L327.4 408.4 L327.9 410.0 L328.5 411.6 L329.0 413.2 L329.5 414.8 L330.0 416.4 L330.6 418.0 L331.1 419.6 L331.6 421.2 L332.2 422.8 L332.7 424.4 L333.2 426.0 L333.8 427.5 L334.3 429.1 L334.8 430.7 L335.4 432.3 L335.9 433.9 L336.5 435.4 L337.0 437.0 L337.6 438.6 L338.1 440.2 L338.7 441.7 L339.2 443.3 L339.8 444.9 L340.3 446.5 L340.9 448.0 L341.4 449.6 L342.0 451.1 L342.6 452.7 L343.1 454.3 L343.7 455.8 L344.2 457.4 L344.8 458.9 L345.4 460.5 L346.0 462.0 L346.5 463.6 L347.1 465.1 L347.7 466.7 L348.3 468.2 L348.9 469.7 L349.5 471.3 L350.0 472.8 L350.6 474.3 L351.2 475.8 L351.8 477.4 L352.4 478.9 L353.0 480.4 L353.6 481.9 L354.2 483.4 L354.9 484.9 L355.5 486.5 L356.1 488.0 L356.7 489.5 L357.3 491.0 L358.0 492.5 L358.6 493.9 L359.2 495.4 L359.8 496.9 L360.5 498.4 L361.1 499.9 L361.8 501.4 L362.4 502.8 L363.1 504.3 L363.7 505.8 L364.4 507.2 L365.0 508.7 L365.7 510.2 L366.4 511.6 L367.0 513.1 L367.7 514.5 L368.4 516.0 L369.1 517.4 L369.8 518.8 L370.5 520.3 L371.2 521.7 L371.9 523.1 L372.6 524.5 L373.3 525.9 L374.0 527.4 L374.7 528.8 L375.4 530.2 L376.1 531.6 L376.8 533.0 L377.6 534.4 L378.3 535.7 L379.0 537.1 L379.8 538.5 L380.5 539.9 L381.3 541.2 L382.0 542.6 L382.8 544.0 L383.6 545.3 L384.3 546.7 L385.1 548.0 L385.9 549.4 L386.7 550.7 L387.5 552.0 L388.3 553.4 L389.1 554.7 L389.9 556.0 L390.7 557.3 L391.5 558.6 L392.3 559.9 L393.1 561.2 L393.9 562.5 L394.8 563.8 L395.6 565.1 L396.4 566.4 L397.3 567.7 L398.1 569.0 L399.0 570.2 L399.8 571.5 L400.7 572.7 L401.6 574.0 L402.4 575.3 L403.3 576.5 L404.2 577.7 L405.1 579.0 L406.0 580.2 L406.9 581.4 L407.8 582.6 L408.7 583.9 L409.6 585.1 L410.5 586.3 L411.4 587.5 L412.3 588.7 L413.3 589.9 L414.2 591.1 L415.1 592.2 L416.1 593.4 L417.0 594.6 L418.0 595.8 L418.9 596.9 L419.9 598.1 L420.9 599.2 L421.8 600.4 L422.8 601.5 L423.8 602.7 L424.8 603.8 L425.8 604.9 L426.8 606.1 L427.8 607.2 L428.8 608.3 L429.8 609.4 L430.8 610.5 L431.8 611.6 L432.9 612.7 L433.9 613.8 L434.9 614.9 L436.0 616.0 L437.0 617.0 L438.1 618.1 L439.1 619.2 L440.2 620.2 L441.2 621.3 L442.3 622.3 L443.4 623.4 L444.5 624.4 L445.6 625.5 L446.6 626.5 L447.7 627.5 L448.8 628.6 L449.9 629.6 L451.1 630.6 L452.2 631.6 L453.3 632.6 L454.4 633.6 L455.5 634.6 L456.7 635.6 L457.8 636.5 L459.0 637.5 L460.1 638.5 L461.3 639.5 L462.4 640.4 L463.6 641.4 L464.8 642.3 L465.9 643.3 L467.1 644.2 L468.3 645.2 L469.5 646.1 L470.7 647.0 L471.9 647.9 L473.1 648.9 L474.3 649.8 L475.5 650.7 L476.7 651.6 L478.0 652.5 L479.2 653.4 L480.4 654.3 L481.7 655.1 L482.9 656.0 L484.2 656.9 L485.4 657.7 L486.7 658.6 L487.9 659.5 L489.2 660.3 L490.5 661.2 L491.8 662.0 L493.0 662.8 L494.3 663.7 L495.6 664.5 L496.9 665.3 L498.2 666.1 L499.6 666.9 L500.9 667.7 L502.2 668.5 L503.5 669.3 L504.8 670.1 L506.2 670.9 L507.5 671.7 L508.9 672.5 L510.2 673.2 L511.6 674.0 L512.9 674.8 L514.3 675.5 L515.7 676.3 L517.0 677.0 L518.4 677.8 L519.8 678.5 L521.2 679.2 L522.6 680.0 L524.0 680.7 L525.4 681.4 L526.8 682.1 L528.2 682.9 L529.6 683.6 L531.0 684.3 L532.4 685.0 L533.9 685.7 L535.3 686.3 L536.7 687.0 L538.2 687.7 L539.6 688.4 L541.1 689.1 L542.5 689.7 L544.0 690.4 L545.4 691.0 L546.9 691.7 L548.4 692.4 L549.9 693.0 L551.3 693.6 L552.8 694.3 L554.3 694.9 L555.8 695.5 L557.3 696.2 L558.8 696.8 L560.3 697.4 L561.8 698.0 L563.3 698.6 L564.8 699.2 L566.3 699.9 L567.9 700.5 L569.4 701.0 L570.9 701.6 L572.5 702.2 L574.0 702.8 L575.5 703.4 L577.1 704.0 L578.6 704.5 L580.2 705.1 L581.7 705.7 L583.3 706.2 L584.9 706.8 L586.4 707.3 L588.0 707.9 L589.6 708.4 L591.2 709.0 L592.7 709.5 L594.3 710.1 L595.9 710.6 L597.5 711.1 L599.1 711.6 L600.7 712.2 L602.3 712.7 L603.9 713.2 L605.5 713.7 L607.1 714.2 L608.7 714.7 L610.4 715.2 L612.0 715.7 L613.6 716.2 L615.2 716.7 L616.9 717.2 L618.5 717.7 L620.2 718.2 L621.8 718.6 L623.4 719.1 L625.1 719.6 L626.7 720.1 L628.4 720.5 L630.1 721.0 L631.7 721.4 L633.4 721.9 L635.1 722.4 L636.7 722.8 L638.4 723.3 L640.1 723.7 L641.8 724.1 L643.4 724.6 L645.1 725.0 L646.8 725.5 L648.5 725.9 L650.2 726.3 L651.9 726.7 L653.6 727.2 L655.3 727.6 L657.0 728.0 L658.7 728.4 L660.4 728.8 L662.1 729.2 L663.8 729.6 L665.6 730.0 L667.3 730.4 L669.0 730.8 L670.7 731.2 L672.5 731.6 L674.2 732.0 L675.9 732.4 L677.7 732.8 L679.4 733.2 L681.1 733.5 L682.9 733.9 L684.6 734.3 L686.4 734.7 L688.1 735.0 L689.9 735.4 L691.7 735.8 L693.4 736.1 L695.2 736.5 L697.0 736.8 L698.7 737.2 L700.5 737.5 L702.3 737.9 L704.0 738.2 L705.8 738.6 L707.6 738.9 L709.4 739.2 L711.2 739.6 L713.0 739.9 L714.7 740.2 L716.5 740.6 L718.3 740.9 L720.1 741.2 L721.9 741.5 L723.7 741.9 L725.5 742.2 L727.4 742.5 L729.2 742.8 L731.0 743.1 L732.8 743.4 L734.6 743.7 L736.4 744.0 L738.2 744.3 L740.1 744.6 L741.9 744.9 L743.7 745.2 L745.6 745.5 L747.4 745.8 L749.2 746.1 L751.1 746.4 L752.9 746.6 L754.7 746.9 L756.6 747.2 L758.4 747.5 L760.3 747.8 L762.1 748.0 L764.0 748.3 L765.5 748.5 L766.9 748.7 L768.4 748.9 L769.9 749.1 L771.4 749.4 L772.9 749.6 L774.4 749.8 L775.9 750.0 L777.4 750.2 L778.9 750.4 L780.3 750.6 L781.8 750.8 L783.3 751.0 L784.8 751.2 L786.3 751.4 L787.8 751.6 L789.3 751.8 L790.9 752.0 L792.4 752.2 L793.9 752.3 L795.4 752.5 L796.9 752.7 L798.4 752.9 L799.9 753.1 L801.4 753.3 L802.9 753.5 L804.4 753.6 L806.0 753.8 L807.5 754.0 L809.0 754.2 L810.5 754.4 L812.0 754.5 L813.6 754.7 L815.1 754.9 L816.6 755.1 L818.1 755.2 L819.7 755.4 L821.2 755.6 L822.7 755.7 L824.2 755.9 L825.8 756.1 L827.3 756.2 L828.8 756.4 L830.4 756.6 L831.9 756.7 L833.4 756.9 L835.0 757.1 L836.5 757.2 L838.0 757.4 L839.6 757.5 L841.1 757.7 L842.7 757.8 L844.2 758.0 L845.8 758.2 L847.3 758.3 L848.8 758.5 L850.4 758.6 L851.9 758.8 L853.5 758.9 L855.0 759.1 L856.6 759.2 L858.1 759.3 L859.7 759.5 L861.2 759.6 L862.8 759.8 L864.4 759.9 L865.9 760.1 L867.5 760.2 L869.0 760.3 L870.6 760.5 L872.1 760.6 L873.7 760.8 L875.3 760.9 L876.8 761.0 L878.4 761.2 L880.0 761.3 L881.5 761.4 L883.1 761.6 L884.6 761.7 L886.2 761.8 L887.8 761.9 L889.4 762.1 L890.9 762.2 L892.5 762.3 L894.1 762.5 L895.6 762.6 L897.2 762.7 L898.8 762.8 L900.4 762.9 L901.9 763.1 L903.5 763.2 L905.1 763.3 L906.7 763.4 L908.2 763.5 L909.8 763.7 L911.4 763.8 L913.0 763.9 L914.6 764.0 L916.1 764.1 L917.7 764.2 L919.3 764.4 L920.9 764.5 L922.5 764.6 L924.1 764.7 L925.6 764.8 L927.2 764.9 L928.8 765.0 L930.4 765.1 L932.0 765.2 L933.6 765.4 L935.2 765.5 L936.8 765.6 L938.4 765.7 L939.9 765.8 L941.5 765.9 L943.1 766.0 L944.7 766.1 L946.3 766.2 L947.9 766.3 L949.5 766.4 L951.1 766.5 L952.7 766.6 L954.3 766.7 L955.9 766.8 L957.5 766.9 L959.1 767.0 L960.7 767.1 L962.3 767.2 L963.9 767.3 L965.5 767.4 L967.1 767.5 L968.7 767.6 L970.3 767.7 L971.9 767.8 L973.5 767.9 L975.1 768.0 L976.7 768.1 L978.3 768.2 L979.9 768.2 L981.5 768.3 L983.1 768.4 L984.7 768.5 L986.3 768.6 L987.9 768.7 L989.5 768.8 L991.2 768.9 L992.8 769.0 L994.4 769.1 L996.0 769.1 L997.6 769.2 L999.2 769.3 L1000.8 769.4 L1002.4 769.5 L1004.0 769.6 L1005.6 769.7 L1007.3 769.7 L1008.9 769.8 L1010.5 769.9 L1012.1 770.0 L1013.7 770.1 L1015.3 770.2 L1016.9 770.3 L1018.5 770.3 L1020.2 770.4 L1021.8 770.5 L1023.4 770.6 L1025.0 770.7 L1026.6 770.8 L1028.2 770.8 L1029.8 770.9 L1031.5 771.0 L1033.1 771.1 L1034.7 771.2 L1036.3 771.2 L1037.9 771.3 L1039.5 771.4 L1041.2 771.5 L1042.8 771.6 L1044.4 771.6 L1046.0 771.7 L1047.6 771.8 L1049.3 771.9 L1050.9 772.0 L1052.5 772.0 L1054.1 772.1 L1055.7 772.2 L1057.3 772.3 L1059.0 772.3 L1060.6 772.4 L1062.2 772.5 L1063.8 772.6 L1065.4 772.7 L1067.1 772.7 L1068.7 772.8 L1070.3 772.9 L1071.9 773.0 L1073.5 773.0 L1075.2 773.1 L1076.8 773.2 L1078.4 773.3 L1080.0 773.3 L1081.6 773.4 L1083.3 773.5 L1084.9 773.6 L1086.5 773.6 L1088.1 773.7 L1089.8 773.8 L1091.4 773.9 L1093.0 774.0 L1094.6 774.0 L1096.2 774.1 L1097.9 774.2 L1099.5 774.3 L1101.1 774.3 L1102.7 774.4 L1104.3 774.5 L1106.0 774.6 L1107.6 774.6 L1109.2 774.7 L1110.8 774.8 L1112.4 774.9 L1114.1 774.9 L1115.7 775.0 L1117.3 775.1 L1118.9 775.2 L1120.5 775.3 L1122.2 775.3 L1123.8 775.4 L1125.4 775.5 L1127.0 775.6 L1128.6 775.6 L1130.3 775.7 L1131.9 775.8 L1133.5 775.9 L1135.1 776.0 L1136.7 776.0 L1138.4 776.1 L1140.0 776.2 L1141.6 776.3 L1143.2 776.3 L1144.8 776.4 L1146.4 776.5 L1148.1 776.6 L1149.7 776.7 L1151.3 776.7 L1152.9 776.8 L1154.5 776.9 L1156.2 777.0 L1157.8 777.1 L1159.4 777.1 L1161.0 777.2 L1162.6 777.3 L1164.2 777.4 L1165.8 777.5 L1167.5 777.6 L1169.1 777.6 L1170.7 777.7 L1172.3 777.8 L1173.9 777.9 L1175.5 778.0 L1177.1 778.1 L1178.8 778.1 L1180.4 778.2 L1182.0 778.3 L1183.6 778.4 L1185.2 778.5 L1186.8 778.6 L1188.4 778.7 L1190.0 778.7 L1191.6 778.8 L1193.2 778.9 L1194.7 779.0 L1196.2 779.1 L1197.7 779.2 L1199.3 779.2" stroke="#999999"/>
<path d="M178.5 187.0 L180.0 187.1 L181.6 187.1 L183.1 187.2 L184.7 187.3 L186.3 187.4 L187.8 187.4 L189.4 187.5 L191.0 187.6 L192.6 187.7 L194.3 187.7 L195.9 187.8 L197.5 187.9 L199.1 188.0 L200.8 188.0 L202.4 188.1 L204.0 188.2 L205.6 188.2 L207.3 188.3 L208.9 188.4 L210.5 188.5 L212.1 188.5 L213.8 188.6 L215.4 188.7 L217.0 188.8 L218.6 188.8 L220.1 188.9 L221.7 189.0 L223.3 189.1 L224.8 189.1 L226.4 189.2 L227.9 189.3 L229.4 189.4 L231.0 189.4 L232.4 189.5 L233.9 189.6 L235.4 189.7 L236.8 189.7 L238.2 189.8 L239.6 189.9 L241.0 190.0 L242.4 190.0 L243.7 190.1 L245.0 190.2 L246.3 190.3 L247.6 190.3 L248.8 190.4 L250.0 190.5 L251.8 190.6 L253.6 190.7 L255.3 190.8 L257.0 190.9 L258.7 191.0 L260.4 191.2 L262.0 191.3 L263.6 191.4 L265.1 191.5 L266.7 191.6 L268.2 191.7 L269.6 191.8 L271.0 191.9 L272.4 192.0 L273.8 192.2 L275.1 192.3 L276.4 192.5 L277.6 192.6 L278.8 192.8 L280.0 193.0 L281.8 193.3 L283.5 193.6 L285.1 193.9 L286.5 194.2 L288.0 194.6 L289.4 195.0 L290.7 195.5 L292.0 196.0 L293.5 196.7 L294.9 197.5 L296.3 198.4 L297.6 199.4 L298.8 200.4 L300.0 201.5 L301.1 202.7 L302.2 204.1 L303.2 205.5 L304.2 206.9 L305.1 208.5 L306.0 210.0 L306.7 211.3 L307.4 212.7 L308.1 214.1 L308.7 215.6 L309.4 217.0 L310.0 218.4 L310.5 219.7 L311.0 221.0 L311.6 222.7 L312.1 224.3 L312.6 225.8 L313.1 227.4 L313.7 228.9 L314.3 230.4 L314.9 232.0 L315.4 233.5 L316.0 235.1 L316.5 236.7 L317.1 238.3 L317.6 239.8 L318.1 241.4 L318.7 243.1 L319.2 244.7 L319.7 246.3 L320.2 247.9 L320.6 249.5 L321.1 251.2 L321.6 252.8 L322.1 254.5 L322.5 256.2 L323.0 257.8 L323.4 259.5 L323.9 261.2 L324.3 262.9 L324.7 264.6 L325.1 266.3 L325.6 268.0 L326.0 269.7 L326.4 271.4 L326.8 273.1 L327.2 274.8 L327.6 276.6 L328.0 278.3 L328.3 280.0 L328.7 281.8 L329.1 283.5 L329.4 285.3 L329.8 287.0 L330.2 288.8 L330.5 290.6 L330.9 292.3 L331.2 294.1 L331.6 295.9 L331.9 297.7 L332.2 299.5 L332.6 301.2 L332.9 303.0 L333.2 304.8 L333.6 306.6 L333.9 308.4 L334.2 310.2 L334.5 312.0 L334.8 313.8 L335.2 315.6 L335.5 317.5 L335.8 319.3 L336.1 321.1 L336.4 322.9 L336.7 324.7 L337.0 326.5 L337.3 328.3 L337.6 330.2 L337.9 332.0 L338.2 333.8 L338.5 335.6 L338.8 337.5 L339.1 339.3 L339.4 341.1 L339.7 342.9 L340.0 344.8 L340.3 346.6 L340.6 348.4 L340.9 350.2 L341.2 352.0 L341.5 353.9 L341.8 355.7 L342.1 357.5 L342.4 359.3 L342.7 361.1 L343.0 363.0 L343.3 364.8 L343.6 366.6 L343.9 368.4 L344.2 370.2 L344.5 372.0 L344.8 373.9 L345.1 375.7 L345.4 377.5 L345.7 379.3 L346.1 381.1 L346.4 382.9 L346.7 384.7 L347.0 386.5 L347.3 388.3 L347.7 390.1 L348.0 391.9 L348.3 393.7 L348.6 395.5 L349.0 397.3 L349.3 399.1 L349.6 400.9 L350.0 402.7 L350.3 404.5 L350.6 406.2 L351.0 408.0 L351.3 409.8 L351.7 411.6 L352.0 413.3 L352.3 415.1 L352.7 416.9 L353.1 418.7 L353.4 420.4 L353.8 422.2 L354.1 423.9 L354.5 425.7 L354.9 427.5 L355.2 429.2 L355.6 431.0 L356.0 432.7 L356.4 434.4 L356.7 436.2 L357.1 437.9 L357.5 439.7 L357.9 441.4 L358.3 443.1 L358.7 444.8 L359.1 446.6 L359.5 448.3 L359.9 450.0 L360.3 451.7 L360.7 453.4 L361.1 455.1 L361.6 456.8 L362.0 458.5 L362.4 460.2 L362.8 461.9 L363.3 463.6 L363.7 465.3 L364.2 466.9 L364.6 468.6 L365.1 470.3 L365.5 471.9 L366.0 473.6 L366.4 475.3 L366.9 476.9 L367.4 478.6 L367.9 480.2 L368.3 481.9 L368.8 483.5 L369.3 485.1 L369.8 486.7 L370.3 488.4 L370.8 490.0 L371.3 491.6 L371.8 493.2 L372.4 494.8 L372.9 496.4 L373.4 498.0 L373.9 499.6 L374.5 501.2 L375.0 502.8 L375.6 504.3 L376.1 505.9 L376.7 507.5 L377.2 509.0 L377.8 510.6 L378.4 512.1 L379.0 513.7 L379.5 515.2 L380.1 516.7 L380.7 518.3 L381.3 519.8 L381.9 521.3 L382.6 522.8 L383.2 524.3 L383.8 525.8 L384.4 527.3 L385.1 528.8 L385.7 530.3 L386.3 531.7 L387.0 533.2 L387.7 534.7 L388.3 536.1 L389.0 537.6 L389.7 539.0 L390.4 540.4 L391.1 541.9 L391.8 543.3 L392.5 544.7 L393.2 546.1 L393.9 547.5 L394.6 548.9 L395.3 550.3 L396.1 551.7 L396.8 553.1 L397.6 554.4 L398.3 555.8 L399.1 557.2 L399.9 558.5 L400.7 559.9 L401.4 561.2 L402.2 562.5 L403.0 563.8 L403.8 565.2 L404.6 566.5 L405.5 567.8 L406.3 569.1 L407.1 570.4 L407.9 571.7 L408.8 572.9 L409.6 574.2 L410.5 575.5 L411.4 576.7 L412.2 578.0 L413.1 579.2 L414.0 580.5 L414.9 581.7 L415.8 582.9 L416.7 584.2 L417.6 585.4 L418.5 586.6 L419.4 587.8 L420.3 589.0 L421.2 590.2 L422.2 591.4 L423.1 592.5 L424.1 593.7 L425.0 594.9 L426.0 596.0 L426.9 597.2 L427.9 598.4 L428.9 599.5 L429.9 600.6 L430.9 601.8 L431.9 602.9 L432.9 604.0 L433.9 605.1 L434.9 606.2 L435.9 607.3 L436.9 608.4 L437.9 609.5 L439.0 610.6 L440.0 611.7 L441.1 612.8 L442.1 613.8 L443.2 614.9 L444.2 616.0 L445.3 617.0 L446.4 618.1 L447.5 619.1 L448.6 620.1 L449.6 621.2 L450.7 622.2 L451.8 623.2 L453.0 624.2 L454.1 625.2 L455.2 626.2 L456.3 627.2 L457.4 628.2 L458.6 629.2 L459.7 630.2 L460.9 631.2 L462.0 632.1 L463.2 633.1 L464.3 634.1 L465.5 635.0 L466.7 636.0 L467.8 636.9 L469.0 637.9 L470.2 638.8 L471.4 639.7 L472.6 640.6 L473.8 641.6 L475.0 642.5 L476.2 643.4 L477.4 644.3 L478.7 645.2 L479.9 646.1 L481.1 647.0 L482.4 647.9 L483.6 648.7 L484.8 649.6 L486.1 650.5 L487.3 651.4 L488.6 652.2 L489.9 653.1 L491.1 653.9 L492.4 654.8 L493.7 655.6 L495.0 656.4 L496.3 657.3 L497.6 658.1 L498.9 658.9 L500.2 659.7 L501.5 660.6 L502.8 661.4 L504.1 662.2 L505.4 663.0 L506.8 663.8 L508.1 664.5 L509.4 665.3 L510.8 666.1 L512.1 666.9 L513.5 667.7 L514.8 668.4 L516.2 669.2 L517.5 670.0 L518.9 670.7 L520.3 671.5 L521.6 672.2 L523.0 672.9 L524.4 673.7 L525.8 674.4 L527.2 675.1 L528.6 675.9 L530.0 676.6 L531.4 677.3 L532.8 678.0 L534.2 678.7 L535.6 679.4 L537.1 680.1 L538.5 680.8 L539.9 681.5 L541.3 682.2 L542.8 682.9 L544.2 683.6 L545.7 684.3 L547.1 684.9 L548.6 685.6 L550.0 686.3 L551.5 686.9 L552.9 687.6 L554.4 688.2 L555.9 688.9 L557.4 689.5 L558.8 690.2 L560.3 690.8 L561.8 691.4 L563.3 692.1 L564.8 692.7 L566.3 693.3 L567.8 693.9 L569.3 694.6 L570.8 695.2 L572.3 695.8 L573.8 696.4 L575.4 697.0 L576.9 697.6 L578.4 698.2 L579.9 698.8 L581.5 699.4 L583.0 699.9 L584.6 700.5 L586.1 701.1 L587.6 701.7 L589.2 702.2 L590.8 702.8 L592.3 703.4 L593.9 703.9 L595.4 704.5 L597.0 705.0 L598.6 705.6 L600.1 706.1 L601.7 706.7 L603.3 707.2 L604.9 707.8 L606.5 708.3 L608.1 708.8 L609.7 709.4 L611.2 709.9 L612.8 710.4 L614.5 710.9 L616.1 711.4 L617.7 712.0 L619.3 712.5 L620.9 713.0 L622.5 713.5 L624.1 714.0 L625.7 714.5 L627.4 715.0 L629.0 715.5 L630.6 716.0 L632.3 716.4 L633.9 716.9 L635.5 717.4 L637.2 717.9 L638.8 718.4 L640.5 718.8 L642.1 719.3 L643.8 719.8 L645.4 720.3 L647.1 720.7 L648.7 721.2 L650.4 721.6 L652.1 722.1 L653.7 722.5 L655.4 723.0 L657.1 723.4 L658.8 723.9 L660.4 724.3 L662.1 724.8 L663.8 725.2 L665.5 725.6 L667.2 726.1 L668.9 726.5 L670.6 726.9 L672.3 727.4 L674.0 727.8 L675.7 728.2 L677.4 728.6 L679.1 729.0 L680.8 729.4 L682.5 729.9 L684.2 730.3 L685.9 730.7 L687.6 731.1 L689.4 731.5 L691.1 731.9 L692.8 732.3 L694.5 732.7 L696.3 733.0 L698.0 733.4 L699.7 733.8 L701.5 734.2 L703.2 734.6 L705.0 735.0 L706.7 735.3 L708.5 735.7 L710.2 736.1 L712.0 736.4 L713.7 736.8 L715.5 737.2 L717.2 737.5 L719.0 737.9 L720.8 738.3 L722.5 738.6 L724.3 739.0 L726.1 739.3 L727.8 739.7 L729.6 740.0 L731.4 740.4 L733.2 740.7 L734.9 741.0 L736.7 741.4 L738.5 741.7 L740.3 742.0 L742.1 742.4 L743.9 742.7 L745.7 743.0 L747.5 743.4 L749.3 743.7 L751.1 744.0 L752.9 744.3 L754.7 744.6 L756.5 745.0 L758.3 745.3 L760.1 745.6 L761.9 745.9 L763.7 746.2 L765.6 746.5 L767.4 746.8 L769.2 747.1 L771.0 747.4 L772.9 747.7 L774.7 748.0 L776.5 748.3 L778.3 748.6 L780.2 748.8 L782.0 749.1 L783.8 749.4 L785.7 749.7 L787.5 750.0 L789.4 750.3 L791.2 750.5 L793.1 750.8 L794.9 751.1 L796.8 751.3 L798.6 751.6 L800.1 751.8 L801.6 752.0 L803.1 752.2 L804.6 752.5 L806.1 752.7 L807.5 752.9 L809.0 753.1 L810.5 753.3 L812.0 753.5 L813.5 753.7 L815.0 753.9 L816.5 754.1 L818.0 754.3 L819.5 754.5 L821.0 754.7 L822.5 754.9 L824.0 755.1 L825.5 755.3 L827.0 755.5 L828.5 755.6 L830.0 755.8 L831.5 756.0 L833.1 756.2 L834.6 756.4 L836.1 756.6 L837.6 756.8 L839.1 756.9 L840.6 757.1 L842.1 757.3 L843.7 757.5 L845.2 757.7 L846.7 757.8 L848.2 758.0 L849.7 758.2 L851.3 758.4 L852.8 758.5 L854.3 758.7 L855.8 758.9 L857.4 759.1 L858.9 759.2 L860.4 759.4 L862.0 759.6 L863.5 759.7 L865.0 759.9 L866.5 760.1 L868.1 760.2 L869.6 760.4 L871.2 760.5 L872.7 760.7 L874.2 760.9 L875.8 761.0 L877.3 761.2 L878.9 761.3 L880.4 761.5 L881.9 761.6 L883.5 761.8 L885.0 761.9 L886.6 762.1 L888.1 762.2 L889.7 762.4 L891.2 762.5 L892.8 762.7 L894.3 762.8 L895.9 763.0 L897.4 763.1 L899.0 763.3 L900.5 763.4 L902.1 763.5 L903.7 763.7 L905.2 763.8 L906.8 764.0 L908.3 764.1 L909.9 764.2 L911.4 764.4 L913.0 764.5 L914.6 764.6 L916.1 764.8 L917.7 764.9 L919.3 765.0 L920.8 765.2 L922.4 765.3 L924.0 765.4 L925.5 765.5 L927.1 765.7 L928.7 765.8 L930.3 765.9 L931.8 766.1 L933.4 766.2 L935.0 766.3 L936.6 766.4 L938.1 766.5 L939.7 766.7 L941.3 766.8 L942.9 766.9 L944.4 767.0 L946.0 767.1 L947.6 767.2 L949.2 767.4 L950.8 767.5 L952.3 767.6 L953.9 767.7 L955.5 767.8 L957.1 767.9 L958.7 768.0 L960.3 768.1 L961.9 768.3 L963.5 768.4 L965.0 768.5 L966.6 768.6 L968.2 768.7 L969.8 768.8 L971.4 768.9 L973.0 769.0 L974.6 769.1 L976.2 769.2 L977.8 769.3 L979.4 769.4 L981.0 769.5 L982.6 769.6 L984.2 769.7 L985.8 769.8 L987.4 769.9 L989.0 770.0 L990.6 770.1 L992.2 770.2 L993.8 770.3 L995.4 770.4 L997.0 770.5 L998.6 770.6 L1000.2 770.7 L1001.8 770.7 L1003.4 770.8 L1005.0 770.9 L1006.6 771.0 L1008.2 771.1 L1009.8 771.2 L1011.4 771.3 L1013.1 771.4 L1014.7 771.5 L1016.3 771.5 L1017.9 771.6 L1019.5 771.7 L1021.1 771.8 L1022.7 771.9 L1024.3 772.0 L1026.0 772.0 L1027.6 772.1 L1029.2 772.2 L1030.8 772.3 L1032.4 772.4 L1034.0 772.4 L1035.7 772.5 L1037.3 772.6 L1038.9 772.7 L1040.5 772.8 L1042.1 772.8 L1043.8 772.9 L1045.4 773.0 L1047.0 773.1 L1048.6 773.1 L1050.3 773.2 L1051.9 773.3 L1053.5 773.3 L1055.1 773.4 L1056.8 773.5 L1058.4 773.6 L1060.0 773.6 L1061.6 773.7 L1063.3 773.8 L1064.9 773.8 L1066.5 773.9 L1068.1 774.0 L1069.8 774.0 L1071.4 774.1 L1073.0 774.2 L1074.7 774.2 L1076.3 774.3 L1077.9 774.4 L1079.6 774.4 L1081.2 774.5 L1082.8 774.6 L1084.5 774.6 L1086.1 774.7 L1087.7 774.8 L1089.4 774.8 L1091.0 774.9 L1092.6 774.9 L1094.3 775.0 L1095.9 775.1 L1097.5 775.1 L1099.2 775.2 L1100.8 775.3 L1102.5 775.3 L1104.1 775.4 L1105.7 775.4 L1107.4 775.5 L1109.0 775.5 L1110.7 775.6 L1112.3 775.7 L1113.9 775.7 L1115.6 775.8 L1117.2 775.8 L1118.9 775.9 L1120.5 775.9 L1122.1 776.0 L1123.8 776.0 L1125.4 776.1 L1127.1 776.2 L1128.7 776.2 L1130.4 776.3 L1132.0 776.3 L1133.6 776.4 L1135.3 776.4 L1136.9 776.5 L1138.6 776.5 L1140.2 776.6 L1141.9 776.6 L1143.5 776.7 L1145.2 776.7 L1146.8 776.8 L1148.5 776.8 L1150.1 776.9 L1151.7 776.9 L1153.4 777.0 L1155.0 777.0 L1156.7 777.1 L1158.3 777.1 L1160.0 777.2 L1161.6 777.2 L1163.3 777.3 L1164.9 777.3 L1166.6 777.4 L1168.2 777.4 L1169.9 777.5 L1171.5 777.5 L1173.2 777.6 L1174.8 777.6 L1176.5 777.6 L1178.1 777.7 L1179.8 777.7 L1181.4 777.8 L1183.1 777.8 L1184.7 777.9 L1186.4 777.9 L1188.0 778.0 L1189.8 778.0 L1191.5 778.1 L1193.2 778.1 L1194.9 778.1 L1196.3 778.2 L1198.4 778.2 L1200.2 778.3" stroke="#EE88EE"/>
<path d="M178.5 186.5 L180.0 186.6 L181.6 186.6 L183.1 186.7 L184.7 186.8 L186.2 186.9 L187.8 186.9 L189.3 187.0 L190.9 187.1 L192.5 187.1 L194.1 187.2 L195.7 187.2 L197.3 187.3 L198.9 187.4 L200.4 187.4 L202.0 187.5 L203.6 187.6 L205.2 187.6 L206.8 187.7 L208.4 187.7 L210.0 187.8 L211.6 187.9 L213.2 187.9 L214.8 188.0 L216.3 188.1 L217.9 188.1 L219.5 188.2 L221.0 188.3 L222.6 188.3 L224.1 188.4 L225.7 188.5 L227.2 188.5 L228.7 188.6 L230.2 188.7 L231.7 188.8 L233.2 188.9 L234.7 188.9 L236.2 189.0 L237.6 189.1 L239.0 189.2 L240.5 189.3 L241.9 189.4 L243.3 189.5 L244.7 189.6 L246.0 189.7 L247.4 189.8 L248.7 189.9 L250.0 190.0 L251.8 190.2 L253.5 190.3 L255.3 190.5 L257.1 190.7 L258.8 190.9 L260.6 191.2 L262.3 191.4 L264.0 191.6 L265.8 191.8 L267.4 192.1 L269.1 192.3 L270.8 192.6 L272.4 192.8 L274.0 193.0 L275.6 193.2 L277.1 193.5 L278.6 193.7 L280.0 193.9 L281.5 194.1 L282.8 194.3 L284.2 194.4 L285.4 194.6 L286.7 194.7 L287.8 194.8 L288.9 194.9 L290.0 195.0 L292.1 195.1 L293.9 195.2 L295.6 195.2 L297.1 195.1 L298.6 195.1 L300.0 195.0 L301.6 194.8 L303.1 194.6 L304.5 194.4 L306.0 194.2 L307.5 194.1 L309.0 193.9 L310.5 193.8 L312.0 193.8 L313.7 193.8 L315.4 193.8 L317.0 194.0 L319.1 194.5 L321.0 195.2 L322.4 196.0 L323.7 196.9 L325.0 198.0 L326.1 199.1 L327.1 200.3 L328.0 201.6 L329.0 203.0 L329.8 204.2 L330.6 205.5 L331.4 206.8 L332.2 208.1 L333.0 209.5 L333.8 211.1 L334.7 212.7 L335.5 214.3 L336.3 216.0 L337.0 217.5 L337.7 219.0 L338.4 220.4 L339.1 221.9 L339.7 223.3 L340.3 224.8 L341.0 226.2 L341.6 227.7 L342.2 229.2 L342.8 230.8 L343.4 232.3 L344.0 233.8 L344.6 235.3 L345.2 236.9 L345.8 238.4 L346.3 240.0 L346.9 241.6 L347.4 243.2 L347.9 244.7 L348.5 246.3 L349.0 247.9 L349.5 249.5 L350.0 251.2 L350.5 252.8 L351.0 254.4 L351.5 256.0 L352.0 257.7 L352.5 259.3 L352.9 261.0 L353.4 262.6 L353.8 264.3 L354.3 266.0 L354.7 267.6 L355.2 269.3 L355.6 271.0 L356.1 272.7 L356.5 274.4 L356.9 276.1 L357.3 277.8 L357.7 279.5 L358.2 281.2 L358.6 282.9 L359.0 284.6 L359.4 286.4 L359.8 288.1 L360.2 289.8 L360.5 291.5 L360.9 293.3 L361.3 295.0 L361.7 296.7 L362.1 298.5 L362.5 300.2 L362.8 302.0 L363.2 303.7 L363.6 305.5 L364.0 307.2 L364.3 309.0 L364.7 310.7 L365.1 312.5 L365.5 314.2 L365.8 316.0 L366.2 317.7 L366.6 319.5 L366.9 321.2 L367.3 323.0 L367.7 324.7 L368.0 326.5 L368.4 328.2 L368.8 330.0 L369.1 331.7 L369.5 333.5 L369.9 335.2 L370.3 337.0 L370.6 338.7 L371.0 340.4 L371.4 342.2 L371.8 343.9 L372.2 345.7 L372.6 347.4 L373.0 349.1 L373.4 350.9 L373.7 352.6 L374.1 354.3 L374.6 356.0 L375.0 357.7 L375.4 359.4 L375.8 361.2 L376.2 362.9 L376.6 364.6 L377.0 366.3 L377.5 368.0 L377.9 369.7 L378.3 371.4 L378.7 373.0 L379.2 374.7 L379.6 376.4 L380.1 378.1 L380.5 379.8 L380.9 381.4 L381.4 383.1 L381.8 384.8 L382.3 386.5 L382.8 388.1 L383.2 389.8 L383.7 391.4 L384.1 393.1 L384.6 394.7 L385.1 396.4 L385.6 398.0 L386.0 399.7 L386.5 401.3 L387.0 403.0 L387.5 404.6 L388.0 406.2 L388.5 407.9 L389.0 409.5 L389.5 411.1 L390.0 412.7 L390.5 414.4 L391.0 416.0 L391.5 417.6 L392.0 419.2 L392.5 420.8 L393.0 422.4 L393.5 424.0 L394.0 425.6 L394.6 427.2 L395.1 428.8 L395.6 430.4 L396.1 432.0 L396.7 433.6 L397.2 435.2 L397.7 436.8 L398.3 438.3 L398.8 439.9 L399.4 441.5 L399.9 443.1 L400.5 444.6 L401.0 446.2 L401.6 447.8 L402.1 449.3 L402.7 450.9 L403.3 452.5 L403.8 454.0 L404.4 455.6 L405.0 457.1 L405.5 458.7 L406.1 460.2 L406.7 461.8 L407.3 463.3 L407.9 464.8 L408.4 466.4 L409.0 467.9 L409.6 469.4 L410.2 471.0 L410.8 472.5 L411.4 474.0 L412.0 475.5 L412.6 477.1 L413.2 478.6 L413.8 480.1 L414.4 481.6 L415.0 483.1 L415.7 484.6 L416.3 486.1 L416.9 487.6 L417.5 489.1 L418.1 490.6 L418.8 492.1 L419.4 493.6 L420.0 495.1 L420.7 496.6 L421.3 498.0 L422.0 499.5 L422.6 501.0 L423.3 502.4 L424.0 503.9 L424.6 505.4 L425.3 506.8 L426.0 508.3 L426.6 509.7 L427.3 511.1 L428.0 512.6 L428.7 514.0 L429.4 515.4 L430.1 516.9 L430.8 518.3 L431.5 519.7 L432.2 521.1 L432.9 522.5 L433.7 523.9 L434.4 525.3 L435.1 526.7 L435.9 528.1 L436.6 529.4 L437.3 530.8 L438.1 532.2 L438.9 533.5 L439.6 534.9 L440.4 536.2 L441.2 537.6 L442.0 538.9 L442.8 540.2 L443.6 541.6 L444.4 542.9 L445.2 544.2 L446.0 545.5 L446.8 546.8 L447.7 548.1 L448.5 549.4 L449.3 550.6 L450.2 551.9 L451.0 553.2 L451.9 554.4 L452.8 555.7 L453.7 556.9 L454.5 558.2 L455.4 559.4 L456.3 560.6 L457.2 561.8 L458.2 563.0 L459.1 564.2 L460.0 565.4 L461.0 566.6 L461.9 567.8 L462.9 568.9 L463.8 570.1 L464.8 571.2 L465.8 572.4 L466.8 573.5 L467.8 574.6 L468.8 575.8 L469.8 576.9 L470.8 578.0 L471.8 579.1 L472.9 580.1 L473.9 581.2 L475.0 582.3 L476.0 583.3 L477.1 584.4 L478.2 585.4 L479.3 586.4 L480.4 587.5 L481.5 588.5 L482.6 589.5 L483.8 590.5 L484.9 591.4 L486.1 592.4 L487.2 593.4 L488.4 594.3 L489.5 595.3 L490.7 596.2 L491.9 597.2 L493.1 598.1 L494.3 599.0 L495.5 599.9 L496.8 600.8 L498.0 601.7 L499.3 602.6 L500.5 603.4 L501.8 604.3 L503.0 605.1 L504.3 606.0 L505.6 606.8 L506.9 607.6 L508.2 608.4 L509.5 609.3 L510.8 610.1 L512.2 610.9 L513.5 611.7 L514.8 612.4 L516.2 613.2 L517.5 614.0 L518.8 614.8 L520.2 615.5 L521.6 616.3 L522.9 617.1 L524.3 617.8 L525.6 618.6 L527.0 619.4 L528.4 620.1 L529.7 620.9 L531.1 621.6 L532.4 622.4 L533.8 623.2 L535.2 623.9 L536.5 624.7 L537.9 625.5 L539.2 626.2 L540.6 627.0 L541.9 627.7 L543.3 628.5 L544.6 629.3 L546.0 630.1 L547.3 630.8 L548.7 631.6 L550.1 632.4 L551.4 633.1 L552.8 633.9 L554.1 634.7 L555.5 635.4 L556.8 636.2 L558.2 637.0 L559.5 637.7 L560.9 638.5 L562.2 639.3 L563.6 640.1 L564.9 640.8 L566.3 641.6 L567.6 642.4 L569.0 643.1 L570.3 643.9 L571.7 644.7 L573.0 645.4 L574.4 646.2 L575.8 647.0 L577.1 647.7 L578.5 648.5 L579.8 649.2 L581.2 650.0 L582.6 650.8 L583.9 651.5 L585.3 652.3 L586.7 653.0 L588.0 653.8 L589.4 654.5 L590.8 655.3 L592.1 656.0 L593.5 656.8 L594.9 657.5 L596.3 658.3 L597.6 659.0 L599.0 659.7 L600.4 660.5 L601.8 661.2 L603.2 662.0 L604.6 662.7 L606.0 663.4 L607.4 664.1 L608.8 664.9 L610.2 665.6 L611.6 666.3 L613.0 667.0 L614.4 667.7 L615.8 668.5 L617.2 669.2 L618.6 669.9 L620.0 670.6 L621.4 671.3 L622.9 672.0 L624.3 672.7 L625.7 673.4 L627.1 674.1 L628.6 674.7 L630.0 675.4 L631.5 676.1 L632.9 676.8 L634.4 677.5 L635.8 678.1 L637.3 678.8 L638.7 679.5 L640.2 680.1 L641.6 680.8 L643.1 681.4 L644.6 682.1 L646.1 682.7 L647.5 683.4 L649.0 684.0 L650.5 684.6 L652.0 685.3 L653.5 685.9 L655.0 686.5 L656.5 687.1 L658.0 687.7 L659.5 688.4 L661.0 689.0 L662.5 689.6 L664.1 690.2 L665.6 690.8 L667.1 691.4 L668.6 692.0 L670.2 692.5 L671.7 693.1 L673.3 693.7 L674.8 694.3 L676.4 694.9 L677.9 695.4 L679.5 696.0 L681.0 696.6 L682.6 697.1 L684.1 697.7 L685.7 698.2 L687.3 698.8 L688.9 699.3 L690.4 699.9 L692.0 700.4 L693.6 700.9 L695.2 701.5 L696.8 702.0 L698.4 702.5 L700.0 703.1 L701.6 703.6 L703.2 704.1 L704.8 704.6 L706.4 705.1 L708.0 705.6 L709.6 706.1 L711.2 706.6 L712.9 707.1 L714.5 707.6 L716.1 708.1 L717.8 708.6 L719.4 709.1 L721.0 709.6 L722.7 710.1 L724.3 710.5 L726.0 711.0 L727.6 711.5 L729.3 711.9 L730.9 712.4 L732.6 712.9 L734.3 713.3 L735.9 713.8 L737.6 714.2 L739.3 714.7 L740.9 715.1 L742.6 715.6 L744.3 716.0 L746.0 716.4 L747.7 716.9 L749.4 717.3 L751.1 717.7 L752.7 718.2 L754.4 718.6 L756.1 719.0 L757.9 719.4 L759.6 719.8 L761.3 720.2 L763.0 720.7 L764.7 721.1 L766.4 721.5 L768.1 721.9 L769.9 722.3 L771.6 722.7 L773.3 723.0 L775.1 723.4 L776.8 723.8 L778.5 724.2 L780.3 724.6 L782.0 725.0 L783.8 725.3 L785.5 725.7 L787.3 726.1 L789.0 726.4 L790.8 726.8 L792.5 727.2 L794.3 727.5 L796.1 727.9 L797.8 728.2 L799.6 728.6 L801.4 728.9 L803.1 729.3 L804.9 729.6 L806.7 730.0 L808.5 730.3 L810.3 730.6 L812.1 731.0 L813.8 731.3 L815.6 731.6 L817.4 732.0 L819.2 732.3 L821.0 732.6 L822.8 732.9 L824.6 733.2 L826.4 733.6 L828.3 733.9 L830.1 734.2 L831.9 734.5 L833.7 734.8 L835.5 735.1 L837.3 735.4 L839.2 735.7 L841.0 736.0 L842.8 736.3 L844.7 736.6 L846.5 736.9 L848.3 737.1 L850.2 737.4 L852.0 737.7 L853.8 738.0 L855.7 738.3 L857.5 738.5 L859.4 738.8 L861.2 739.1 L863.1 739.3 L865.0 739.6 L866.8 739.9 L868.3 740.1 L869.8 740.3 L871.3 740.5 L872.8 740.7 L874.3 740.9 L875.8 741.1 L877.3 741.3 L878.8 741.5 L880.3 741.7 L881.8 741.9 L883.3 742.1 L884.8 742.3 L886.3 742.5 L887.8 742.7 L889.3 742.9 L890.8 743.0 L892.3 743.2 L893.8 743.4 L895.3 743.6 L896.8 743.8 L898.3 744.0 L899.9 744.1 L901.4 744.3 L902.9 744.5 L904.4 744.7 L905.9 744.9 L907.5 745.0 L909.0 745.2 L910.5 745.4 L912.0 745.5 L913.6 745.7 L915.1 745.9 L916.6 746.1 L918.2 746.2 L919.7 746.4 L921.2 746.5 L922.8 746.7 L924.3 746.9 L925.8 747.0 L927.4 747.2 L928.9 747.3 L930.4 747.5 L932.0 747.7 L933.5 747.8 L935.1 748.0 L936.6 748.1 L938.2 748.3 L939.7 748.4 L941.3 748.6 L942.8 748.7 L944.4 748.9 L945.9 749.0 L947.5 749.2 L949.0 749.3 L950.6 749.4 L952.1 749.6 L953.7 749.7 L955.2 749.9 L956.8 750.0 L958.4 750.1 L959.9 750.3 L961.5 750.4 L963.1 750.5 L964.6 750.7 L966.2 750.8 L967.7 750.9 L969.3 751.1 L970.9 751.2 L972.5 751.3 L974.0 751.4 L975.6 751.6 L977.2 751.7 L978.7 751.8 L980.3 751.9 L981.9 752.1 L983.5 752.2 L985.0 752.3 L986.6 752.4 L988.2 752.5 L989.8 752.7 L991.4 752.8 L992.9 752.9 L994.5 753.0 L996.1 753.1 L997.7 753.2 L999.3 753.3 L1000.9 753.4 L1002.5 753.6 L1004.0 753.7 L1005.6 753.8 L1007.2 753.9 L1008.8 754.0 L1010.4 754.1 L1012.0 754.2 L1013.6 754.3 L1015.2 754.4 L1016.8 754.5 L1018.4 754.6 L1020.0 754.7 L1021.6 754.8 L1023.2 754.9 L1024.8 755.0 L1026.4 755.1 L1028.0 755.2 L1029.6 755.3 L1031.2 755.4 L1032.8 755.5 L1034.4 755.6 L1036.0 755.7 L1037.6 755.8 L1039.2 755.8 L1040.8 755.9 L1042.4 756.0 L1044.0 756.1 L1045.6 756.2 L1047.3 756.3 L1048.9 756.4 L1050.5 756.5 L1052.1 756.5 L1053.7 756.6 L1055.3 756.7 L1056.9 756.8 L1058.5 756.9 L1060.2 757.0 L1061.8 757.0 L1063.4 757.1 L1065.0 757.2 L1066.6 757.3 L1068.2 757.3 L1069.9 757.4 L1071.5 757.5 L1073.1 757.6 L1074.7 757.7 L1076.4 757.7 L1078.0 757.8 L1079.6 757.9 L1081.2 757.9 L1082.9 758.0 L1084.5 758.1 L1086.1 758.2 L1087.7 758.2 L1089.4 758.3 L1091.0 758.4 L1092.6 758.4 L1094.2 758.5 L1095.9 758.6 L1097.5 758.6 L1099.1 758.7 L1100.8 758.8 L1102.4 758.8 L1104.0 758.9 L1105.7 759.0 L1107.3 759.0 L1108.9 759.1 L1110.6 759.2 L1112.2 759.2 L1113.8 759.3 L1115.5 759.3 L1117.1 759.4 L1118.7 759.5 L1120.4 759.5 L1122.0 759.6 L1123.7 759.6 L1125.3 759.7 L1126.9 759.8 L1128.6 759.8 L1130.2 759.9 L1131.9 759.9 L1133.5 760.0 L1135.1 760.0 L1136.8 760.1 L1138.4 760.1 L1140.1 760.2 L1141.7 760.3 L1143.4 760.3 L1145.0 760.4 L1146.6 760.4 L1148.3 760.5 L1149.9 760.5 L1151.6 760.6 L1153.2 760.6 L1154.9 760.7 L1156.5 760.7 L1158.2 760.8 L1159.8 760.8 L1161.5 760.9 L1163.1 760.9 L1164.8 761.0 L1166.4 761.0 L1168.0 761.1 L1169.7 761.1 L1171.3 761.2 L1173.0 761.2 L1174.6 761.3 L1176.3 761.3 L1177.9 761.4 L1179.6 761.4 L1181.2 761.4 L1182.9 761.5 L1184.6 761.5 L1186.2 761.6 L1187.9 761.6 L1189.5 761.7 L1191.2 761.7 L1192.8 761.8 L1194.3 761.8 L1195.9 761.8 L1197.3 761.9 L1198.8 761.9 L1200.3 762.0" stroke="#1EF01E"/>
<path d="M178.5 187.0 L180.0 187.1 L181.6 187.2 L183.1 187.2 L184.7 187.3 L186.2 187.4 L187.8 187.5 L189.3 187.6 L190.9 187.6 L192.5 187.7 L194.1 187.8 L195.7 187.9 L197.3 187.9 L198.9 188.0 L200.4 188.1 L202.0 188.1 L203.6 188.2 L205.2 188.3 L206.8 188.4 L208.4 188.4 L210.0 188.5 L211.6 188.6 L213.2 188.7 L214.8 188.7 L216.3 188.8 L217.9 188.9 L219.5 189.0 L221.0 189.0 L222.6 189.1 L224.1 189.2 L225.7 189.3 L227.2 189.4 L228.7 189.4 L230.2 189.5 L231.7 189.6 L233.2 189.7 L234.7 189.8 L236.2 189.9 L237.6 190.0 L239.1 190.1 L240.5 190.2 L241.9 190.3 L243.3 190.4 L244.7 190.5 L246.0 190.6 L247.4 190.8 L248.7 190.9 L250.0 191.0 L251.8 191.2 L253.5 191.4 L255.3 191.5 L257.0 191.7 L258.7 191.9 L260.4 192.1 L262.1 192.3 L263.8 192.6 L265.5 192.8 L267.1 193.0 L268.7 193.2 L270.4 193.4 L271.9 193.7 L273.5 193.9 L275.0 194.1 L276.6 194.3 L278.0 194.6 L279.5 194.8 L280.9 195.0 L282.3 195.2 L283.7 195.5 L285.0 195.7 L286.3 195.9 L287.6 196.1 L288.8 196.3 L290.0 196.5 L291.8 196.8 L293.5 197.1 L295.1 197.4 L296.7 197.7 L298.2 197.9 L299.6 198.2 L301.0 198.5 L302.3 198.8 L303.7 199.1 L305.0 199.5 L306.6 199.9 L308.1 200.3 L309.6 200.7 L311.0 201.2 L312.4 201.7 L313.7 202.3 L315.0 203.0 L316.3 203.9 L317.6 205.0 L318.8 206.1 L319.9 207.3 L321.0 208.6 L322.0 210.0 L322.9 211.2 L323.7 212.6 L324.5 214.0 L325.3 215.5 L326.0 217.0 L326.7 218.4 L327.4 219.8 L328.0 221.0 L328.8 222.5 L329.6 223.9 L330.2 225.2 L330.9 226.6 L331.6 228.0 L332.2 229.5 L332.8 231.1 L333.4 232.6 L334.0 234.1 L334.6 235.7 L335.1 237.2 L335.7 238.8 L336.2 240.4 L336.7 242.0 L337.3 243.5 L337.8 245.1 L338.3 246.8 L338.8 248.4 L339.3 250.0 L339.8 251.6 L340.3 253.2 L340.8 254.9 L341.3 256.5 L341.8 258.1 L342.3 259.8 L342.8 261.4 L343.2 263.0 L343.7 264.7 L344.2 266.3 L344.6 268.0 L345.1 269.6 L345.6 271.3 L346.0 273.0 L346.5 274.6 L347.0 276.3 L347.4 278.0 L347.9 279.6 L348.3 281.3 L348.8 283.0 L349.2 284.7 L349.6 286.3 L350.1 288.0 L350.5 289.7 L351.0 291.4 L351.4 293.1 L351.8 294.8 L352.3 296.4 L352.7 298.1 L353.1 299.8 L353.6 301.5 L354.0 303.2 L354.4 304.9 L354.8 306.6 L355.2 308.3 L355.7 310.0 L356.1 311.7 L356.5 313.4 L356.9 315.1 L357.3 316.8 L357.8 318.5 L358.2 320.2 L358.6 321.9 L359.0 323.6 L359.4 325.3 L359.8 327.1 L360.2 328.8 L360.7 330.5 L361.1 332.2 L361.5 333.9 L361.9 335.6 L362.3 337.3 L362.7 339.0 L363.1 340.7 L363.6 342.4 L364.0 344.1 L364.4 345.8 L364.8 347.6 L365.2 349.3 L365.6 351.0 L366.0 352.7 L366.5 354.4 L366.9 356.1 L367.3 357.8 L367.7 359.5 L368.1 361.2 L368.5 362.9 L369.0 364.6 L369.4 366.3 L369.8 368.0 L370.2 369.7 L370.7 371.4 L371.1 373.1 L371.5 374.8 L371.9 376.5 L372.4 378.2 L372.8 379.9 L373.2 381.5 L373.7 383.2 L374.1 384.9 L374.5 386.6 L375.0 388.3 L375.4 390.0 L375.8 391.6 L376.3 393.3 L376.7 395.0 L377.2 396.7 L377.6 398.3 L378.1 400.0 L378.5 401.7 L379.0 403.4 L379.4 405.0 L379.9 406.7 L380.4 408.3 L380.8 410.0 L381.3 411.7 L381.8 413.3 L382.2 415.0 L382.7 416.6 L383.2 418.3 L383.6 419.9 L384.1 421.6 L384.6 423.2 L385.1 424.8 L385.6 426.5 L386.1 428.1 L386.5 429.7 L387.0 431.4 L387.5 433.0 L388.0 434.6 L388.5 436.2 L389.0 437.8 L389.6 439.5 L390.1 441.1 L390.6 442.7 L391.1 444.3 L391.6 445.9 L392.1 447.5 L392.7 449.1 L393.2 450.7 L393.7 452.3 L394.3 453.8 L394.8 455.4 L395.3 457.0 L395.9 458.6 L396.4 460.1 L397.0 461.7 L397.6 463.3 L398.1 464.8 L398.7 466.4 L399.3 467.9 L399.8 469.5 L400.4 471.0 L401.0 472.6 L401.6 474.1 L402.2 475.6 L402.7 477.2 L403.3 478.7 L403.9 480.2 L404.5 481.7 L405.2 483.3 L405.8 484.8 L406.4 486.3 L407.0 487.8 L407.6 489.3 L408.3 490.7 L408.9 492.2 L409.5 493.7 L410.2 495.2 L410.8 496.7 L411.5 498.1 L412.2 499.6 L412.8 501.1 L413.5 502.5 L414.2 504.0 L414.8 505.4 L415.5 506.8 L416.2 508.3 L416.9 509.7 L417.6 511.1 L418.3 512.5 L419.0 513.9 L419.7 515.4 L420.4 516.8 L421.2 518.2 L421.9 519.5 L422.6 520.9 L423.4 522.3 L424.1 523.7 L424.9 525.1 L425.6 526.4 L426.4 527.8 L427.2 529.1 L427.9 530.5 L428.7 531.8 L429.5 533.2 L430.3 534.5 L431.0 535.8 L431.8 537.2 L432.6 538.5 L433.4 539.8 L434.2 541.1 L435.0 542.5 L435.9 543.8 L436.7 545.1 L437.5 546.4 L438.3 547.7 L439.1 549.0 L439.9 550.3 L440.8 551.6 L441.6 552.9 L442.4 554.2 L443.3 555.5 L444.1 556.8 L444.9 558.0 L445.8 559.3 L446.6 560.6 L447.4 561.9 L448.3 563.2 L449.1 564.5 L450.0 565.7 L450.8 567.0 L451.6 568.3 L452.5 569.6 L453.3 570.9 L454.2 572.1 L455.0 573.4 L455.8 574.7 L456.7 576.0 L457.5 577.3 L458.4 578.5 L459.2 579.8 L460.0 581.1 L460.9 582.4 L461.7 583.7 L462.6 585.0 L463.4 586.2 L464.2 587.5 L465.1 588.8 L465.9 590.1 L466.8 591.3 L467.6 592.6 L468.5 593.9 L469.3 595.1 L470.2 596.4 L471.1 597.6 L472.0 598.9 L472.8 600.1 L473.7 601.4 L474.6 602.6 L475.5 603.8 L476.4 605.0 L477.4 606.2 L478.3 607.4 L479.2 608.6 L480.2 609.7 L481.2 610.9 L482.1 612.0 L483.1 613.2 L484.1 614.3 L485.1 615.4 L486.1 616.5 L487.2 617.6 L488.2 618.7 L489.3 619.7 L490.4 620.8 L491.5 621.8 L492.6 622.8 L493.7 623.8 L494.9 624.8 L496.0 625.7 L497.2 626.7 L498.4 627.6 L499.6 628.6 L500.8 629.5 L502.0 630.4 L503.2 631.3 L504.5 632.1 L505.7 633.0 L507.0 633.9 L508.3 634.7 L509.5 635.6 L510.8 636.4 L512.1 637.2 L513.4 638.1 L514.7 638.9 L516.0 639.7 L517.3 640.5 L518.6 641.3 L519.9 642.1 L521.2 642.9 L522.6 643.7 L523.9 644.5 L525.2 645.3 L526.5 646.1 L527.8 646.9 L529.2 647.7 L530.5 648.5 L531.8 649.3 L533.2 650.1 L534.5 650.9 L535.8 651.7 L537.2 652.5 L538.5 653.2 L539.9 654.0 L541.2 654.8 L542.6 655.6 L543.9 656.3 L545.3 657.1 L546.6 657.9 L548.0 658.6 L549.4 659.4 L550.7 660.1 L552.1 660.9 L553.5 661.6 L554.8 662.4 L556.2 663.1 L557.6 663.9 L559.0 664.6 L560.3 665.4 L561.7 666.1 L563.1 666.8 L564.5 667.6 L565.9 668.3 L567.3 669.0 L568.7 669.8 L570.1 670.5 L571.5 671.2 L572.9 671.9 L574.3 672.6 L575.7 673.3 L577.1 674.1 L578.5 674.8 L579.9 675.5 L581.3 676.2 L582.8 676.9 L584.2 677.6 L585.6 678.3 L587.0 679.0 L588.5 679.7 L589.9 680.3 L591.3 681.0 L592.8 681.7 L594.2 682.4 L595.7 683.1 L597.1 683.8 L598.6 684.4 L600.0 685.1 L601.5 685.8 L602.9 686.4 L604.4 687.1 L605.8 687.8 L607.3 688.4 L608.8 689.1 L610.2 689.7 L611.7 690.4 L613.2 691.0 L614.6 691.7 L616.1 692.3 L617.6 693.0 L619.1 693.6 L620.6 694.2 L622.0 694.9 L623.5 695.5 L625.0 696.1 L626.5 696.8 L628.0 697.4 L629.5 698.0 L631.0 698.6 L632.5 699.3 L634.0 699.9 L635.5 700.5 L637.0 701.1 L638.5 701.7 L640.1 702.3 L641.6 702.9 L643.1 703.5 L644.6 704.1 L646.1 704.7 L647.7 705.3 L649.2 705.9 L650.7 706.5 L652.3 707.1 L653.8 707.7 L655.3 708.2 L656.9 708.8 L658.4 709.4 L660.0 710.0 L661.5 710.5 L663.1 711.1 L664.6 711.7 L666.2 712.2 L667.7 712.8 L669.3 713.4 L670.9 713.9 L672.4 714.5 L674.0 715.0 L675.6 715.6 L677.2 716.1 L678.7 716.7 L680.3 717.2 L681.9 717.8 L683.5 718.3 L685.1 718.8 L686.6 719.4 L688.2 719.9 L689.8 720.4 L691.4 721.0 L693.0 721.5 L694.6 722.0 L696.2 722.5 L697.8 723.0 L699.4 723.5 L701.1 724.1 L702.7 724.6 L704.3 725.1 L705.9 725.6 L707.5 726.1 L709.2 726.6 L710.8 727.1 L712.4 727.6 L714.0 728.0 L715.7 728.5 L717.3 729.0 L718.9 729.5 L720.6 730.0 L722.2 730.5 L723.9 730.9 L725.5 731.4 L727.2 731.9 L728.8 732.3 L730.5 732.8 L732.2 733.3 L733.8 733.7 L735.5 734.2 L737.1 734.6 L738.8 735.1 L740.5 735.5 L742.2 736.0 L743.8 736.4 L745.5 736.9 L747.2 737.3 L748.9 737.7 L750.6 738.2 L752.3 738.6 L754.0 739.0 L755.7 739.4 L757.4 739.9 L759.1 740.3 L760.8 740.7 L762.5 741.1 L764.2 741.5 L765.9 741.9 L767.6 742.3 L769.3 742.8 L771.0 743.2 L772.8 743.6 L774.5 743.9 L776.2 744.3 L778.0 744.7 L779.7 745.1 L781.4 745.5 L783.2 745.9 L784.9 746.3 L786.7 746.6 L788.4 747.0 L790.1 747.4 L791.9 747.8 L793.7 748.1 L795.4 748.5 L797.2 748.8 L798.9 749.2 L800.7 749.6 L802.5 749.9 L804.2 750.3 L806.0 750.6 L807.8 751.0 L809.6 751.3 L811.4 751.6 L813.1 752.0 L814.9 752.3 L816.7 752.6 L818.5 753.0 L820.3 753.3 L822.1 753.6 L823.9 753.9 L825.7 754.2 L827.5 754.6 L829.3 754.9 L831.1 755.2 L833.0 755.5 L834.8 755.8 L836.6 756.1 L838.4 756.4 L840.2 756.7 L842.1 757.0 L843.9 757.3 L845.7 757.6 L847.6 757.8 L849.4 758.1 L851.3 758.4 L853.1 758.7 L855.0 758.9 L856.8 759.2 L858.7 759.5 L860.2 759.7 L861.6 759.9 L863.1 760.1 L864.6 760.3 L866.1 760.5 L867.6 760.7 L869.1 760.9 L870.6 761.1 L872.1 761.3 L873.6 761.5 L875.1 761.7 L876.6 761.9 L878.1 762.1 L879.6 762.3 L881.1 762.5 L882.7 762.6 L884.2 762.8 L885.7 763.0 L887.2 763.2 L888.7 763.4 L890.3 763.5 L891.8 763.7 L893.3 763.9 L894.8 764.0 L896.4 764.2 L897.9 764.4 L899.4 764.5 L901.0 764.7 L902.5 764.9 L904.0 765.0 L905.6 765.2 L907.1 765.3 L908.7 765.5 L910.2 765.6 L911.8 765.8 L913.3 765.9 L914.9 766.1 L916.4 766.2 L918.0 766.4 L919.5 766.5 L921.1 766.6 L922.6 766.8 L924.2 766.9 L925.8 767.1 L927.3 767.2 L928.9 767.3 L930.5 767.4 L932.0 767.6 L933.6 767.7 L935.2 767.8 L936.7 768.0 L938.3 768.1 L939.9 768.2 L941.5 768.3 L943.1 768.4 L944.6 768.5 L946.2 768.7 L947.8 768.8 L949.4 768.9 L951.0 769.0 L952.6 769.1 L954.1 769.2 L955.7 769.3 L957.3 769.4 L958.9 769.5 L960.5 769.6 L962.1 769.7 L963.7 769.8 L965.3 769.9 L966.9 770.0 L968.5 770.1 L970.1 770.2 L971.7 770.3 L973.3 770.4 L974.9 770.5 L976.5 770.6 L978.1 770.7 L979.7 770.8 L981.4 770.9 L983.0 770.9 L984.6 771.0 L986.2 771.1 L987.8 771.2 L989.4 771.3 L991.0 771.4 L992.6 771.4 L994.3 771.5 L995.9 771.6 L997.5 771.7 L999.1 771.8 L1000.7 771.8 L1002.4 771.9 L1004.0 772.0 L1005.6 772.1 L1007.2 772.1 L1008.9 772.2 L1010.5 772.3 L1012.1 772.3 L1013.7 772.4 L1015.4 772.5 L1017.0 772.5 L1018.6 772.6 L1020.3 772.7 L1021.9 772.7 L1023.5 772.8 L1025.2 772.9 L1026.8 772.9 L1028.4 773.0 L1030.1 773.1 L1031.7 773.1 L1033.3 773.2 L1035.0 773.2 L1036.6 773.3 L1038.3 773.4 L1039.9 773.4 L1041.5 773.5 L1043.2 773.5 L1044.8 773.6 L1046.5 773.6 L1048.1 773.7 L1049.7 773.7 L1051.4 773.8 L1053.0 773.9 L1054.7 773.9 L1056.3 774.0 L1058.0 774.0 L1059.6 774.1 L1061.2 774.1 L1062.9 774.2 L1064.5 774.2 L1066.2 774.3 L1067.8 774.3 L1069.5 774.4 L1071.1 774.4 L1072.8 774.5 L1074.4 774.5 L1076.1 774.6 L1077.7 774.6 L1079.4 774.7 L1081.0 774.7 L1082.7 774.8 L1084.3 774.8 L1086.0 774.9 L1087.6 774.9 L1089.3 775.0 L1090.9 775.0 L1092.6 775.1 L1094.2 775.1 L1095.9 775.2 L1097.5 775.2 L1099.1 775.3 L1100.8 775.3 L1102.4 775.3 L1104.1 775.4 L1105.7 775.4 L1107.4 775.5 L1109.0 775.5 L1110.7 775.6 L1112.3 775.6 L1114.0 775.7 L1115.6 775.7 L1117.3 775.8 L1118.9 775.8 L1120.6 775.9 L1122.2 775.9 L1123.9 776.0 L1125.5 776.0 L1127.2 776.1 L1128.8 776.1 L1130.5 776.2 L1132.1 776.2 L1133.8 776.3 L1135.4 776.3 L1137.1 776.4 L1138.7 776.4 L1140.4 776.5 L1142.0 776.5 L1143.6 776.6 L1145.3 776.6 L1146.9 776.7 L1148.6 776.7 L1150.2 776.8 L1151.9 776.8 L1153.5 776.9 L1155.1 777.0 L1156.8 777.0 L1158.4 777.1 L1160.1 777.1 L1161.7 777.2 L1163.3 777.2 L1165.0 777.3 L1166.6 777.4 L1168.3 777.4 L1169.9 777.5 L1171.5 777.5 L1173.2 777.6 L1174.8 777.7 L1176.4 777.7 L1178.1 777.8 L1179.7 777.9 L1181.3 777.9 L1183.0 778.0 L1184.6 778.0 L1186.2 778.1 L1187.9 778.2 L1189.5 778.3 L1191.3 778.3 L1193.0 778.4 L1194.6 778.5 L1196.0 778.5 L1198.0 778.6 L1199.8 778.7" stroke="#EE1111"/>
<path d="M178.5 186.5 L180.0 186.6 L181.6 186.6 L183.1 186.7 L184.7 186.8 L186.3 186.9 L187.9 186.9 L189.4 187.0 L191.0 187.1 L192.6 187.1 L194.2 187.2 L195.7 187.3 L197.3 187.3 L198.9 187.4 L200.5 187.5 L202.0 187.6 L203.6 187.6 L205.1 187.7 L206.7 187.8 L208.2 187.9 L209.7 187.9 L211.2 188.0 L212.7 188.1 L214.2 188.2 L215.7 188.2 L217.1 188.3 L218.6 188.4 L220.0 188.5 L221.6 188.6 L223.3 188.7 L224.9 188.8 L226.5 188.9 L228.2 189.0 L229.8 189.1 L231.4 189.2 L233.0 189.4 L234.6 189.5 L236.2 189.6 L237.7 189.7 L239.2 189.8 L240.7 189.9 L242.2 190.1 L243.6 190.2 L244.9 190.3 L246.3 190.4 L247.6 190.5 L248.8 190.7 L250.0 190.8 L251.8 191.0 L253.4 191.3 L255.0 191.5 L256.5 191.8 L257.9 192.0 L259.3 192.2 L260.7 192.4 L262.0 192.5 L263.7 192.6 L265.4 192.6 L267.0 192.6 L268.5 192.6 L270.0 192.5 L271.6 192.3 L273.1 192.1 L274.5 191.8 L276.0 191.5 L277.5 191.1 L279.0 190.7 L280.5 190.3 L282.0 190.0 L283.5 189.8 L285.0 189.7 L286.5 189.6 L288.0 189.6 L289.7 189.7 L291.5 189.8 L293.3 190.1 L295.0 190.5 L296.4 190.9 L297.9 191.5 L299.3 192.1 L300.7 192.7 L302.0 193.5 L303.4 194.5 L304.7 195.6 L305.9 196.7 L307.0 198.0 L307.9 199.2 L308.7 200.4 L309.5 201.7 L310.3 203.1 L311.0 204.5 L311.8 206.0 L312.5 207.6 L313.3 209.3 L313.9 210.9 L314.5 212.5 L315.0 214.3 L315.3 216.0 L315.7 217.7 L316.1 219.4 L316.6 221.0 L317.1 222.6 L317.7 224.2 L318.2 225.8 L318.7 227.4 L319.2 229.0 L319.7 230.6 L320.2 232.2 L320.7 233.9 L321.2 235.5 L321.7 237.1 L322.2 238.8 L322.6 240.4 L323.1 242.1 L323.6 243.8 L324.0 245.4 L324.5 247.1 L324.9 248.8 L325.4 250.4 L325.8 252.1 L326.2 253.8 L326.7 255.5 L327.1 257.2 L327.5 258.9 L328.0 260.6 L328.4 262.3 L328.8 264.0 L329.2 265.7 L329.6 267.4 L330.0 269.1 L330.4 270.8 L330.8 272.6 L331.2 274.3 L331.6 276.0 L332.0 277.7 L332.4 279.5 L332.8 281.2 L333.1 283.0 L333.5 284.7 L333.9 286.4 L334.3 288.2 L334.6 289.9 L335.0 291.7 L335.4 293.5 L335.7 295.2 L336.1 297.0 L336.5 298.7 L336.8 300.5 L337.2 302.3 L337.5 304.0 L337.9 305.8 L338.2 307.6 L338.6 309.3 L338.9 311.1 L339.3 312.9 L339.6 314.6 L340.0 316.4 L340.3 318.2 L340.7 320.0 L341.0 321.7 L341.4 323.5 L341.7 325.3 L342.1 327.1 L342.4 328.9 L342.7 330.6 L343.1 332.4 L343.4 334.2 L343.8 336.0 L344.1 337.7 L344.4 339.5 L344.8 341.3 L345.1 343.1 L345.5 344.9 L345.8 346.7 L346.2 348.4 L346.5 350.2 L346.8 352.0 L347.2 353.8 L347.5 355.5 L347.9 357.3 L348.2 359.1 L348.5 360.9 L348.9 362.7 L349.2 364.4 L349.6 366.2 L349.9 368.0 L350.3 369.8 L350.6 371.5 L351.0 373.3 L351.3 375.1 L351.7 376.8 L352.0 378.6 L352.4 380.4 L352.7 382.2 L353.1 383.9 L353.4 385.7 L353.8 387.4 L354.2 389.2 L354.5 391.0 L354.9 392.7 L355.3 394.5 L355.6 396.2 L356.0 398.0 L356.4 399.7 L356.7 401.5 L357.1 403.2 L357.5 405.0 L357.9 406.7 L358.2 408.5 L358.6 410.2 L359.0 412.0 L359.4 413.7 L359.8 415.4 L360.2 417.2 L360.5 418.9 L360.9 420.6 L361.3 422.3 L361.7 424.1 L362.1 425.8 L362.5 427.5 L363.0 429.2 L363.4 430.9 L363.8 432.6 L364.2 434.3 L364.6 436.0 L365.0 437.7 L365.5 439.4 L365.9 441.1 L366.3 442.8 L366.7 444.5 L367.2 446.2 L367.6 447.9 L368.1 449.6 L368.5 451.2 L369.0 452.9 L369.4 454.6 L369.9 456.2 L370.3 457.9 L370.8 459.5 L371.3 461.2 L371.7 462.8 L372.2 464.5 L372.7 466.1 L373.2 467.8 L373.7 469.4 L374.2 471.0 L374.7 472.7 L375.2 474.3 L375.7 475.9 L376.2 477.5 L376.7 479.1 L377.2 480.7 L377.7 482.3 L378.2 483.9 L378.8 485.5 L379.3 487.1 L379.8 488.7 L380.4 490.3 L380.9 491.8 L381.5 493.4 L382.1 495.0 L382.6 496.5 L383.2 498.1 L383.8 499.6 L384.3 501.2 L384.9 502.7 L385.5 504.2 L386.1 505.8 L386.7 507.3 L387.3 508.8 L387.9 510.3 L388.5 511.8 L389.2 513.3 L389.8 514.8 L390.4 516.3 L391.1 517.8 L391.7 519.3 L392.3 520.7 L393.0 522.2 L393.7 523.7 L394.3 525.1 L395.0 526.6 L395.7 528.0 L396.4 529.4 L397.1 530.9 L397.8 532.3 L398.5 533.7 L399.2 535.1 L399.9 536.5 L400.6 537.9 L401.3 539.3 L402.1 540.7 L402.8 542.1 L403.5 543.5 L404.3 544.8 L405.0 546.2 L405.8 547.6 L406.6 548.9 L407.3 550.3 L408.1 551.6 L408.9 553.0 L409.7 554.3 L410.5 555.6 L411.3 556.9 L412.1 558.2 L412.9 559.6 L413.7 560.9 L414.6 562.2 L415.4 563.4 L416.2 564.7 L417.1 566.0 L417.9 567.3 L418.8 568.5 L419.6 569.8 L420.5 571.1 L421.4 572.3 L422.2 573.6 L423.1 574.8 L424.0 576.0 L424.9 577.3 L425.8 578.5 L426.7 579.7 L427.6 580.9 L428.5 582.1 L429.5 583.3 L430.4 584.5 L431.3 585.7 L432.3 586.9 L433.2 588.1 L434.2 589.2 L435.1 590.4 L436.1 591.6 L437.0 592.7 L438.0 593.9 L439.0 595.0 L440.0 596.2 L441.0 597.3 L441.9 598.4 L442.9 599.5 L444.0 600.6 L445.0 601.8 L446.0 602.9 L447.0 604.0 L448.0 605.1 L449.1 606.1 L450.1 607.2 L451.1 608.3 L452.2 609.4 L453.2 610.4 L454.3 611.5 L455.4 612.6 L456.4 613.6 L457.5 614.7 L458.6 615.7 L459.7 616.7 L460.8 617.8 L461.9 618.8 L463.0 619.8 L464.1 620.8 L465.2 621.8 L466.3 622.8 L467.4 623.8 L468.6 624.8 L469.7 625.8 L470.9 626.8 L472.0 627.8 L473.1 628.7 L474.3 629.7 L475.5 630.7 L476.6 631.6 L477.8 632.6 L479.0 633.5 L480.2 634.4 L481.4 635.4 L482.6 636.3 L483.7 637.2 L485.0 638.1 L486.2 639.0 L487.4 640.0 L488.6 640.9 L489.8 641.8 L491.1 642.6 L492.3 643.5 L493.5 644.4 L494.8 645.3 L496.0 646.2 L497.3 647.0 L498.5 647.9 L499.8 648.7 L501.1 649.6 L502.4 650.4 L503.6 651.3 L504.9 652.1 L506.2 652.9 L507.5 653.8 L508.8 654.6 L510.1 655.4 L511.4 656.2 L512.7 657.0 L514.1 657.8 L515.4 658.6 L516.7 659.4 L518.0 660.2 L519.4 661.0 L520.7 661.8 L522.1 662.5 L523.4 663.3 L524.8 664.1 L526.1 664.8 L527.5 665.6 L528.9 666.3 L530.2 667.1 L531.6 667.8 L533.0 668.6 L534.4 669.3 L535.8 670.0 L537.2 670.8 L538.6 671.5 L540.0 672.2 L541.4 672.9 L542.8 673.6 L544.2 674.3 L545.6 675.0 L547.1 675.7 L548.5 676.4 L549.9 677.1 L551.4 677.8 L552.8 678.5 L554.2 679.2 L555.7 679.8 L557.1 680.5 L558.6 681.2 L560.1 681.8 L561.5 682.5 L563.0 683.1 L564.5 683.8 L565.9 684.4 L567.4 685.1 L568.9 685.7 L570.4 686.4 L571.9 687.0 L573.4 687.6 L574.9 688.2 L576.4 688.9 L577.9 689.5 L579.4 690.1 L580.9 690.7 L582.4 691.3 L583.9 691.9 L585.4 692.5 L587.0 693.1 L588.5 693.7 L590.0 694.3 L591.6 694.9 L593.1 695.5 L594.6 696.0 L596.2 696.6 L597.7 697.2 L599.3 697.7 L600.8 698.3 L602.4 698.9 L604.0 699.4 L605.5 700.0 L607.1 700.6 L608.7 701.1 L610.2 701.7 L611.8 702.2 L613.4 702.7 L615.0 703.3 L616.6 703.8 L618.1 704.3 L619.7 704.9 L621.3 705.4 L622.9 705.9 L624.5 706.5 L626.1 707.0 L627.7 707.5 L629.3 708.0 L631.0 708.5 L632.6 709.0 L634.2 709.5 L635.8 710.0 L637.4 710.5 L639.0 711.0 L640.7 711.5 L642.3 712.0 L643.9 712.5 L645.6 713.0 L647.2 713.5 L648.8 714.0 L650.5 714.5 L652.1 714.9 L653.8 715.4 L655.4 715.9 L657.1 716.4 L658.7 716.8 L660.4 717.3 L662.0 717.7 L663.7 718.2 L665.3 718.7 L667.0 719.1 L668.7 719.6 L670.3 720.0 L672.0 720.5 L673.7 720.9 L675.4 721.4 L677.0 721.8 L678.7 722.3 L680.4 722.7 L682.1 723.1 L683.8 723.6 L685.5 724.0 L687.2 724.4 L688.9 724.8 L690.6 725.3 L692.3 725.7 L694.0 726.1 L695.7 726.5 L697.4 726.9 L699.1 727.4 L700.8 727.8 L702.5 728.2 L704.2 728.6 L705.9 729.0 L707.7 729.4 L709.4 729.8 L711.1 730.2 L712.8 730.6 L714.6 731.0 L716.3 731.4 L718.0 731.7 L719.8 732.1 L721.5 732.5 L723.2 732.9 L725.0 733.3 L726.7 733.7 L728.5 734.0 L730.2 734.4 L732.0 734.8 L733.7 735.1 L735.5 735.5 L737.2 735.9 L739.0 736.2 L740.8 736.6 L742.5 737.0 L744.3 737.3 L746.0 737.7 L747.8 738.0 L749.6 738.4 L751.4 738.7 L753.1 739.1 L754.9 739.4 L756.7 739.8 L758.5 740.1 L760.3 740.4 L762.0 740.8 L763.8 741.1 L765.6 741.4 L767.4 741.8 L769.2 742.1 L771.0 742.4 L772.8 742.7 L774.6 743.1 L776.4 743.4 L778.2 743.7 L780.0 744.0 L781.8 744.3 L783.6 744.6 L785.4 745.0 L787.2 745.3 L789.1 745.6 L790.9 745.9 L792.7 746.2 L794.5 746.5 L796.3 746.8 L798.2 747.1 L800.0 747.4 L801.8 747.7 L803.6 748.0 L805.5 748.2 L807.3 748.5 L809.1 748.8 L811.0 749.1 L812.8 749.4 L814.7 749.7 L816.5 749.9 L818.3 750.2 L820.2 750.5 L822.0 750.8 L823.9 751.0 L825.7 751.3 L827.6 751.6 L829.1 751.8 L830.6 752.0 L832.0 752.2 L833.5 752.4 L835.0 752.6 L836.5 752.9 L838.0 753.1 L839.5 753.3 L841.0 753.5 L842.5 753.7 L844.0 753.9 L845.5 754.1 L847.0 754.3 L848.5 754.5 L850.0 754.7 L851.5 754.9 L853.0 755.1 L854.5 755.3 L856.0 755.5 L857.5 755.7 L859.0 755.8 L860.5 756.0 L862.0 756.2 L863.5 756.4 L865.0 756.6 L866.5 756.8 L868.0 757.0 L869.5 757.2 L871.0 757.3 L872.6 757.5 L874.1 757.7 L875.6 757.9 L877.1 758.1 L878.6 758.2 L880.1 758.4 L881.7 758.6 L883.2 758.8 L884.7 759.0 L886.2 759.1 L887.8 759.3 L889.3 759.5 L890.8 759.6 L892.3 759.8 L893.9 760.0 L895.4 760.2 L896.9 760.3 L898.5 760.5 L900.0 760.7 L901.5 760.8 L903.0 761.0 L904.6 761.1 L906.1 761.3 L907.7 761.5 L909.2 761.6 L910.7 761.8 L912.3 761.9 L913.8 762.1 L915.4 762.3 L916.9 762.4 L918.4 762.6 L920.0 762.7 L921.5 762.9 L923.1 763.0 L924.6 763.2 L926.2 763.3 L927.7 763.5 L929.3 763.6 L930.8 763.8 L932.4 763.9 L933.9 764.1 L935.5 764.2 L937.0 764.3 L938.6 764.5 L940.1 764.6 L941.7 764.8 L943.2 764.9 L944.8 765.1 L946.4 765.2 L947.9 765.3 L949.5 765.5 L951.0 765.6 L952.6 765.7 L954.2 765.9 L955.7 766.0 L957.3 766.1 L958.9 766.3 L960.4 766.4 L962.0 766.5 L963.6 766.7 L965.1 766.8 L966.7 766.9 L968.3 767.0 L969.8 767.2 L971.4 767.3 L973.0 767.4 L974.5 767.5 L976.1 767.7 L977.7 767.8 L979.3 767.9 L980.8 768.0 L982.4 768.2 L984.0 768.3 L985.6 768.4 L987.2 768.5 L988.7 768.6 L990.3 768.7 L991.9 768.9 L993.5 769.0 L995.1 769.1 L996.6 769.2 L998.2 769.3 L999.8 769.4 L1001.4 769.5 L1003.0 769.7 L1004.6 769.8 L1006.2 769.9 L1007.7 770.0 L1009.3 770.1 L1010.9 770.2 L1012.5 770.3 L1014.1 770.4 L1015.7 770.5 L1017.3 770.6 L1018.9 770.7 L1020.5 770.8 L1022.1 770.9 L1023.7 771.0 L1025.3 771.1 L1026.9 771.2 L1028.5 771.3 L1030.0 771.4 L1031.6 771.5 L1033.2 771.6 L1034.8 771.7 L1036.4 771.8 L1038.0 771.9 L1039.6 772.0 L1041.2 772.1 L1042.9 772.2 L1044.5 772.3 L1046.1 772.4 L1047.7 772.5 L1049.3 772.6 L1050.9 772.7 L1052.5 772.8 L1054.1 772.9 L1055.7 773.0 L1057.3 773.0 L1058.9 773.1 L1060.5 773.2 L1062.1 773.3 L1063.7 773.4 L1065.3 773.5 L1067.0 773.6 L1068.6 773.6 L1070.2 773.7 L1071.8 773.8 L1073.4 773.9 L1075.0 774.0 L1076.6 774.1 L1078.3 774.1 L1079.9 774.2 L1081.5 774.3 L1083.1 774.4 L1084.7 774.5 L1086.3 774.6 L1088.0 774.6 L1089.6 774.7 L1091.2 774.8 L1092.8 774.9 L1094.4 774.9 L1096.1 775.0 L1097.7 775.1 L1099.3 775.2 L1100.9 775.2 L1102.5 775.3 L1104.2 775.4 L1105.8 775.5 L1107.4 775.5 L1109.0 775.6 L1110.7 775.7 L1112.3 775.8 L1113.9 775.8 L1115.5 775.9 L1117.2 776.0 L1118.8 776.0 L1120.4 776.1 L1122.0 776.2 L1123.7 776.2 L1125.3 776.3 L1126.9 776.4 L1128.6 776.4 L1130.2 776.5 L1131.8 776.6 L1133.5 776.6 L1135.1 776.7 L1136.7 776.8 L1138.3 776.8 L1140.0 776.9 L1141.6 777.0 L1143.2 777.0 L1144.9 777.1 L1146.5 777.2 L1148.2 777.2 L1149.8 777.3 L1151.4 777.3 L1153.1 777.4 L1154.7 777.5 L1156.3 777.5 L1158.0 777.6 L1159.6 777.7 L1161.2 777.7 L1162.9 777.8 L1164.5 777.8 L1166.2 777.9 L1167.8 777.9 L1169.4 778.0 L1171.1 778.1 L1172.7 778.1 L1174.4 778.2 L1176.0 778.2 L1177.6 778.3 L1179.3 778.3 L1180.9 778.4 L1182.6 778.5 L1184.2 778.5 L1185.8 778.6 L1187.5 778.6 L1189.1 778.7 L1190.8 778.7 L1192.6 778.8 L1194.5 778.9 L1196.4 778.9 L1198.0 779.0 L1199.0 779.0 L1199.3 779.0 L1199.5 779.0" stroke="#0A0AE6"/>
<path d="M178.5 186.0 L180.0 186.1 L181.5 186.1 L183.0 186.2 L184.5 186.3 L186.0 186.3 L187.5 186.4 L189.0 186.5 L190.5 186.5 L192.1 186.6 L193.6 186.7 L195.2 186.8 L196.7 186.8 L198.4 186.9 L200.0 187.0 L201.4 187.1 L202.8 187.1 L204.3 187.2 L205.8 187.3 L207.3 187.4 L208.8 187.5 L210.3 187.5 L211.9 187.6 L213.4 187.7 L215.0 187.8 L216.5 187.9 L218.1 188.0 L219.6 188.1 L221.2 188.1 L222.7 188.2 L224.2 188.3 L225.7 188.4 L227.2 188.5 L228.6 188.6 L230.0 188.7 L231.7 188.8 L233.3 188.9 L235.0 189.0 L236.6 189.2 L238.2 189.3 L239.8 189.4 L241.4 189.5 L242.9 189.6 L244.5 189.8 L246.0 189.9 L247.5 190.0 L249.0 190.2 L250.5 190.3 L252.0 190.5 L253.6 190.7 L255.1 190.9 L256.7 191.1 L258.2 191.3 L259.7 191.5 L261.2 191.7 L262.7 191.9 L264.2 192.1 L265.7 192.3 L267.1 192.6 L268.6 192.8 L270.0 193.0 L271.6 193.2 L273.1 193.5 L274.6 193.7 L276.1 194.0 L277.6 194.2 L279.1 194.5 L280.5 194.7 L282.0 195.0 L283.5 195.2 L285.0 195.5 L286.5 195.8 L288.0 196.1 L289.5 196.4 L291.0 196.7 L292.5 197.0 L294.0 197.3 L295.5 197.6 L297.0 197.9 L298.5 198.2 L300.0 198.5 L301.5 198.8 L303.1 199.0 L304.6 199.3 L306.2 199.5 L307.7 199.8 L309.3 200.0 L310.8 200.3 L312.2 200.5 L313.7 200.8 L315.0 201.0 L316.7 201.3 L318.2 201.6 L319.8 201.9 L321.2 202.2 L322.6 202.5 L324.0 202.8 L325.6 203.2 L327.1 203.5 L328.6 203.9 L330.0 204.3 L331.7 204.9 L333.4 205.6 L335.0 206.5 L336.4 207.5 L337.7 208.6 L339.0 209.8 L340.0 210.9 L341.0 212.0 L342.0 213.2 L343.0 214.5 L343.8 215.7 L344.7 217.0 L345.4 218.3 L346.2 219.6 L347.0 221.0 L347.7 222.3 L348.4 223.8 L349.1 225.2 L349.8 226.7 L350.4 228.1 L351.0 229.5 L351.6 231.2 L352.0 232.8 L352.4 234.5 L352.9 236.1 L353.5 237.6 L354.1 239.2 L354.6 240.7 L355.2 242.2 L355.8 243.8 L356.3 245.4 L356.9 246.9 L357.4 248.5 L358.0 250.1 L358.5 251.7 L359.1 253.3 L359.6 254.9 L360.1 256.5 L360.6 258.1 L361.1 259.7 L361.7 261.3 L362.2 262.9 L362.7 264.5 L363.2 266.1 L363.7 267.8 L364.1 269.4 L364.6 271.0 L365.1 272.7 L365.6 274.3 L366.1 275.9 L366.5 277.6 L367.0 279.2 L367.5 280.9 L368.0 282.6 L368.4 284.2 L368.9 285.9 L369.3 287.5 L369.8 289.2 L370.2 290.9 L370.7 292.6 L371.1 294.2 L371.6 295.9 L372.0 297.6 L372.5 299.3 L372.9 300.9 L373.3 302.6 L373.8 304.3 L374.2 306.0 L374.6 307.7 L375.1 309.4 L375.5 311.1 L375.9 312.8 L376.4 314.5 L376.8 316.2 L377.2 317.8 L377.6 319.5 L378.1 321.2 L378.5 322.9 L378.9 324.6 L379.3 326.3 L379.7 328.0 L380.2 329.7 L380.6 331.4 L381.0 333.1 L381.4 334.8 L381.9 336.5 L382.3 338.2 L382.7 339.9 L383.1 341.6 L383.6 343.3 L384.0 345.0 L384.4 346.7 L384.8 348.4 L385.3 350.1 L385.7 351.8 L386.1 353.5 L386.6 355.2 L387.0 356.9 L387.4 358.5 L387.9 360.2 L388.3 361.9 L388.7 363.6 L389.2 365.3 L389.6 367.0 L390.1 368.6 L390.5 370.3 L390.9 372.0 L391.4 373.7 L391.8 375.3 L392.3 377.0 L392.7 378.7 L393.2 380.3 L393.7 382.0 L394.1 383.7 L394.6 385.3 L395.0 387.0 L395.5 388.7 L396.0 390.3 L396.4 392.0 L396.9 393.6 L397.4 395.3 L397.8 396.9 L398.3 398.6 L398.8 400.2 L399.3 401.9 L399.7 403.5 L400.2 405.1 L400.7 406.8 L401.2 408.4 L401.7 410.0 L402.2 411.7 L402.7 413.3 L403.2 414.9 L403.7 416.5 L404.2 418.2 L404.7 419.8 L405.2 421.4 L405.7 423.0 L406.2 424.6 L406.7 426.2 L407.2 427.8 L407.8 429.4 L408.3 431.0 L408.8 432.6 L409.3 434.2 L409.9 435.8 L410.4 437.4 L410.9 439.0 L411.5 440.5 L412.0 442.1 L412.6 443.7 L413.1 445.3 L413.7 446.8 L414.2 448.4 L414.8 450.0 L415.3 451.5 L415.9 453.1 L416.5 454.6 L417.1 456.2 L417.6 457.7 L418.2 459.3 L418.8 460.8 L419.4 462.4 L420.0 463.9 L420.6 465.4 L421.1 466.9 L421.7 468.5 L422.3 470.0 L423.0 471.5 L423.6 473.0 L424.2 474.5 L424.8 476.0 L425.4 477.5 L426.0 479.0 L426.7 480.5 L427.3 482.0 L427.9 483.5 L428.6 485.0 L429.2 486.4 L429.9 487.9 L430.5 489.4 L431.2 490.9 L431.8 492.3 L432.5 493.8 L433.2 495.2 L433.8 496.7 L434.5 498.1 L435.2 499.6 L435.9 501.0 L436.6 502.4 L437.3 503.8 L438.0 505.3 L438.7 506.7 L439.4 508.1 L440.1 509.5 L440.8 510.9 L441.5 512.3 L442.3 513.7 L443.0 515.1 L443.7 516.5 L444.5 517.9 L445.2 519.3 L446.0 520.6 L446.7 522.0 L447.5 523.4 L448.2 524.7 L449.0 526.1 L449.8 527.4 L450.6 528.8 L451.3 530.1 L452.1 531.4 L452.9 532.8 L453.7 534.1 L454.5 535.4 L455.3 536.7 L456.1 538.0 L456.9 539.3 L457.8 540.6 L458.6 541.9 L459.4 543.2 L460.3 544.5 L461.1 545.8 L461.9 547.1 L462.8 548.3 L463.6 549.6 L464.5 550.9 L465.4 552.1 L466.2 553.4 L467.1 554.6 L468.0 555.9 L468.9 557.1 L469.8 558.3 L470.7 559.6 L471.5 560.8 L472.4 562.0 L473.4 563.2 L474.3 564.4 L475.2 565.6 L476.1 566.9 L477.0 568.1 L477.9 569.2 L478.9 570.4 L479.8 571.6 L480.8 572.8 L481.7 574.0 L482.7 575.1 L483.6 576.3 L484.6 577.5 L485.5 578.6 L486.5 579.8 L487.5 580.9 L488.5 582.1 L489.4 583.2 L490.4 584.3 L491.4 585.5 L492.4 586.6 L493.4 587.7 L494.4 588.8 L495.4 590.0 L496.4 591.1 L497.5 592.2 L498.5 593.3 L499.5 594.4 L500.5 595.4 L501.6 596.5 L502.6 597.6 L503.6 598.7 L504.7 599.8 L505.7 600.8 L506.8 601.9 L507.9 603.0 L508.9 604.0 L510.0 605.1 L511.1 606.1 L512.2 607.2 L513.2 608.2 L514.3 609.2 L515.4 610.3 L516.5 611.3 L517.6 612.3 L518.7 613.3 L519.8 614.3 L520.9 615.4 L522.0 616.4 L523.2 617.4 L524.3 618.4 L525.4 619.4 L526.6 620.3 L527.7 621.3 L528.8 622.3 L530.0 623.3 L531.1 624.3 L532.3 625.2 L533.4 626.2 L534.6 627.1 L535.8 628.1 L536.9 629.0 L538.1 630.0 L539.3 630.9 L540.5 631.9 L541.7 632.8 L542.8 633.7 L544.0 634.7 L545.2 635.6 L546.4 636.5 L547.7 637.4 L548.9 638.3 L550.1 639.2 L551.3 640.1 L552.5 641.0 L553.7 641.9 L555.0 642.8 L556.2 643.7 L557.4 644.6 L558.7 645.5 L559.9 646.4 L561.2 647.2 L562.4 648.1 L563.7 649.0 L565.0 649.8 L566.2 650.7 L567.5 651.5 L568.8 652.4 L570.0 653.2 L571.3 654.1 L572.6 654.9 L573.9 655.7 L575.2 656.6 L576.5 657.4 L577.8 658.2 L579.1 659.0 L580.4 659.8 L581.7 660.6 L583.0 661.4 L584.4 662.2 L585.7 663.0 L587.0 663.8 L588.3 664.6 L589.7 665.4 L591.0 666.2 L592.3 667.0 L593.7 667.8 L595.0 668.5 L596.4 669.3 L597.8 670.1 L599.1 670.8 L600.5 671.6 L601.8 672.3 L603.2 673.1 L604.6 673.8 L606.0 674.6 L607.4 675.3 L608.7 676.0 L610.1 676.8 L611.5 677.5 L612.9 678.2 L614.3 678.9 L615.7 679.7 L617.1 680.4 L618.5 681.1 L620.0 681.8 L621.4 682.5 L622.8 683.2 L624.2 683.9 L625.7 684.6 L627.1 685.3 L628.5 686.0 L630.0 686.6 L631.4 687.3 L632.9 688.0 L634.3 688.7 L635.8 689.3 L637.2 690.0 L638.7 690.7 L640.1 691.3 L641.6 692.0 L643.1 692.6 L644.6 693.3 L646.0 693.9 L647.5 694.5 L649.0 695.2 L650.5 695.8 L652.0 696.4 L653.5 697.1 L655.0 697.7 L656.5 698.3 L658.0 698.9 L659.5 699.5 L661.0 700.2 L662.5 700.8 L664.0 701.4 L665.5 702.0 L667.1 702.6 L668.6 703.2 L670.1 703.7 L671.7 704.3 L673.2 704.9 L674.7 705.5 L676.3 706.1 L677.8 706.6 L679.4 707.2 L680.9 707.8 L682.5 708.4 L684.1 708.9 L685.6 709.5 L687.2 710.0 L688.8 710.6 L690.3 711.1 L691.9 711.7 L693.5 712.2 L695.1 712.8 L696.7 713.3 L698.2 713.8 L699.8 714.3 L701.4 714.9 L703.0 715.4 L704.6 715.9 L706.2 716.4 L707.8 716.9 L709.4 717.5 L711.1 718.0 L712.7 718.5 L714.3 719.0 L715.9 719.5 L717.5 720.0 L719.2 720.5 L720.8 721.0 L722.4 721.4 L724.1 721.9 L725.7 722.4 L727.4 722.9 L729.0 723.4 L730.7 723.8 L732.3 724.3 L734.0 724.8 L735.6 725.2 L737.3 725.7 L739.0 726.1 L740.6 726.6 L742.3 727.0 L744.0 727.5 L745.6 727.9 L747.3 728.4 L749.0 728.8 L750.7 729.3 L752.4 729.7 L754.1 730.1 L755.8 730.5 L757.5 731.0 L759.2 731.4 L760.9 731.8 L762.6 732.2 L764.3 732.6 L766.0 733.1 L767.7 733.5 L769.4 733.9 L771.1 734.3 L772.8 734.7 L774.6 735.1 L776.3 735.5 L778.0 735.9 L779.8 736.2 L781.5 736.6 L783.2 737.0 L785.0 737.4 L786.7 737.8 L788.5 738.2 L790.2 738.5 L792.0 738.9 L793.7 739.3 L795.5 739.6 L797.2 740.0 L799.0 740.4 L800.7 740.7 L802.5 741.1 L804.3 741.4 L806.1 741.8 L807.8 742.1 L809.6 742.5 L811.4 742.8 L813.2 743.1 L815.0 743.5 L816.7 743.8 L818.5 744.1 L820.3 744.5 L822.1 744.8 L823.9 745.1 L825.7 745.4 L827.5 745.8 L829.3 746.1 L831.1 746.4 L832.9 746.7 L834.8 747.0 L836.6 747.3 L838.4 747.6 L840.2 747.9 L842.0 748.2 L843.9 748.5 L845.7 748.8 L847.5 749.1 L849.3 749.4 L851.2 749.7 L853.0 750.0 L854.9 750.2 L856.7 750.5 L858.5 750.8 L860.4 751.1 L862.2 751.3 L864.1 751.6 L865.6 751.8 L867.1 752.0 L868.5 752.3 L870.0 752.5 L871.5 752.7 L873.0 752.9 L874.5 753.1 L876.0 753.3 L877.5 753.5 L879.0 753.7 L880.5 753.9 L882.0 754.1 L883.5 754.3 L885.0 754.5 L886.5 754.7 L888.0 754.9 L889.5 755.1 L891.0 755.3 L892.5 755.4 L894.0 755.6 L895.5 755.8 L897.0 756.0 L898.6 756.2 L900.1 756.4 L901.6 756.5 L903.1 756.7 L904.6 756.9 L906.1 757.1 L907.7 757.3 L909.2 757.4 L910.7 757.6 L912.2 757.8 L913.8 757.9 L915.3 758.1 L916.8 758.3 L918.4 758.4 L919.9 758.6 L921.4 758.8 L923.0 758.9 L924.5 759.1 L926.0 759.2 L927.6 759.4 L929.1 759.6 L930.7 759.7 L932.2 759.9 L933.8 760.0 L935.3 760.2 L936.8 760.3 L938.4 760.5 L939.9 760.6 L941.5 760.8 L943.0 760.9 L944.6 761.0 L946.2 761.2 L947.7 761.3 L949.3 761.5 L950.8 761.6 L952.4 761.7 L954.0 761.9 L955.5 762.0 L957.1 762.1 L958.6 762.3 L960.2 762.4 L961.8 762.5 L963.3 762.7 L964.9 762.8 L966.5 762.9 L968.1 763.0 L969.6 763.2 L971.2 763.3 L972.8 763.4 L974.4 763.5 L975.9 763.6 L977.5 763.8 L979.1 763.9 L980.7 764.0 L982.3 764.1 L983.9 764.2 L985.4 764.3 L987.0 764.4 L988.6 764.6 L990.2 764.7 L991.8 764.8 L993.4 764.9 L995.0 765.0 L996.6 765.1 L998.2 765.2 L999.8 765.3 L1001.4 765.4 L1003.0 765.5 L1004.6 765.6 L1006.2 765.7 L1007.8 765.8 L1009.4 765.9 L1011.0 766.0 L1012.6 766.1 L1014.2 766.1 L1015.8 766.2 L1017.4 766.3 L1019.0 766.4 L1020.6 766.5 L1022.2 766.6 L1023.8 766.7 L1025.4 766.8 L1027.1 766.8 L1028.7 766.9 L1030.3 767.0 L1031.9 767.1 L1033.5 767.2 L1035.1 767.2 L1036.8 767.3 L1038.4 767.4 L1040.0 767.5 L1041.6 767.5 L1043.3 767.6 L1044.9 767.7 L1046.5 767.8 L1048.1 767.8 L1049.8 767.9 L1051.4 768.0 L1053.0 768.0 L1054.7 768.1 L1056.3 768.2 L1057.9 768.2 L1059.6 768.3 L1061.2 768.3 L1062.8 768.4 L1064.5 768.5 L1066.1 768.5 L1067.7 768.6 L1069.4 768.6 L1071.0 768.7 L1072.7 768.8 L1074.3 768.8 L1075.9 768.9 L1077.6 768.9 L1079.2 769.0 L1080.9 769.0 L1082.5 769.1 L1084.2 769.1 L1085.8 769.2 L1087.5 769.2 L1089.1 769.3 L1090.8 769.3 L1092.4 769.3 L1094.1 769.4 L1095.7 769.4 L1097.4 769.5 L1099.1 769.5 L1100.7 769.6 L1102.4 769.6 L1104.0 769.6 L1105.7 769.7 L1107.3 769.7 L1109.0 769.7 L1110.7 769.8 L1112.3 769.8 L1114.0 769.8 L1115.7 769.9 L1117.3 769.9 L1119.0 769.9 L1120.7 770.0 L1122.3 770.0 L1124.0 770.0 L1125.7 770.1 L1127.3 770.1 L1129.0 770.1 L1130.7 770.1 L1132.4 770.2 L1134.0 770.2 L1135.7 770.2 L1137.4 770.2 L1139.1 770.2 L1140.7 770.3 L1142.4 770.3 L1144.1 770.3 L1145.8 770.3 L1147.4 770.3 L1149.1 770.4 L1150.8 770.4 L1152.5 770.4 L1154.2 770.4 L1155.8 770.4 L1157.5 770.4 L1159.2 770.4 L1160.9 770.5 L1162.6 770.5 L1164.3 770.5 L1166.0 770.5 L1167.6 770.5 L1169.3 770.5 L1171.0 770.5 L1172.7 770.5 L1174.4 770.5 L1176.1 770.5 L1177.8 770.5 L1179.5 770.5 L1181.2 770.5 L1182.9 770.5 L1184.6 770.6 L1186.3 770.6 L1188.0 770.6 L1189.7 770.6 L1191.4 770.6 L1193.0 770.6 L1194.6 770.6 L1196.1 770.6 L1197.6 770.5 L1199.1 770.5 L1200.7 770.5" stroke="#FF00FF"/>
</g>
<g>
<line x1="1013.7" y1="50.0" x2="1088.3" y2="50.0" stroke="#000000" stroke-width="10"/>
<text x="1096" y="62.2" font-size="32.5">Blank</text>
<line x1="1013.7" y1="98.4" x2="1088.3" y2="98.4" stroke="#808000" stroke-width="10"/>
<text x="1096" y="110.6" font-size="32.5">Fe</text>
<text x="1135.1" y="91.8" font-size="20">2+</text>
<line x1="1013.7" y1="146.8" x2="1088.3" y2="146.8" stroke="#8000FF" stroke-width="10"/>
<text x="1096" y="159.0" font-size="32.5">Ca</text>
<text x="1138.7" y="140.2" font-size="20">2+</text>
<line x1="1013.7" y1="195.2" x2="1088.3" y2="195.2" stroke="#FF8000" stroke-width="10"/>
<text x="1096" y="207.4" font-size="32.5">K</text>
<text x="1120.7" y="188.6" font-size="20">+</text>
<line x1="1013.7" y1="243.6" x2="1088.3" y2="243.6" stroke="#0B7A1B" stroke-width="10"/>
<text x="1096" y="255.8" font-size="32.5">Cd</text>
<text x="1140.5" y="237.0" font-size="20">2+</text>
<line x1="1013.7" y1="292.0" x2="1088.3" y2="292.0" stroke="#800000" stroke-width="10"/>
<text x="1096" y="304.2" font-size="32.5">Pb</text>
<text x="1138.7" y="285.4" font-size="20">2+</text>
<line x1="1013.7" y1="340.5" x2="1088.3" y2="340.5" stroke="#800080" stroke-width="10"/>
<text x="1096" y="352.7" font-size="32.5">Hg</text>
<text x="1140.5" y="333.9" font-size="20">2+</text>
<line x1="1013.7" y1="388.9" x2="1088.3" y2="388.9" stroke="#F5087A" stroke-width="10"/>
<text x="1096" y="401.1" font-size="32.5">Cu</text>
<text x="1140.5" y="382.3" font-size="20">2+</text>
<line x1="1013.7" y1="437.3" x2="1088.3" y2="437.3" stroke="#999999" stroke-width="10"/>
<text x="1096" y="449.5" font-size="32.5">Na</text>
<text x="1138.7" y="430.7" font-size="20">+</text>
<line x1="1013.7" y1="485.7" x2="1088.3" y2="485.7" stroke="#EE88EE" stroke-width="10"/>
<text x="1096" y="497.9" font-size="32.5">Ni</text>
<text x="1129.7" y="479.1" font-size="20">2+</text>
<line x1="1013.7" y1="534.1" x2="1088.3" y2="534.1" stroke="#1EF01E" stroke-width="10"/>
<text x="1096" y="546.3" font-size="32.5">Sn</text>
<text x="1138.7" y="527.5" font-size="20">2+</text>
<line x1="1013.7" y1="582.5" x2="1088.3" y2="582.5" stroke="#EE1111" stroke-width="10"/>
<text x="1096" y="594.7" font-size="32.5">Zn</text>
<text x="1136.9" y="575.9" font-size="20">2+</text>
<line x1="1013.7" y1="630.9" x2="1088.3" y2="630.9" stroke="#0A0AE6" stroke-width="10"/>
<text x="1096" y="643.1" font-size="32.5">Co</text>
<text x="1140.5" y="624.3" font-size="20">2+</text>
<line x1="1013.7" y1="679.3" x2="1088.3" y2="679.3" stroke="#FF00FF" stroke-width="10"/>
<text x="1096" y="691.5" font-size="32.5">Fe</text>
<text x="1135.1" y="672.7" font-size="20">3+</text>
</g>
<g>
<text x="154" y="793.3" text-anchor="end" font-size="36">0.0</text>
<text x="154" y="605.2" text-anchor="end" font-size="36">0.5</text>
<text x="154" y="417.2" text-anchor="end" font-size="36">1.0</text>
<text x="154" y="229.1" text-anchor="end" font-size="36">1.5</text>
<text x="154" y="41.1" text-anchor="end" font-size="36">2.0</text>
<text x="178.5" y="835.8" text-anchor="middle" font-size="36">350</text>
<text x="292.0" y="835.8" text-anchor="middle" font-size="36">400</text>
<text x="405.5" y="835.8" text-anchor="middle" font-size="36">450</text>
<text x="519.0" y="835.8" text-anchor="middle" font-size="36">500</text>
<text x="632.5" y="835.8" text-anchor="middle" font-size="36">550</text>
<text x="746.0" y="835.8" text-anchor="middle" font-size="36">600</text>
<text x="859.5" y="835.8" text-anchor="middle" font-size="36">650</text>
<text x="973.0" y="835.8" text-anchor="middle" font-size="36">700</text>
<text x="1086.5" y="835.8" text-anchor="middle" font-size="36">750</text>
<text x="1200.0" y="835.8" text-anchor="middle" font-size="36">800</text>
<text x="689.5" y="904.5" text-anchor="middle" font-size="42" textLength="342" lengthAdjust="spacingAndGlyphs">Wavelength (nm)</text>
<text transform="translate(48 416.5) rotate(-90)" x="0" y="0" text-anchor="middle" font-size="44" textLength="372.5" lengthAdjust="spacingAndGlyphs">Absorbance (a.u.)</text>
</g>
</svg></div>
</body></html>
